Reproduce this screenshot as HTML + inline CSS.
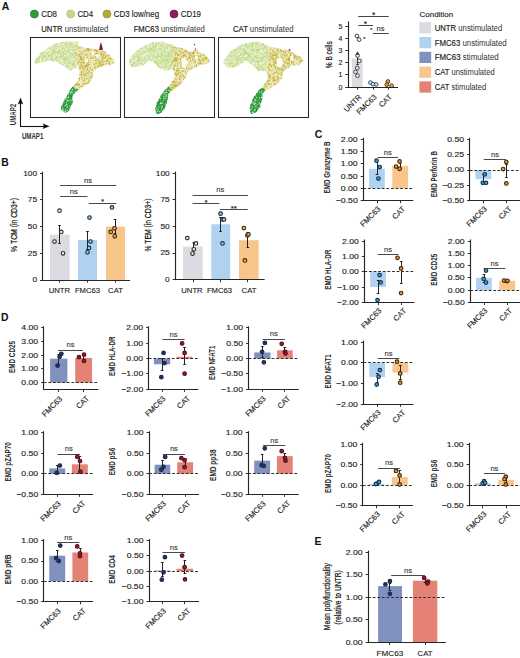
<!DOCTYPE html>
<html><head><meta charset="utf-8"><style>
html,body{margin:0;padding:0;background:#fff;width:520px;height:658px;overflow:hidden}
svg{display:block}
text{font-family:"Liberation Sans", sans-serif}
</style></head><body>
<svg width="520" height="658" viewBox="0 0 520 658">
<rect width="520" height="658" fill="#fff"/>
<text x="1.80" y="9.60" font-size="10.4" text-anchor="start" font-weight="bold" fill="#111">A</text>
<circle cx="34.40" cy="14.00" r="4.0" fill="#2f9a3c" stroke="#1f7a2a" stroke-width="0.7"/>
<text x="41.20" y="17.00" font-size="8.4" text-anchor="start" font-weight="normal" fill="#1c1c1c" textLength="15.80" lengthAdjust="spacingAndGlyphs" stroke="#1c1c1c" stroke-width="0.13">CD8</text>
<circle cx="70.60" cy="14.00" r="4.0" fill="#c3d98c" stroke="#aec676" stroke-width="0.7"/>
<text x="77.40" y="17.00" font-size="8.4" text-anchor="start" font-weight="normal" fill="#1c1c1c" textLength="15.80" lengthAdjust="spacingAndGlyphs" stroke="#1c1c1c" stroke-width="0.13">CD4</text>
<circle cx="107.00" cy="14.00" r="4.0" fill="#b7a83e" stroke="#9a8c2c" stroke-width="0.7"/>
<text x="113.80" y="17.00" font-size="8.4" text-anchor="start" font-weight="normal" fill="#1c1c1c" textLength="45.23" lengthAdjust="spacingAndGlyphs" stroke="#1c1c1c" stroke-width="0.13">CD3 low/neg</text>
<circle cx="174.00" cy="14.00" r="4.0" fill="#8a1f62" stroke="#6a1248" stroke-width="0.7"/>
<text x="180.80" y="17.00" font-size="8.4" text-anchor="start" font-weight="normal" fill="#1c1c1c" textLength="20.20" lengthAdjust="spacingAndGlyphs" stroke="#1c1c1c" stroke-width="0.13">CD19</text>
<text x="74.80" y="32.00" font-size="8.3" text-anchor="middle" fill="#1c1c1c" textLength="67.00" lengthAdjust="spacingAndGlyphs"><tspan stroke="#1c1c1c" stroke-width="0.16">UNTR</tspan><tspan fill="#333"> unstimulated</tspan></text>
<text x="169.20" y="32.00" font-size="8.3" text-anchor="middle" fill="#1c1c1c" textLength="71.04" lengthAdjust="spacingAndGlyphs"><tspan stroke="#1c1c1c" stroke-width="0.16">FMC63</tspan><tspan fill="#333"> unstimulated</tspan></text>
<text x="263.30" y="32.00" font-size="8.3" text-anchor="middle" fill="#1c1c1c" textLength="60.48" lengthAdjust="spacingAndGlyphs"><tspan stroke="#1c1c1c" stroke-width="0.16">CAT</tspan><tspan fill="#333"> unstimulated</tspan></text>
<rect x="30.50" y="37.50" width="90" height="80" fill="#fff" stroke="#2a2a2a" stroke-width="1.05"/>
<polygon points="33.8,62.0 39.6,54.3 49.2,46.7 58.8,42.8 68.5,40.9 78.1,41.8 77.1,46.1 75.6,57.2 77.1,67.7 74.1,68.7 70.4,70.7 63.7,65.9 56.9,62.0 49.2,60.1 39.6,63.0 34.6,63.7" fill="#d9e9b2"/>
<circle cx="68.2" cy="48.0" r="0.7" fill="#c9dd94"/>
<circle cx="68.0" cy="54.9" r="0.7" fill="#c9dd94"/>
<circle cx="69.3" cy="42.9" r="0.7" fill="#c0d783"/>
<circle cx="74.2" cy="52.3" r="0.7" fill="#b7d07a"/>
<circle cx="76.3" cy="52.0" r="0.7" fill="#c0d783"/>
<circle cx="75.7" cy="53.1" r="0.7" fill="#b7d07a"/>
<circle cx="75.5" cy="43.1" r="0.7" fill="#b7d07a"/>
<circle cx="66.2" cy="62.5" r="0.7" fill="#c9dd94"/>
<circle cx="72.3" cy="55.2" r="0.7" fill="#b7d07a"/>
<circle cx="69.7" cy="53.1" r="0.7" fill="#c0d783"/>
<circle cx="68.7" cy="63.4" r="0.7" fill="#c0d783"/>
<circle cx="53.1" cy="56.1" r="0.7" fill="#c0d783"/>
<circle cx="56.9" cy="52.4" r="0.7" fill="#c9dd94"/>
<circle cx="66.7" cy="54.8" r="0.7" fill="#c9dd94"/>
<circle cx="60.3" cy="52.4" r="0.7" fill="#c0d783"/>
<circle cx="75.4" cy="57.3" r="0.7" fill="#c9dd94"/>
<circle cx="59.6" cy="54.5" r="0.7" fill="#c9dd94"/>
<circle cx="63.3" cy="59.3" r="0.7" fill="#b7d07a"/>
<circle cx="70.8" cy="68.1" r="0.7" fill="#b7d07a"/>
<circle cx="56.5" cy="44.0" r="0.7" fill="#b7d07a"/>
<circle cx="55.1" cy="51.5" r="0.7" fill="#b7d07a"/>
<circle cx="42.1" cy="56.0" r="0.7" fill="#c9dd94"/>
<circle cx="70.5" cy="53.1" r="0.7" fill="#c0d783"/>
<circle cx="57.7" cy="59.7" r="0.7" fill="#b7d07a"/>
<circle cx="48.1" cy="59.0" r="0.7" fill="#c0d783"/>
<circle cx="62.2" cy="57.4" r="0.7" fill="#c0d783"/>
<circle cx="72.7" cy="65.3" r="0.7" fill="#c9dd94"/>
<circle cx="69.7" cy="45.8" r="0.7" fill="#c9dd94"/>
<circle cx="57.2" cy="45.2" r="0.7" fill="#c9dd94"/>
<circle cx="62.8" cy="49.3" r="0.7" fill="#b7d07a"/>
<circle cx="47.7" cy="55.0" r="0.7" fill="#c0d783"/>
<circle cx="47.2" cy="50.8" r="0.7" fill="#c0d783"/>
<circle cx="56.2" cy="53.5" r="0.7" fill="#c0d783"/>
<circle cx="65.0" cy="54.2" r="0.7" fill="#b7d07a"/>
<circle cx="62.8" cy="52.5" r="0.7" fill="#b7d07a"/>
<circle cx="70.0" cy="60.9" r="0.7" fill="#c9dd94"/>
<circle cx="67.2" cy="53.1" r="0.7" fill="#c9dd94"/>
<circle cx="38.8" cy="57.7" r="0.7" fill="#c0d783"/>
<circle cx="60.1" cy="46.8" r="0.7" fill="#b7d07a"/>
<circle cx="73.1" cy="64.7" r="0.7" fill="#b7d07a"/>
<circle cx="56.4" cy="51.9" r="0.7" fill="#c9dd94"/>
<circle cx="37.4" cy="58.1" r="0.7" fill="#c9dd94"/>
<circle cx="60.2" cy="55.6" r="0.7" fill="#b7d07a"/>
<circle cx="50.9" cy="55.9" r="0.7" fill="#c0d783"/>
<circle cx="76.0" cy="50.8" r="0.7" fill="#b7d07a"/>
<circle cx="40.5" cy="57.0" r="0.7" fill="#c9dd94"/>
<circle cx="67.9" cy="59.0" r="0.7" fill="#c9dd94"/>
<circle cx="49.8" cy="50.7" r="0.7" fill="#c9dd94"/>
<circle cx="68.9" cy="62.6" r="0.7" fill="#c9dd94"/>
<circle cx="39.1" cy="57.4" r="0.7" fill="#c0d783"/>
<circle cx="47.6" cy="52.8" r="0.7" fill="#c9dd94"/>
<circle cx="72.9" cy="65.0" r="0.7" fill="#c0d783"/>
<circle cx="48.6" cy="59.5" r="0.7" fill="#c9dd94"/>
<circle cx="49.7" cy="49.3" r="0.7" fill="#b7d07a"/>
<circle cx="75.6" cy="54.5" r="0.7" fill="#c9dd94"/>
<circle cx="46.5" cy="59.4" r="0.7" fill="#c0d783"/>
<circle cx="67.2" cy="43.2" r="0.7" fill="#c9dd94"/>
<circle cx="70.1" cy="57.2" r="0.7" fill="#c9dd94"/>
<circle cx="58.3" cy="62.5" r="0.7" fill="#c9dd94"/>
<circle cx="37.4" cy="60.6" r="0.7" fill="#c0d783"/>
<circle cx="75.7" cy="63.0" r="0.7" fill="#c9dd94"/>
<circle cx="53.6" cy="49.9" r="0.7" fill="#c0d783"/>
<circle cx="60.6" cy="54.4" r="0.7" fill="#c9dd94"/>
<circle cx="42.8" cy="59.5" r="0.7" fill="#b7d07a"/>
<circle cx="73.0" cy="54.8" r="0.7" fill="#c9dd94"/>
<circle cx="44.8" cy="57.1" r="0.7" fill="#c9dd94"/>
<circle cx="70.8" cy="42.7" r="0.7" fill="#c9dd94"/>
<circle cx="37.0" cy="58.2" r="0.7" fill="#c9dd94"/>
<circle cx="47.0" cy="50.3" r="0.7" fill="#c9dd94"/>
<circle cx="69.5" cy="58.3" r="0.7" fill="#c9dd94"/>
<circle cx="70.2" cy="52.7" r="0.7" fill="#c9dd94"/>
<circle cx="36.3" cy="60.1" r="0.7" fill="#c9dd94"/>
<circle cx="67.6" cy="51.3" r="0.7" fill="#c9dd94"/>
<circle cx="72.7" cy="44.8" r="0.7" fill="#b7d07a"/>
<circle cx="68.8" cy="50.3" r="0.7" fill="#b7d07a"/>
<circle cx="76.7" cy="45.4" r="0.7" fill="#c0d783"/>
<circle cx="74.6" cy="65.5" r="0.7" fill="#b7d07a"/>
<circle cx="71.7" cy="63.6" r="0.7" fill="#b7d07a"/>
<circle cx="72.7" cy="47.8" r="0.7" fill="#c0d783"/>
<circle cx="64.4" cy="54.1" r="0.7" fill="#c9dd94"/>
<circle cx="58.2" cy="57.1" r="0.7" fill="#b7d07a"/>
<circle cx="53.8" cy="52.5" r="0.7" fill="#c9dd94"/>
<circle cx="40.7" cy="55.3" r="0.7" fill="#b7d07a"/>
<circle cx="59.7" cy="58.8" r="0.7" fill="#c0d783"/>
<circle cx="51.2" cy="52.7" r="0.7" fill="#b7d07a"/>
<circle cx="75.9" cy="60.2" r="0.7" fill="#c0d783"/>
<circle cx="43.8" cy="55.6" r="0.7" fill="#c9dd94"/>
<circle cx="48.4" cy="59.3" r="0.7" fill="#b7d07a"/>
<circle cx="75.3" cy="48.7" r="0.7" fill="#b7d07a"/>
<circle cx="68.1" cy="60.4" r="0.7" fill="#c9dd94"/>
<circle cx="73.7" cy="49.8" r="0.7" fill="#b7d07a"/>
<circle cx="46.7" cy="57.5" r="0.7" fill="#c0d783"/>
<circle cx="65.3" cy="63.3" r="0.7" fill="#b7d07a"/>
<circle cx="60.9" cy="56.2" r="0.7" fill="#c9dd94"/>
<circle cx="42.9" cy="58.0" r="0.7" fill="#c0d783"/>
<circle cx="55.7" cy="52.4" r="0.7" fill="#b7d07a"/>
<circle cx="48.9" cy="56.3" r="0.7" fill="#c0d783"/>
<circle cx="66.9" cy="42.6" r="0.7" fill="#c0d783"/>
<circle cx="53.1" cy="59.7" r="0.7" fill="#c9dd94"/>
<circle cx="77.2" cy="43.7" r="0.7" fill="#b7d07a"/>
<circle cx="63.4" cy="48.7" r="0.7" fill="#c9dd94"/>
<circle cx="41.6" cy="53.9" r="0.7" fill="#c0d783"/>
<circle cx="67.9" cy="66.4" r="0.7" fill="#c9dd94"/>
<circle cx="69.4" cy="65.6" r="0.7" fill="#c0d783"/>
<circle cx="58.1" cy="55.5" r="0.7" fill="#c0d783"/>
<circle cx="68.4" cy="58.0" r="0.7" fill="#c9dd94"/>
<circle cx="66.3" cy="60.6" r="0.7" fill="#c0d783"/>
<circle cx="56.0" cy="58.1" r="0.7" fill="#c9dd94"/>
<circle cx="67.9" cy="50.2" r="0.7" fill="#c0d783"/>
<circle cx="53.3" cy="54.2" r="0.7" fill="#c9dd94"/>
<circle cx="57.8" cy="50.7" r="0.7" fill="#b7d07a"/>
<circle cx="64.4" cy="55.6" r="0.7" fill="#b7d07a"/>
<circle cx="75.3" cy="52.1" r="0.7" fill="#b7d07a"/>
<circle cx="71.2" cy="56.1" r="0.7" fill="#c9dd94"/>
<circle cx="60.6" cy="56.3" r="0.7" fill="#b7d07a"/>
<circle cx="65.3" cy="54.2" r="0.7" fill="#b7d07a"/>
<circle cx="57.4" cy="51.3" r="0.7" fill="#c0d783"/>
<circle cx="64.2" cy="58.3" r="0.7" fill="#c9dd94"/>
<circle cx="48.4" cy="59.7" r="0.7" fill="#b7d07a"/>
<circle cx="66.2" cy="44.9" r="0.7" fill="#c9dd94"/>
<circle cx="69.0" cy="66.8" r="0.7" fill="#c0d783"/>
<circle cx="70.5" cy="59.2" r="0.7" fill="#c9dd94"/>
<circle cx="75.1" cy="65.3" r="0.7" fill="#c9dd94"/>
<circle cx="73.3" cy="57.2" r="0.7" fill="#c0d783"/>
<circle cx="54.2" cy="48.1" r="0.7" fill="#c0d783"/>
<circle cx="52.4" cy="51.2" r="0.7" fill="#b7d07a"/>
<circle cx="53.3" cy="45.1" r="0.7" fill="#b7d07a"/>
<circle cx="60.8" cy="46.5" r="0.7" fill="#c0d783"/>
<circle cx="36.0" cy="62.1" r="0.7" fill="#b7d07a"/>
<circle cx="63.3" cy="54.8" r="0.7" fill="#b7d07a"/>
<circle cx="66.9" cy="45.3" r="0.7" fill="#b7d07a"/>
<circle cx="58.6" cy="51.2" r="0.7" fill="#b7d07a"/>
<circle cx="43.5" cy="57.7" r="0.7" fill="#c0d783"/>
<circle cx="55.2" cy="48.2" r="0.7" fill="#b7d07a"/>
<circle cx="74.4" cy="59.7" r="0.7" fill="#c9dd94"/>
<circle cx="36.2" cy="63.2" r="0.7" fill="#b7d07a"/>
<circle cx="66.5" cy="59.2" r="0.7" fill="#c9dd94"/>
<circle cx="54.1" cy="45.1" r="0.7" fill="#c0d783"/>
<circle cx="74.2" cy="53.9" r="0.7" fill="#c9dd94"/>
<circle cx="67.6" cy="47.5" r="0.7" fill="#b7d07a"/>
<circle cx="42.3" cy="61.6" r="0.7" fill="#c0d783"/>
<circle cx="65.4" cy="65.8" r="0.7" fill="#b7d07a"/>
<circle cx="53.3" cy="61.0" r="0.7" fill="#c9dd94"/>
<circle cx="38.3" cy="61.9" r="0.7" fill="#c0d783"/>
<circle cx="45.9" cy="57.3" r="0.7" fill="#c9dd94"/>
<circle cx="48.1" cy="58.8" r="0.7" fill="#c0d783"/>
<circle cx="69.7" cy="67.2" r="0.7" fill="#c9dd94"/>
<circle cx="74.0" cy="66.9" r="0.7" fill="#c9dd94"/>
<circle cx="75.3" cy="52.6" r="0.7" fill="#b7d07a"/>
<circle cx="67.3" cy="61.7" r="0.7" fill="#c0d783"/>
<circle cx="63.5" cy="52.3" r="0.7" fill="#b7d07a"/>
<circle cx="62.2" cy="47.7" r="0.7" fill="#b7d07a"/>
<circle cx="49.0" cy="59.2" r="0.7" fill="#b7d07a"/>
<circle cx="74.7" cy="57.3" r="0.7" fill="#b7d07a"/>
<circle cx="65.8" cy="63.5" r="0.7" fill="#b7d07a"/>
<circle cx="77.8" cy="42.2" r="0.7" fill="#c0d783"/>
<circle cx="75.3" cy="67.1" r="0.7" fill="#c0d783"/>
<circle cx="70.4" cy="54.8" r="0.7" fill="#c9dd94"/>
<circle cx="68.1" cy="68.5" r="0.7" fill="#c9dd94"/>
<circle cx="69.6" cy="65.6" r="0.7" fill="#b7d07a"/>
<circle cx="46.9" cy="53.4" r="0.7" fill="#c0d783"/>
<circle cx="56.1" cy="46.4" r="0.7" fill="#c9dd94"/>
<circle cx="56.4" cy="52.3" r="0.7" fill="#b7d07a"/>
<circle cx="70.5" cy="56.6" r="0.7" fill="#b7d07a"/>
<circle cx="66.1" cy="66.4" r="0.7" fill="#b7d07a"/>
<circle cx="67.2" cy="46.3" r="0.7" fill="#c9dd94"/>
<circle cx="48.8" cy="58.2" r="0.7" fill="#c0d783"/>
<circle cx="57.5" cy="53.2" r="0.7" fill="#c9dd94"/>
<circle cx="49.1" cy="50.2" r="0.7" fill="#b7d07a"/>
<circle cx="66.5" cy="64.9" r="0.7" fill="#b7d07a"/>
<circle cx="70.6" cy="69.3" r="0.7" fill="#b7d07a"/>
<circle cx="69.9" cy="44.2" r="0.7" fill="#b7d07a"/>
<circle cx="59.4" cy="50.7" r="0.7" fill="#b7d07a"/>
<circle cx="49.9" cy="49.7" r="0.7" fill="#b7d07a"/>
<circle cx="64.6" cy="57.8" r="0.7" fill="#c0d783"/>
<circle cx="41.3" cy="53.0" r="0.7" fill="#b7d07a"/>
<circle cx="65.9" cy="46.4" r="0.7" fill="#c0d783"/>
<circle cx="62.1" cy="56.6" r="0.7" fill="#c0d783"/>
<circle cx="72.4" cy="65.2" r="0.7" fill="#c0d783"/>
<circle cx="62.6" cy="45.4" r="0.7" fill="#c9dd94"/>
<circle cx="72.0" cy="62.5" r="0.7" fill="#c9dd94"/>
<circle cx="43.7" cy="54.3" r="0.7" fill="#c9dd94"/>
<circle cx="69.8" cy="63.0" r="0.7" fill="#c9dd94"/>
<circle cx="57.4" cy="52.0" r="0.7" fill="#c9dd94"/>
<circle cx="36.3" cy="59.5" r="0.7" fill="#b7d07a"/>
<circle cx="69.7" cy="58.5" r="0.7" fill="#c0d783"/>
<circle cx="65.0" cy="60.3" r="0.7" fill="#b7d07a"/>
<circle cx="73.9" cy="63.7" r="0.7" fill="#b7d07a"/>
<circle cx="45.9" cy="53.0" r="0.7" fill="#b7d07a"/>
<circle cx="51.7" cy="59.9" r="0.7" fill="#c9dd94"/>
<circle cx="45.8" cy="60.9" r="0.7" fill="#b7d07a"/>
<circle cx="69.0" cy="60.1" r="0.7" fill="#c9dd94"/>
<circle cx="68.4" cy="52.3" r="0.7" fill="#c0d783"/>
<circle cx="55.2" cy="44.5" r="0.7" fill="#c0d783"/>
<circle cx="60.1" cy="49.0" r="0.7" fill="#c9dd94"/>
<circle cx="44.7" cy="56.2" r="0.7" fill="#b7d07a"/>
<circle cx="52.3" cy="48.6" r="0.7" fill="#c9dd94"/>
<circle cx="68.8" cy="55.3" r="0.7" fill="#b7d07a"/>
<circle cx="71.2" cy="70.1" r="0.7" fill="#c9dd94"/>
<circle cx="66.0" cy="42.8" r="0.7" fill="#c0d783"/>
<circle cx="66.6" cy="43.2" r="0.7" fill="#c0d783"/>
<circle cx="71.4" cy="42.7" r="0.7" fill="#b7d07a"/>
<circle cx="42.9" cy="53.3" r="0.7" fill="#c0d783"/>
<circle cx="37.6" cy="57.5" r="0.7" fill="#c9dd94"/>
<circle cx="71.5" cy="63.5" r="0.7" fill="#c9dd94"/>
<circle cx="64.5" cy="45.6" r="0.7" fill="#b7d07a"/>
<circle cx="72.5" cy="64.9" r="0.7" fill="#b7d07a"/>
<circle cx="64.4" cy="55.7" r="0.7" fill="#c9dd94"/>
<circle cx="74.7" cy="46.3" r="0.7" fill="#b7d07a"/>
<circle cx="73.0" cy="60.1" r="0.7" fill="#b7d07a"/>
<circle cx="75.1" cy="65.0" r="0.7" fill="#b7d07a"/>
<circle cx="48.4" cy="55.4" r="0.7" fill="#c0d783"/>
<circle cx="67.9" cy="63.1" r="0.7" fill="#c9dd94"/>
<circle cx="45.2" cy="57.1" r="0.7" fill="#c9dd94"/>
<circle cx="51.7" cy="59.9" r="0.7" fill="#c0d783"/>
<circle cx="57.5" cy="59.3" r="0.7" fill="#c0d783"/>
<circle cx="76.6" cy="48.5" r="0.7" fill="#c9dd94"/>
<circle cx="65.0" cy="48.4" r="0.7" fill="#c0d783"/>
<circle cx="55.9" cy="58.9" r="0.7" fill="#c0d783"/>
<circle cx="48.5" cy="59.2" r="0.7" fill="#c0d783"/>
<circle cx="67.0" cy="58.4" r="0.7" fill="#c9dd94"/>
<circle cx="74.1" cy="49.9" r="0.7" fill="#c9dd94"/>
<circle cx="73.9" cy="62.1" r="0.7" fill="#c0d783"/>
<circle cx="65.3" cy="57.8" r="0.7" fill="#b7d07a"/>
<circle cx="38.2" cy="57.8" r="0.7" fill="#b7d07a"/>
<circle cx="61.3" cy="42.6" r="0.7" fill="#c0d783"/>
<circle cx="45.8" cy="59.8" r="0.7" fill="#c9dd94"/>
<circle cx="74.4" cy="44.5" r="0.7" fill="#b7d07a"/>
<circle cx="66.4" cy="43.2" r="0.7" fill="#c9dd94"/>
<circle cx="44.3" cy="56.7" r="0.7" fill="#c9dd94"/>
<circle cx="62.4" cy="47.6" r="0.7" fill="#b7d07a"/>
<circle cx="69.4" cy="62.9" r="0.7" fill="#c0d783"/>
<circle cx="61.5" cy="56.7" r="0.7" fill="#b7d07a"/>
<circle cx="60.6" cy="43.4" r="0.7" fill="#c0d783"/>
<circle cx="42.8" cy="53.7" r="0.7" fill="#b7d07a"/>
<circle cx="76.5" cy="48.2" r="0.7" fill="#c0d783"/>
<circle cx="58.0" cy="57.2" r="0.7" fill="#b7d07a"/>
<circle cx="56.3" cy="58.4" r="0.7" fill="#b7d07a"/>
<circle cx="72.1" cy="50.6" r="0.7" fill="#c9dd94"/>
<circle cx="50.5" cy="53.9" r="0.7" fill="#c0d783"/>
<circle cx="70.5" cy="44.1" r="0.7" fill="#b7d07a"/>
<circle cx="60.5" cy="53.3" r="0.7" fill="#c9dd94"/>
<circle cx="51.7" cy="59.2" r="0.7" fill="#c0d783"/>
<circle cx="62.7" cy="62.1" r="0.7" fill="#c0d783"/>
<circle cx="71.3" cy="58.6" r="0.7" fill="#b7d07a"/>
<circle cx="56.3" cy="51.2" r="0.7" fill="#c9dd94"/>
<circle cx="69.0" cy="58.0" r="0.7" fill="#b7d07a"/>
<circle cx="49.3" cy="55.0" r="0.7" fill="#b7d07a"/>
<circle cx="43.9" cy="57.8" r="0.7" fill="#c9dd94"/>
<circle cx="73.2" cy="43.6" r="0.7" fill="#c0d783"/>
<circle cx="75.2" cy="49.9" r="0.7" fill="#b7d07a"/>
<circle cx="50.2" cy="49.2" r="0.7" fill="#c9dd94"/>
<circle cx="62.2" cy="56.4" r="0.7" fill="#c0d783"/>
<circle cx="56.6" cy="57.2" r="0.7" fill="#b7d07a"/>
<circle cx="55.4" cy="50.7" r="0.7" fill="#b7d07a"/>
<circle cx="38.4" cy="58.4" r="0.7" fill="#c9dd94"/>
<circle cx="74.3" cy="52.1" r="0.7" fill="#c0d783"/>
<circle cx="51.2" cy="47.1" r="0.7" fill="#c0d783"/>
<circle cx="63.2" cy="64.8" r="0.7" fill="#c9dd94"/>
<circle cx="67.2" cy="51.7" r="0.7" fill="#b7d07a"/>
<circle cx="68.6" cy="62.9" r="0.7" fill="#c0d783"/>
<circle cx="52.8" cy="52.6" r="0.7" fill="#c0d783"/>
<circle cx="71.7" cy="44.7" r="0.7" fill="#c9dd94"/>
<circle cx="54.0" cy="51.9" r="0.7" fill="#b7d07a"/>
<circle cx="69.7" cy="49.1" r="0.7" fill="#c0d783"/>
<circle cx="39.9" cy="56.6" r="0.7" fill="#c0d783"/>
<circle cx="51.2" cy="60.1" r="0.7" fill="#b7d07a"/>
<circle cx="69.5" cy="47.2" r="0.7" fill="#b7d07a"/>
<circle cx="74.8" cy="61.0" r="0.7" fill="#c9dd94"/>
<circle cx="63.5" cy="42.3" r="0.7" fill="#b7d07a"/>
<circle cx="40.9" cy="58.5" r="0.7" fill="#b7d07a"/>
<circle cx="41.6" cy="55.9" r="0.7" fill="#b7d07a"/>
<circle cx="63.1" cy="57.0" r="0.7" fill="#c0d783"/>
<circle cx="51.2" cy="54.7" r="0.7" fill="#b7d07a"/>
<circle cx="62.6" cy="52.2" r="0.7" fill="#b7d07a"/>
<circle cx="72.6" cy="54.7" r="0.7" fill="#b7d07a"/>
<circle cx="52.0" cy="58.8" r="0.7" fill="#b7d07a"/>
<circle cx="65.6" cy="50.0" r="0.7" fill="#b7d07a"/>
<circle cx="70.0" cy="57.5" r="0.7" fill="#b7d07a"/>
<circle cx="51.1" cy="52.3" r="0.7" fill="#c0d783"/>
<circle cx="55.7" cy="48.8" r="0.7" fill="#c0d783"/>
<circle cx="75.8" cy="48.1" r="0.7" fill="#c9dd94"/>
<circle cx="49.0" cy="48.8" r="0.7" fill="#c9dd94"/>
<circle cx="61.4" cy="57.2" r="0.7" fill="#b7d07a"/>
<circle cx="73.2" cy="58.3" r="0.7" fill="#b7d07a"/>
<circle cx="39.9" cy="61.1" r="0.7" fill="#c0d783"/>
<circle cx="67.4" cy="52.1" r="0.7" fill="#b7d07a"/>
<circle cx="39.2" cy="58.9" r="0.7" fill="#b7d07a"/>
<circle cx="44.0" cy="52.0" r="0.7" fill="#c9dd94"/>
<circle cx="39.5" cy="55.5" r="0.7" fill="#c9dd94"/>
<circle cx="42.5" cy="54.6" r="0.7" fill="#c9dd94"/>
<circle cx="69.9" cy="59.7" r="0.7" fill="#c0d783"/>
<circle cx="61.3" cy="63.9" r="0.7" fill="#c9dd94"/>
<circle cx="69.0" cy="45.0" r="0.7" fill="#c0d783"/>
<circle cx="62.1" cy="47.7" r="0.7" fill="#c0d783"/>
<circle cx="56.1" cy="52.5" r="0.7" fill="#b7d07a"/>
<circle cx="63.4" cy="56.4" r="0.7" fill="#b7d07a"/>
<circle cx="59.6" cy="63.0" r="0.7" fill="#b7d07a"/>
<circle cx="68.1" cy="51.9" r="0.7" fill="#c9dd94"/>
<circle cx="58.0" cy="47.2" r="0.7" fill="#c0d783"/>
<circle cx="62.4" cy="61.3" r="0.55" fill="#ffffff"/>
<circle cx="68.4" cy="53.3" r="0.55" fill="#f4f9e8"/>
<circle cx="55.7" cy="61.2" r="0.55" fill="#ffffff"/>
<circle cx="67.7" cy="55.4" r="0.55" fill="#f4f9e8"/>
<circle cx="70.9" cy="57.0" r="0.55" fill="#f4f9e8"/>
<circle cx="74.8" cy="42.9" r="0.55" fill="#ffffff"/>
<circle cx="72.0" cy="66.4" r="0.55" fill="#ffffff"/>
<circle cx="41.6" cy="56.1" r="0.55" fill="#f4f9e8"/>
<circle cx="68.8" cy="42.0" r="0.55" fill="#ffffff"/>
<circle cx="74.8" cy="49.0" r="0.55" fill="#ffffff"/>
<circle cx="72.9" cy="57.9" r="0.55" fill="#ffffff"/>
<circle cx="71.8" cy="60.4" r="0.55" fill="#f4f9e8"/>
<circle cx="45.2" cy="51.1" r="0.55" fill="#ffffff"/>
<circle cx="54.9" cy="53.5" r="0.55" fill="#f4f9e8"/>
<circle cx="69.6" cy="58.9" r="0.55" fill="#f4f9e8"/>
<circle cx="69.4" cy="51.4" r="0.55" fill="#f4f9e8"/>
<circle cx="59.5" cy="43.5" r="0.55" fill="#ffffff"/>
<circle cx="76.0" cy="63.8" r="0.55" fill="#ffffff"/>
<circle cx="62.3" cy="58.4" r="0.55" fill="#f4f9e8"/>
<circle cx="74.3" cy="42.6" r="0.55" fill="#f4f9e8"/>
<circle cx="74.9" cy="51.4" r="0.55" fill="#ffffff"/>
<circle cx="74.3" cy="44.6" r="0.55" fill="#ffffff"/>
<circle cx="52.3" cy="51.3" r="0.55" fill="#f4f9e8"/>
<circle cx="72.2" cy="59.3" r="0.55" fill="#ffffff"/>
<circle cx="65.7" cy="64.3" r="0.55" fill="#ffffff"/>
<circle cx="70.8" cy="48.3" r="0.55" fill="#f4f9e8"/>
<circle cx="58.3" cy="58.1" r="0.55" fill="#ffffff"/>
<circle cx="76.1" cy="48.4" r="0.55" fill="#ffffff"/>
<circle cx="38.6" cy="57.4" r="0.55" fill="#f4f9e8"/>
<circle cx="66.2" cy="41.4" r="0.55" fill="#f4f9e8"/>
<circle cx="69.3" cy="65.7" r="0.55" fill="#ffffff"/>
<circle cx="70.9" cy="42.3" r="0.55" fill="#f4f9e8"/>
<circle cx="48.5" cy="49.3" r="0.55" fill="#ffffff"/>
<circle cx="69.8" cy="41.1" r="0.55" fill="#f4f9e8"/>
<circle cx="58.6" cy="62.4" r="0.55" fill="#f4f9e8"/>
<circle cx="43.6" cy="58.6" r="0.55" fill="#ffffff"/>
<circle cx="66.2" cy="54.5" r="0.55" fill="#ffffff"/>
<circle cx="49.5" cy="54.4" r="0.55" fill="#f4f9e8"/>
<circle cx="68.2" cy="42.6" r="0.55" fill="#ffffff"/>
<circle cx="55.5" cy="51.7" r="0.55" fill="#f4f9e8"/>
<circle cx="76.5" cy="42.2" r="0.55" fill="#ffffff"/>
<circle cx="41.5" cy="59.7" r="0.55" fill="#f4f9e8"/>
<circle cx="61.2" cy="51.5" r="0.55" fill="#f4f9e8"/>
<circle cx="61.8" cy="61.0" r="0.55" fill="#f4f9e8"/>
<circle cx="71.1" cy="58.4" r="0.55" fill="#f4f9e8"/>
<circle cx="65.3" cy="65.5" r="0.55" fill="#f4f9e8"/>
<circle cx="60.6" cy="63.4" r="0.55" fill="#f4f9e8"/>
<circle cx="60.8" cy="45.2" r="0.55" fill="#f4f9e8"/>
<circle cx="64.1" cy="56.6" r="0.55" fill="#f4f9e8"/>
<circle cx="60.9" cy="48.1" r="0.55" fill="#f4f9e8"/>
<circle cx="69.0" cy="54.4" r="0.55" fill="#f4f9e8"/>
<circle cx="43.5" cy="54.0" r="0.55" fill="#f4f9e8"/>
<circle cx="75.7" cy="62.0" r="0.55" fill="#ffffff"/>
<circle cx="50.6" cy="53.8" r="0.55" fill="#ffffff"/>
<circle cx="67.2" cy="49.6" r="0.55" fill="#ffffff"/>
<circle cx="47.8" cy="49.7" r="0.55" fill="#ffffff"/>
<circle cx="62.7" cy="44.0" r="0.55" fill="#f4f9e8"/>
<circle cx="65.2" cy="45.7" r="0.55" fill="#f4f9e8"/>
<circle cx="46.8" cy="51.9" r="0.55" fill="#f4f9e8"/>
<circle cx="70.3" cy="67.2" r="0.55" fill="#ffffff"/>
<circle cx="51.7" cy="47.3" r="0.55" fill="#ffffff"/>
<circle cx="61.4" cy="59.9" r="0.55" fill="#ffffff"/>
<circle cx="65.8" cy="52.0" r="0.55" fill="#ffffff"/>
<circle cx="66.1" cy="49.4" r="0.55" fill="#f4f9e8"/>
<circle cx="47.0" cy="55.7" r="0.55" fill="#ffffff"/>
<circle cx="56.6" cy="50.0" r="0.55" fill="#ffffff"/>
<circle cx="59.8" cy="49.2" r="0.55" fill="#f4f9e8"/>
<circle cx="67.6" cy="60.2" r="0.55" fill="#ffffff"/>
<circle cx="67.4" cy="63.7" r="0.55" fill="#f4f9e8"/>
<circle cx="56.6" cy="45.1" r="0.55" fill="#f4f9e8"/>
<circle cx="35.7" cy="63.2" r="0.55" fill="#ffffff"/>
<circle cx="57.7" cy="50.5" r="0.55" fill="#ffffff"/>
<circle cx="61.1" cy="57.7" r="0.55" fill="#f4f9e8"/>
<circle cx="58.3" cy="47.9" r="0.55" fill="#ffffff"/>
<circle cx="58.8" cy="56.0" r="0.55" fill="#ffffff"/>
<circle cx="68.1" cy="46.8" r="0.55" fill="#ffffff"/>
<circle cx="66.4" cy="41.9" r="0.55" fill="#f4f9e8"/>
<circle cx="46.1" cy="50.8" r="0.55" fill="#ffffff"/>
<circle cx="63.6" cy="43.7" r="0.55" fill="#ffffff"/>
<circle cx="35.3" cy="63.1" r="0.55" fill="#ffffff"/>
<circle cx="44.5" cy="53.3" r="0.55" fill="#ffffff"/>
<circle cx="66.3" cy="62.9" r="0.55" fill="#ffffff"/>
<circle cx="47.9" cy="51.3" r="0.55" fill="#f4f9e8"/>
<circle cx="72.8" cy="52.2" r="0.55" fill="#f4f9e8"/>
<circle cx="75.9" cy="66.4" r="0.55" fill="#f4f9e8"/>
<circle cx="73.4" cy="68.9" r="0.55" fill="#ffffff"/>
<circle cx="53.0" cy="48.7" r="0.55" fill="#f4f9e8"/>
<circle cx="67.7" cy="51.7" r="0.55" fill="#f4f9e8"/>
<circle cx="49.7" cy="49.9" r="0.55" fill="#f4f9e8"/>
<circle cx="56.5" cy="51.7" r="0.55" fill="#f4f9e8"/>
<circle cx="40.6" cy="57.9" r="0.55" fill="#ffffff"/>
<circle cx="40.5" cy="60.4" r="0.55" fill="#ffffff"/>
<circle cx="61.1" cy="47.4" r="0.55" fill="#f4f9e8"/>
<circle cx="47.1" cy="53.5" r="0.55" fill="#f4f9e8"/>
<circle cx="71.9" cy="61.7" r="0.55" fill="#ffffff"/>
<circle cx="64.5" cy="55.2" r="0.55" fill="#ffffff"/>
<circle cx="73.1" cy="67.2" r="0.55" fill="#f4f9e8"/>
<circle cx="45.3" cy="59.4" r="0.55" fill="#ffffff"/>
<circle cx="46.9" cy="57.8" r="0.55" fill="#ffffff"/>
<circle cx="74.0" cy="44.4" r="0.55" fill="#ffffff"/>
<circle cx="69.3" cy="67.3" r="0.55" fill="#f4f9e8"/>
<circle cx="59.7" cy="55.0" r="0.55" fill="#f4f9e8"/>
<circle cx="65.0" cy="46.6" r="0.55" fill="#f4f9e8"/>
<circle cx="62.6" cy="46.1" r="0.55" fill="#f4f9e8"/>
<circle cx="40.4" cy="61.9" r="0.55" fill="#ffffff"/>
<circle cx="72.3" cy="55.8" r="0.55" fill="#f4f9e8"/>
<circle cx="59.3" cy="55.2" r="0.55" fill="#f4f9e8"/>
<circle cx="72.2" cy="48.2" r="0.55" fill="#f4f9e8"/>
<circle cx="48.0" cy="49.9" r="0.55" fill="#f4f9e8"/>
<circle cx="61.2" cy="48.8" r="0.55" fill="#f4f9e8"/>
<circle cx="59.5" cy="59.3" r="0.55" fill="#ffffff"/>
<circle cx="47.7" cy="51.1" r="0.55" fill="#f4f9e8"/>
<circle cx="65.0" cy="46.0" r="0.55" fill="#f4f9e8"/>
<circle cx="39.7" cy="55.2" r="0.55" fill="#ffffff"/>
<circle cx="56.8" cy="54.9" r="0.55" fill="#f4f9e8"/>
<circle cx="69.6" cy="57.8" r="0.55" fill="#f4f9e8"/>
<circle cx="51.2" cy="52.2" r="0.55" fill="#f4f9e8"/>
<circle cx="40.5" cy="58.6" r="0.55" fill="#ffffff"/>
<circle cx="71.7" cy="51.6" r="0.55" fill="#f4f9e8"/>
<circle cx="63.5" cy="49.6" r="0.55" fill="#ffffff"/>
<circle cx="49.7" cy="50.6" r="0.55" fill="#ffffff"/>
<circle cx="59.1" cy="55.1" r="0.55" fill="#ffffff"/>
<circle cx="73.7" cy="59.3" r="0.55" fill="#f4f9e8"/>
<circle cx="63.1" cy="56.1" r="0.55" fill="#f4f9e8"/>
<circle cx="75.0" cy="59.5" r="0.55" fill="#f4f9e8"/>
<circle cx="54.5" cy="56.1" r="0.55" fill="#f4f9e8"/>
<circle cx="40.7" cy="59.5" r="0.55" fill="#f4f9e8"/>
<circle cx="63.1" cy="63.3" r="0.55" fill="#f4f9e8"/>
<circle cx="53.6" cy="56.9" r="0.55" fill="#f4f9e8"/>
<circle cx="71.5" cy="41.6" r="0.55" fill="#ffffff"/>
<circle cx="53.3" cy="45.7" r="0.55" fill="#f4f9e8"/>
<circle cx="57.0" cy="58.8" r="0.55" fill="#ffffff"/>
<circle cx="55.4" cy="49.1" r="0.55" fill="#f4f9e8"/>
<circle cx="68.7" cy="45.4" r="0.55" fill="#f4f9e8"/>
<circle cx="54.3" cy="56.0" r="0.55" fill="#ffffff"/>
<circle cx="73.7" cy="59.4" r="0.55" fill="#f4f9e8"/>
<circle cx="56.2" cy="50.1" r="0.55" fill="#f4f9e8"/>
<circle cx="42.8" cy="54.3" r="0.55" fill="#ffffff"/>
<circle cx="50.1" cy="50.1" r="0.55" fill="#f4f9e8"/>
<circle cx="51.2" cy="52.2" r="0.55" fill="#f4f9e8"/>
<circle cx="62.6" cy="52.2" r="0.55" fill="#f4f9e8"/>
<circle cx="40.9" cy="55.5" r="0.55" fill="#f4f9e8"/>
<circle cx="48.6" cy="58.4" r="0.55" fill="#f4f9e8"/>
<circle cx="70.9" cy="68.8" r="0.55" fill="#ffffff"/>
<circle cx="60.3" cy="47.7" r="0.55" fill="#f4f9e8"/>
<circle cx="74.7" cy="64.1" r="0.55" fill="#f4f9e8"/>
<circle cx="49.4" cy="59.0" r="0.55" fill="#f4f9e8"/>
<circle cx="69.1" cy="59.5" r="0.55" fill="#ffffff"/>
<circle cx="73.1" cy="42.9" r="0.55" fill="#ffffff"/>
<circle cx="70.2" cy="42.9" r="0.55" fill="#f4f9e8"/>
<circle cx="76.9" cy="43.4" r="0.55" fill="#ffffff"/>
<circle cx="67.7" cy="44.5" r="0.55" fill="#f4f9e8"/>
<circle cx="57.0" cy="53.6" r="0.55" fill="#f4f9e8"/>
<circle cx="60.9" cy="63.2" r="0.55" fill="#f4f9e8"/>
<circle cx="68.9" cy="47.1" r="0.55" fill="#f4f9e8"/>
<circle cx="63.0" cy="44.1" r="0.55" fill="#f4f9e8"/>
<circle cx="59.0" cy="44.4" r="0.55" fill="#f4f9e8"/>
<circle cx="65.6" cy="48.8" r="0.55" fill="#f4f9e8"/>
<circle cx="64.7" cy="65.2" r="0.55" fill="#f4f9e8"/>
<circle cx="70.5" cy="64.4" r="0.55" fill="#ffffff"/>
<polygon points="76.6,45.8 83.1,47.2 91.1,49.0 98.1,49.5 103.8,50.7 109.6,55.3 114.2,59.9 115.4,62.2 110.8,64.5 103.8,65.7 98.1,68.0 94.6,70.2 93.3,71.7 91.9,78.5 88.6,83.2 83.8,86.5 79.8,89.5 76.1,89.2 72.4,87.2 75.1,84.5 78.5,80.5 79.8,75.1 79.1,68.4 78.1,67.7 75.6,57.2" fill="#e8e2a6"/>
<circle cx="110.4" cy="60.0" r="0.7" fill="#ccbf52"/>
<circle cx="101.4" cy="51.3" r="0.7" fill="#ccbf52"/>
<circle cx="88.7" cy="64.7" r="0.7" fill="#b6a838"/>
<circle cx="77.9" cy="55.8" r="0.7" fill="#c2b442"/>
<circle cx="101.5" cy="65.7" r="0.7" fill="#b6a838"/>
<circle cx="91.2" cy="49.2" r="0.7" fill="#c2b442"/>
<circle cx="106.8" cy="63.8" r="0.7" fill="#c2b442"/>
<circle cx="91.9" cy="76.3" r="0.7" fill="#b6a838"/>
<circle cx="76.7" cy="84.2" r="0.7" fill="#b6a838"/>
<circle cx="100.2" cy="64.8" r="0.7" fill="#c2b442"/>
<circle cx="107.6" cy="61.5" r="0.7" fill="#c2b442"/>
<circle cx="84.4" cy="66.4" r="0.7" fill="#c2b442"/>
<circle cx="94.0" cy="50.7" r="0.7" fill="#b6a838"/>
<circle cx="103.2" cy="62.8" r="0.7" fill="#b6a838"/>
<circle cx="95.9" cy="63.5" r="0.7" fill="#b6a838"/>
<circle cx="88.5" cy="82.8" r="0.7" fill="#ccbf52"/>
<circle cx="88.0" cy="49.2" r="0.7" fill="#c2b442"/>
<circle cx="90.7" cy="58.4" r="0.7" fill="#b6a838"/>
<circle cx="83.9" cy="73.2" r="0.7" fill="#ccbf52"/>
<circle cx="81.3" cy="86.4" r="0.7" fill="#ccbf52"/>
<circle cx="91.1" cy="58.3" r="0.7" fill="#b6a838"/>
<circle cx="79.6" cy="68.1" r="0.7" fill="#b6a838"/>
<circle cx="96.6" cy="63.0" r="0.7" fill="#b6a838"/>
<circle cx="87.6" cy="83.4" r="0.7" fill="#ccbf52"/>
<circle cx="85.0" cy="49.7" r="0.7" fill="#c2b442"/>
<circle cx="91.5" cy="78.1" r="0.7" fill="#ccbf52"/>
<circle cx="95.8" cy="50.5" r="0.7" fill="#c2b442"/>
<circle cx="91.5" cy="72.7" r="0.7" fill="#b6a838"/>
<circle cx="105.3" cy="54.0" r="0.7" fill="#b6a838"/>
<circle cx="78.2" cy="84.4" r="0.7" fill="#c2b442"/>
<circle cx="109.2" cy="64.7" r="0.7" fill="#b6a838"/>
<circle cx="82.6" cy="83.9" r="0.7" fill="#ccbf52"/>
<circle cx="109.4" cy="64.1" r="0.7" fill="#c2b442"/>
<circle cx="79.7" cy="79.9" r="0.7" fill="#c2b442"/>
<circle cx="94.4" cy="51.6" r="0.7" fill="#c2b442"/>
<circle cx="106.9" cy="55.3" r="0.7" fill="#c2b442"/>
<circle cx="85.9" cy="54.7" r="0.7" fill="#ccbf52"/>
<circle cx="78.4" cy="85.5" r="0.7" fill="#b6a838"/>
<circle cx="94.8" cy="49.7" r="0.7" fill="#b6a838"/>
<circle cx="98.9" cy="66.4" r="0.7" fill="#ccbf52"/>
<circle cx="91.0" cy="68.4" r="0.7" fill="#c2b442"/>
<circle cx="82.6" cy="67.3" r="0.7" fill="#c2b442"/>
<circle cx="79.4" cy="61.2" r="0.7" fill="#b6a838"/>
<circle cx="99.5" cy="63.1" r="0.7" fill="#ccbf52"/>
<circle cx="88.9" cy="64.5" r="0.7" fill="#c2b442"/>
<circle cx="80.5" cy="57.2" r="0.7" fill="#b6a838"/>
<circle cx="90.4" cy="68.0" r="0.7" fill="#c2b442"/>
<circle cx="83.1" cy="75.5" r="0.7" fill="#b6a838"/>
<circle cx="84.2" cy="81.5" r="0.7" fill="#ccbf52"/>
<circle cx="103.1" cy="62.2" r="0.7" fill="#ccbf52"/>
<circle cx="97.6" cy="50.7" r="0.7" fill="#b6a838"/>
<circle cx="109.3" cy="55.4" r="0.7" fill="#c2b442"/>
<circle cx="98.4" cy="56.2" r="0.7" fill="#c2b442"/>
<circle cx="98.9" cy="60.7" r="0.7" fill="#c2b442"/>
<circle cx="97.7" cy="61.0" r="0.7" fill="#c2b442"/>
<circle cx="108.8" cy="59.6" r="0.7" fill="#ccbf52"/>
<circle cx="82.8" cy="74.8" r="0.7" fill="#c2b442"/>
<circle cx="78.0" cy="55.8" r="0.7" fill="#c2b442"/>
<circle cx="77.6" cy="82.0" r="0.7" fill="#b6a838"/>
<circle cx="103.1" cy="52.0" r="0.7" fill="#ccbf52"/>
<circle cx="81.1" cy="80.9" r="0.7" fill="#b6a838"/>
<circle cx="103.9" cy="58.0" r="0.7" fill="#b6a838"/>
<circle cx="95.7" cy="53.6" r="0.7" fill="#c2b442"/>
<circle cx="85.3" cy="68.5" r="0.7" fill="#ccbf52"/>
<circle cx="87.1" cy="57.9" r="0.7" fill="#c2b442"/>
<circle cx="80.7" cy="59.2" r="0.7" fill="#b6a838"/>
<circle cx="85.1" cy="56.1" r="0.7" fill="#c2b442"/>
<circle cx="80.1" cy="53.7" r="0.7" fill="#c2b442"/>
<circle cx="81.6" cy="66.5" r="0.7" fill="#b6a838"/>
<circle cx="77.6" cy="86.6" r="0.7" fill="#c2b442"/>
<circle cx="94.7" cy="56.7" r="0.7" fill="#ccbf52"/>
<circle cx="83.1" cy="69.6" r="0.7" fill="#ccbf52"/>
<circle cx="95.3" cy="69.2" r="0.7" fill="#ccbf52"/>
<circle cx="96.7" cy="50.9" r="0.7" fill="#b6a838"/>
<circle cx="81.2" cy="62.9" r="0.7" fill="#ccbf52"/>
<circle cx="77.3" cy="63.6" r="0.7" fill="#ccbf52"/>
<circle cx="81.2" cy="58.7" r="0.7" fill="#ccbf52"/>
<circle cx="80.0" cy="68.6" r="0.7" fill="#b6a838"/>
<circle cx="80.9" cy="52.3" r="0.7" fill="#b6a838"/>
<circle cx="97.8" cy="66.5" r="0.7" fill="#c2b442"/>
<circle cx="92.5" cy="75.0" r="0.7" fill="#c2b442"/>
<circle cx="86.6" cy="66.5" r="0.7" fill="#b6a838"/>
<circle cx="101.1" cy="64.6" r="0.7" fill="#b6a838"/>
<circle cx="83.1" cy="63.3" r="0.7" fill="#ccbf52"/>
<circle cx="88.4" cy="73.2" r="0.7" fill="#c2b442"/>
<circle cx="79.5" cy="84.5" r="0.7" fill="#b6a838"/>
<circle cx="90.3" cy="71.6" r="0.7" fill="#c2b442"/>
<circle cx="87.2" cy="49.0" r="0.7" fill="#ccbf52"/>
<circle cx="101.9" cy="57.4" r="0.7" fill="#b6a838"/>
<circle cx="86.5" cy="70.9" r="0.7" fill="#ccbf52"/>
<circle cx="82.9" cy="57.9" r="0.7" fill="#c2b442"/>
<circle cx="96.8" cy="59.6" r="0.7" fill="#b6a838"/>
<circle cx="101.2" cy="54.8" r="0.7" fill="#b6a838"/>
<circle cx="89.3" cy="82.0" r="0.7" fill="#ccbf52"/>
<circle cx="83.5" cy="52.9" r="0.7" fill="#ccbf52"/>
<circle cx="87.0" cy="83.4" r="0.7" fill="#b6a838"/>
<circle cx="80.3" cy="51.8" r="0.7" fill="#c2b442"/>
<circle cx="81.8" cy="62.9" r="0.7" fill="#c2b442"/>
<circle cx="85.8" cy="65.6" r="0.7" fill="#b6a838"/>
<circle cx="83.0" cy="68.5" r="0.7" fill="#ccbf52"/>
<circle cx="79.9" cy="46.7" r="0.7" fill="#b6a838"/>
<circle cx="88.4" cy="63.0" r="0.7" fill="#ccbf52"/>
<circle cx="83.6" cy="60.2" r="0.7" fill="#c2b442"/>
<circle cx="105.1" cy="52.2" r="0.7" fill="#ccbf52"/>
<circle cx="99.4" cy="57.0" r="0.7" fill="#ccbf52"/>
<circle cx="105.1" cy="57.9" r="0.7" fill="#ccbf52"/>
<circle cx="89.3" cy="62.0" r="0.7" fill="#c2b442"/>
<circle cx="87.5" cy="69.7" r="0.7" fill="#b6a838"/>
<circle cx="103.1" cy="55.1" r="0.7" fill="#c2b442"/>
<circle cx="103.3" cy="62.6" r="0.7" fill="#ccbf52"/>
<circle cx="78.2" cy="62.4" r="0.7" fill="#c2b442"/>
<circle cx="100.3" cy="61.1" r="0.7" fill="#ccbf52"/>
<circle cx="76.4" cy="85.9" r="0.7" fill="#ccbf52"/>
<circle cx="113.5" cy="62.6" r="0.7" fill="#c2b442"/>
<circle cx="81.7" cy="78.0" r="0.7" fill="#b6a838"/>
<circle cx="87.1" cy="64.3" r="0.7" fill="#b6a838"/>
<circle cx="97.8" cy="53.3" r="0.7" fill="#c2b442"/>
<circle cx="86.3" cy="60.9" r="0.7" fill="#ccbf52"/>
<circle cx="76.6" cy="54.1" r="0.7" fill="#b6a838"/>
<circle cx="81.9" cy="73.0" r="0.7" fill="#b6a838"/>
<circle cx="84.9" cy="83.6" r="0.7" fill="#c2b442"/>
<circle cx="100.5" cy="64.3" r="0.7" fill="#ccbf52"/>
<circle cx="78.4" cy="86.4" r="0.7" fill="#ccbf52"/>
<circle cx="94.4" cy="57.3" r="0.7" fill="#b6a838"/>
<circle cx="92.5" cy="52.9" r="0.7" fill="#c2b442"/>
<circle cx="80.1" cy="65.8" r="0.7" fill="#b6a838"/>
<circle cx="95.8" cy="57.2" r="0.7" fill="#b6a838"/>
<circle cx="83.3" cy="62.4" r="0.7" fill="#c2b442"/>
<circle cx="99.7" cy="62.1" r="0.7" fill="#c2b442"/>
<circle cx="84.5" cy="80.0" r="0.7" fill="#c2b442"/>
<circle cx="102.7" cy="64.9" r="0.7" fill="#b6a838"/>
<circle cx="89.7" cy="50.4" r="0.7" fill="#b6a838"/>
<circle cx="87.1" cy="63.3" r="0.7" fill="#c2b442"/>
<circle cx="77.8" cy="87.8" r="0.7" fill="#ccbf52"/>
<circle cx="82.9" cy="75.8" r="0.7" fill="#ccbf52"/>
<circle cx="112.5" cy="59.6" r="0.7" fill="#ccbf52"/>
<circle cx="89.0" cy="78.1" r="0.7" fill="#b6a838"/>
<circle cx="104.7" cy="52.1" r="0.7" fill="#b6a838"/>
<circle cx="113.5" cy="62.5" r="0.7" fill="#c2b442"/>
<circle cx="76.5" cy="83.3" r="0.7" fill="#ccbf52"/>
<circle cx="108.7" cy="63.0" r="0.7" fill="#b6a838"/>
<circle cx="107.8" cy="58.4" r="0.7" fill="#ccbf52"/>
<circle cx="75.3" cy="84.6" r="0.7" fill="#c2b442"/>
<circle cx="105.5" cy="56.4" r="0.7" fill="#ccbf52"/>
<circle cx="76.7" cy="88.8" r="0.7" fill="#c2b442"/>
<circle cx="85.2" cy="75.2" r="0.7" fill="#c2b442"/>
<circle cx="113.7" cy="61.5" r="0.7" fill="#b6a838"/>
<circle cx="76.5" cy="56.3" r="0.7" fill="#c2b442"/>
<circle cx="86.2" cy="73.2" r="0.7" fill="#b6a838"/>
<circle cx="81.4" cy="72.9" r="0.7" fill="#c2b442"/>
<circle cx="100.3" cy="63.5" r="0.7" fill="#ccbf52"/>
<circle cx="90.6" cy="73.3" r="0.7" fill="#c2b442"/>
<circle cx="82.7" cy="68.9" r="0.7" fill="#b6a838"/>
<circle cx="94.6" cy="53.9" r="0.7" fill="#c2b442"/>
<circle cx="81.7" cy="78.4" r="0.7" fill="#ccbf52"/>
<circle cx="83.8" cy="54.8" r="0.7" fill="#ccbf52"/>
<circle cx="89.6" cy="50.0" r="0.7" fill="#ccbf52"/>
<circle cx="83.7" cy="83.1" r="0.7" fill="#ccbf52"/>
<circle cx="87.0" cy="56.3" r="0.7" fill="#c2b442"/>
<circle cx="95.5" cy="60.4" r="0.7" fill="#c2b442"/>
<circle cx="102.8" cy="56.7" r="0.7" fill="#c2b442"/>
<circle cx="102.4" cy="61.7" r="0.7" fill="#c2b442"/>
<circle cx="89.1" cy="71.0" r="0.7" fill="#b6a838"/>
<circle cx="107.2" cy="60.5" r="0.7" fill="#b6a838"/>
<circle cx="106.9" cy="56.6" r="0.7" fill="#ccbf52"/>
<circle cx="105.3" cy="57.4" r="0.7" fill="#ccbf52"/>
<circle cx="81.5" cy="85.1" r="0.7" fill="#ccbf52"/>
<circle cx="109.6" cy="64.1" r="0.7" fill="#b6a838"/>
<circle cx="104.3" cy="54.3" r="0.7" fill="#ccbf52"/>
<circle cx="101.5" cy="62.8" r="0.7" fill="#c2b442"/>
<circle cx="89.9" cy="80.6" r="0.7" fill="#c2b442"/>
<circle cx="81.1" cy="58.9" r="0.7" fill="#b6a838"/>
<circle cx="84.6" cy="51.1" r="0.7" fill="#b6a838"/>
<circle cx="94.5" cy="66.6" r="0.7" fill="#ccbf52"/>
<circle cx="86.4" cy="59.5" r="0.7" fill="#ccbf52"/>
<circle cx="110.2" cy="58.3" r="0.7" fill="#ccbf52"/>
<circle cx="83.3" cy="58.0" r="0.7" fill="#ccbf52"/>
<circle cx="88.7" cy="49.0" r="0.7" fill="#c2b442"/>
<circle cx="94.9" cy="58.8" r="0.7" fill="#ccbf52"/>
<circle cx="99.6" cy="59.6" r="0.7" fill="#c2b442"/>
<circle cx="86.9" cy="73.4" r="0.7" fill="#b6a838"/>
<circle cx="91.0" cy="77.4" r="0.7" fill="#b6a838"/>
<circle cx="84.0" cy="75.4" r="0.7" fill="#c2b442"/>
<circle cx="109.7" cy="64.4" r="0.7" fill="#b6a838"/>
<circle cx="78.8" cy="46.6" r="0.7" fill="#ccbf52"/>
<circle cx="90.3" cy="71.1" r="0.7" fill="#b6a838"/>
<circle cx="80.5" cy="68.2" r="0.7" fill="#c2b442"/>
<circle cx="86.5" cy="73.8" r="0.7" fill="#b6a838"/>
<circle cx="79.5" cy="87.9" r="0.7" fill="#b6a838"/>
<circle cx="81.2" cy="80.4" r="0.7" fill="#ccbf52"/>
<circle cx="79.5" cy="56.3" r="0.7" fill="#ccbf52"/>
<circle cx="102.6" cy="58.8" r="0.7" fill="#ccbf52"/>
<circle cx="84.8" cy="78.0" r="0.7" fill="#ccbf52"/>
<circle cx="103.9" cy="54.9" r="0.7" fill="#ccbf52"/>
<circle cx="79.3" cy="78.6" r="0.7" fill="#ccbf52"/>
<circle cx="100.8" cy="53.5" r="0.7" fill="#c2b442"/>
<circle cx="101.3" cy="53.6" r="0.7" fill="#b6a838"/>
<circle cx="82.9" cy="62.6" r="0.7" fill="#b6a838"/>
<circle cx="84.6" cy="56.6" r="0.7" fill="#b6a838"/>
<circle cx="87.7" cy="77.9" r="0.7" fill="#b6a838"/>
<circle cx="79.9" cy="75.0" r="0.7" fill="#c2b442"/>
<circle cx="81.2" cy="52.5" r="0.7" fill="#ccbf52"/>
<circle cx="81.3" cy="74.7" r="0.7" fill="#c2b442"/>
<circle cx="98.8" cy="62.5" r="0.7" fill="#ccbf52"/>
<circle cx="81.0" cy="56.7" r="0.7" fill="#c2b442"/>
<circle cx="85.0" cy="83.7" r="0.7" fill="#ccbf52"/>
<circle cx="106.4" cy="61.1" r="0.7" fill="#c2b442"/>
<circle cx="84.3" cy="57.6" r="0.7" fill="#ccbf52"/>
<circle cx="93.1" cy="51.8" r="0.7" fill="#b6a838"/>
<circle cx="87.4" cy="62.6" r="0.7" fill="#c2b442"/>
<circle cx="83.1" cy="80.2" r="0.7" fill="#c2b442"/>
<circle cx="91.8" cy="58.9" r="0.7" fill="#ccbf52"/>
<circle cx="87.9" cy="72.6" r="0.7" fill="#ccbf52"/>
<circle cx="110.2" cy="58.0" r="0.7" fill="#c2b442"/>
<circle cx="76.9" cy="84.7" r="0.7" fill="#c2b442"/>
<circle cx="90.9" cy="54.0" r="0.7" fill="#c2b442"/>
<circle cx="79.2" cy="50.9" r="0.7" fill="#b6a838"/>
<circle cx="110.4" cy="62.1" r="0.7" fill="#ccbf52"/>
<circle cx="96.7" cy="53.2" r="0.7" fill="#b6a838"/>
<circle cx="80.3" cy="56.2" r="0.7" fill="#c2b442"/>
<circle cx="76.8" cy="89.2" r="0.7" fill="#b6a838"/>
<circle cx="78.1" cy="47.9" r="0.7" fill="#c2b442"/>
<circle cx="97.9" cy="57.1" r="0.7" fill="#c2b442"/>
<circle cx="81.1" cy="62.7" r="0.7" fill="#ccbf52"/>
<circle cx="79.2" cy="47.7" r="0.7" fill="#ccbf52"/>
<circle cx="82.3" cy="48.1" r="0.7" fill="#c2b442"/>
<circle cx="82.4" cy="53.5" r="0.7" fill="#b6a838"/>
<circle cx="103.0" cy="51.5" r="0.7" fill="#ccbf52"/>
<circle cx="88.1" cy="48.4" r="0.7" fill="#b6a838"/>
<circle cx="83.9" cy="74.8" r="0.7" fill="#ccbf52"/>
<circle cx="90.9" cy="70.2" r="0.7" fill="#b6a838"/>
<circle cx="103.4" cy="54.9" r="0.7" fill="#c2b442"/>
<circle cx="96.3" cy="50.2" r="0.7" fill="#ccbf52"/>
<circle cx="104.8" cy="61.6" r="0.7" fill="#ccbf52"/>
<circle cx="86.4" cy="70.7" r="0.7" fill="#c2b442"/>
<circle cx="73.8" cy="86.7" r="0.7" fill="#ccbf52"/>
<circle cx="101.2" cy="66.1" r="0.7" fill="#ccbf52"/>
<circle cx="87.2" cy="65.7" r="0.7" fill="#b6a838"/>
<circle cx="92.9" cy="57.7" r="0.7" fill="#c2b442"/>
<circle cx="77.1" cy="54.9" r="0.7" fill="#c2b442"/>
<circle cx="81.6" cy="64.2" r="0.7" fill="#c2b442"/>
<circle cx="101.6" cy="58.5" r="0.7" fill="#b6a838"/>
<circle cx="102.8" cy="58.9" r="0.7" fill="#ccbf52"/>
<circle cx="99.4" cy="64.4" r="0.7" fill="#ccbf52"/>
<circle cx="86.1" cy="56.0" r="0.7" fill="#c2b442"/>
<circle cx="79.0" cy="47.1" r="0.7" fill="#ccbf52"/>
<circle cx="93.2" cy="69.9" r="0.7" fill="#ccbf52"/>
<circle cx="101.4" cy="62.6" r="0.7" fill="#c2b442"/>
<circle cx="100.8" cy="53.9" r="0.7" fill="#ccbf52"/>
<circle cx="77.5" cy="83.2" r="0.7" fill="#c2b442"/>
<circle cx="91.7" cy="51.4" r="0.7" fill="#b6a838"/>
<circle cx="88.6" cy="49.0" r="0.7" fill="#c2b442"/>
<circle cx="74.6" cy="88.1" r="0.7" fill="#ccbf52"/>
<circle cx="86.6" cy="76.6" r="0.7" fill="#ccbf52"/>
<circle cx="82.0" cy="86.1" r="0.7" fill="#c2b442"/>
<circle cx="73.4" cy="87.7" r="0.7" fill="#c2b442"/>
<circle cx="85.8" cy="75.3" r="0.7" fill="#b6a838"/>
<circle cx="80.0" cy="63.1" r="0.7" fill="#c2b442"/>
<circle cx="110.0" cy="61.5" r="0.7" fill="#ccbf52"/>
<circle cx="80.9" cy="61.1" r="0.7" fill="#b6a838"/>
<circle cx="109.3" cy="63.3" r="0.7" fill="#b6a838"/>
<circle cx="79.2" cy="78.4" r="0.7" fill="#b6a838"/>
<circle cx="81.3" cy="59.9" r="0.7" fill="#ccbf52"/>
<circle cx="98.4" cy="59.6" r="0.7" fill="#b6a838"/>
<circle cx="82.6" cy="86.4" r="0.7" fill="#c2b442"/>
<circle cx="87.0" cy="81.7" r="0.7" fill="#ccbf52"/>
<circle cx="81.7" cy="71.5" r="0.7" fill="#b6a838"/>
<circle cx="78.1" cy="87.1" r="0.7" fill="#ccbf52"/>
<circle cx="86.3" cy="50.7" r="0.7" fill="#b6a838"/>
<circle cx="77.1" cy="46.3" r="0.7" fill="#ccbf52"/>
<circle cx="89.3" cy="76.1" r="0.7" fill="#ccbf52"/>
<circle cx="90.6" cy="61.3" r="0.7" fill="#ccbf52"/>
<circle cx="79.8" cy="57.1" r="0.7" fill="#ccbf52"/>
<circle cx="81.7" cy="83.6" r="0.7" fill="#ccbf52"/>
<circle cx="98.1" cy="66.0" r="0.7" fill="#b6a838"/>
<circle cx="82.4" cy="77.3" r="0.7" fill="#b6a838"/>
<circle cx="99.2" cy="62.6" r="0.7" fill="#b6a838"/>
<circle cx="79.7" cy="54.8" r="0.7" fill="#c2b442"/>
<circle cx="81.8" cy="59.8" r="0.7" fill="#b6a838"/>
<circle cx="103.2" cy="64.5" r="0.7" fill="#ccbf52"/>
<circle cx="99.2" cy="61.0" r="0.7" fill="#c2b442"/>
<circle cx="101.4" cy="56.3" r="0.7" fill="#ccbf52"/>
<circle cx="90.8" cy="73.2" r="0.7" fill="#b6a838"/>
<circle cx="74.6" cy="85.6" r="0.7" fill="#ccbf52"/>
<circle cx="95.1" cy="67.5" r="0.7" fill="#b6a838"/>
<circle cx="76.8" cy="59.8" r="0.7" fill="#c2b442"/>
<circle cx="83.9" cy="68.1" r="0.7" fill="#c2b442"/>
<circle cx="83.4" cy="71.7" r="0.7" fill="#c2b442"/>
<circle cx="97.0" cy="56.1" r="0.7" fill="#ccbf52"/>
<circle cx="90.8" cy="51.2" r="0.7" fill="#ccbf52"/>
<circle cx="94.3" cy="64.4" r="0.7" fill="#c2b442"/>
<circle cx="87.7" cy="68.6" r="0.7" fill="#c2b442"/>
<circle cx="103.2" cy="53.5" r="0.7" fill="#ccbf52"/>
<circle cx="82.1" cy="77.2" r="0.7" fill="#b6a838"/>
<circle cx="78.8" cy="55.5" r="0.7" fill="#c2b442"/>
<circle cx="77.8" cy="57.0" r="0.7" fill="#ccbf52"/>
<circle cx="86.4" cy="78.2" r="0.7" fill="#c2b442"/>
<circle cx="88.9" cy="81.0" r="0.7" fill="#ccbf52"/>
<circle cx="84.7" cy="50.3" r="0.7" fill="#b6a838"/>
<circle cx="90.5" cy="54.3" r="0.7" fill="#b6a838"/>
<circle cx="84.3" cy="66.1" r="0.7" fill="#b6a838"/>
<circle cx="80.9" cy="66.0" r="0.7" fill="#c2b442"/>
<circle cx="91.6" cy="77.7" r="0.7" fill="#ccbf52"/>
<circle cx="113.0" cy="62.8" r="0.7" fill="#b6a838"/>
<circle cx="92.2" cy="56.1" r="0.7" fill="#ccbf52"/>
<circle cx="87.2" cy="49.8" r="0.7" fill="#b6a838"/>
<circle cx="81.0" cy="65.2" r="0.7" fill="#c2b442"/>
<circle cx="103.0" cy="62.5" r="0.7" fill="#ccbf52"/>
<circle cx="85.4" cy="66.5" r="0.7" fill="#c2b442"/>
<circle cx="103.2" cy="64.6" r="0.7" fill="#b6a838"/>
<circle cx="101.7" cy="60.6" r="0.7" fill="#b6a838"/>
<circle cx="87.7" cy="54.8" r="0.7" fill="#ccbf52"/>
<circle cx="80.5" cy="65.9" r="0.7" fill="#ccbf52"/>
<circle cx="99.5" cy="57.8" r="0.7" fill="#ccbf52"/>
<circle cx="74.4" cy="87.9" r="0.7" fill="#ccbf52"/>
<circle cx="112.1" cy="59.4" r="0.7" fill="#c2b442"/>
<circle cx="108.5" cy="63.6" r="0.7" fill="#c2b442"/>
<circle cx="101.7" cy="63.0" r="0.7" fill="#c2b442"/>
<circle cx="98.5" cy="62.1" r="0.7" fill="#c2b442"/>
<circle cx="84.5" cy="62.7" r="0.7" fill="#c2b442"/>
<circle cx="84.2" cy="51.6" r="0.7" fill="#b6a838"/>
<circle cx="90.8" cy="78.6" r="0.7" fill="#ccbf52"/>
<circle cx="100.5" cy="58.8" r="0.7" fill="#ccbf52"/>
<circle cx="84.2" cy="73.5" r="0.7" fill="#ccbf52"/>
<circle cx="86.6" cy="82.1" r="0.7" fill="#b6a838"/>
<circle cx="88.7" cy="60.3" r="0.7" fill="#ccbf52"/>
<circle cx="88.9" cy="50.5" r="0.7" fill="#b6a838"/>
<circle cx="75.4" cy="84.4" r="0.7" fill="#ccbf52"/>
<circle cx="92.6" cy="69.6" r="0.7" fill="#c2b442"/>
<circle cx="92.6" cy="64.6" r="0.7" fill="#b6a838"/>
<circle cx="78.3" cy="86.8" r="0.55" fill="#ffffff"/>
<circle cx="98.1" cy="59.9" r="0.55" fill="#ffffff"/>
<circle cx="85.7" cy="84.6" r="0.55" fill="#f7f3da"/>
<circle cx="106.1" cy="54.3" r="0.55" fill="#f7f3da"/>
<circle cx="93.5" cy="65.9" r="0.55" fill="#f7f3da"/>
<circle cx="88.8" cy="68.7" r="0.55" fill="#f7f3da"/>
<circle cx="79.3" cy="52.9" r="0.55" fill="#ffffff"/>
<circle cx="80.7" cy="80.2" r="0.55" fill="#ffffff"/>
<circle cx="96.1" cy="62.8" r="0.55" fill="#f7f3da"/>
<circle cx="102.1" cy="64.7" r="0.55" fill="#f7f3da"/>
<circle cx="77.7" cy="54.7" r="0.55" fill="#f7f3da"/>
<circle cx="101.4" cy="57.9" r="0.55" fill="#f7f3da"/>
<circle cx="77.3" cy="56.3" r="0.55" fill="#ffffff"/>
<circle cx="87.4" cy="82.5" r="0.55" fill="#ffffff"/>
<circle cx="89.8" cy="61.0" r="0.55" fill="#f7f3da"/>
<circle cx="91.7" cy="60.0" r="0.55" fill="#ffffff"/>
<circle cx="80.5" cy="84.4" r="0.55" fill="#ffffff"/>
<circle cx="85.4" cy="51.8" r="0.55" fill="#ffffff"/>
<circle cx="76.2" cy="56.5" r="0.55" fill="#f7f3da"/>
<circle cx="77.3" cy="85.9" r="0.55" fill="#ffffff"/>
<circle cx="82.4" cy="73.0" r="0.55" fill="#ffffff"/>
<circle cx="79.1" cy="82.1" r="0.55" fill="#ffffff"/>
<circle cx="84.9" cy="62.0" r="0.55" fill="#f7f3da"/>
<circle cx="77.7" cy="82.6" r="0.55" fill="#ffffff"/>
<circle cx="84.9" cy="49.4" r="0.55" fill="#ffffff"/>
<circle cx="91.2" cy="74.0" r="0.55" fill="#ffffff"/>
<circle cx="92.5" cy="53.0" r="0.55" fill="#f7f3da"/>
<circle cx="90.8" cy="78.5" r="0.55" fill="#f7f3da"/>
<circle cx="91.3" cy="65.8" r="0.55" fill="#f7f3da"/>
<circle cx="88.1" cy="54.1" r="0.55" fill="#f7f3da"/>
<circle cx="77.3" cy="87.3" r="0.55" fill="#ffffff"/>
<circle cx="109.1" cy="59.8" r="0.55" fill="#ffffff"/>
<circle cx="107.4" cy="62.4" r="0.55" fill="#f7f3da"/>
<circle cx="83.9" cy="53.1" r="0.55" fill="#ffffff"/>
<circle cx="111.0" cy="60.7" r="0.55" fill="#ffffff"/>
<circle cx="80.3" cy="51.2" r="0.55" fill="#f7f3da"/>
<circle cx="89.4" cy="60.9" r="0.55" fill="#ffffff"/>
<circle cx="97.2" cy="58.0" r="0.55" fill="#f7f3da"/>
<circle cx="104.9" cy="59.8" r="0.55" fill="#f7f3da"/>
<circle cx="109.9" cy="62.5" r="0.55" fill="#f7f3da"/>
<circle cx="94.4" cy="57.4" r="0.55" fill="#f7f3da"/>
<circle cx="85.7" cy="77.0" r="0.55" fill="#f7f3da"/>
<circle cx="94.5" cy="52.6" r="0.55" fill="#ffffff"/>
<circle cx="89.4" cy="53.6" r="0.55" fill="#ffffff"/>
<circle cx="90.3" cy="70.7" r="0.55" fill="#ffffff"/>
<circle cx="79.7" cy="82.3" r="0.55" fill="#ffffff"/>
<circle cx="77.8" cy="46.5" r="0.55" fill="#f7f3da"/>
<circle cx="104.1" cy="62.5" r="0.55" fill="#f7f3da"/>
<circle cx="90.0" cy="49.7" r="0.55" fill="#f7f3da"/>
<circle cx="108.0" cy="63.6" r="0.55" fill="#f7f3da"/>
<circle cx="98.4" cy="58.1" r="0.55" fill="#f7f3da"/>
<circle cx="95.9" cy="54.8" r="0.55" fill="#ffffff"/>
<circle cx="89.7" cy="59.8" r="0.55" fill="#f7f3da"/>
<circle cx="93.8" cy="70.2" r="0.55" fill="#ffffff"/>
<circle cx="93.0" cy="51.6" r="0.55" fill="#ffffff"/>
<circle cx="85.4" cy="56.3" r="0.55" fill="#f7f3da"/>
<circle cx="88.1" cy="59.0" r="0.55" fill="#f7f3da"/>
<circle cx="92.8" cy="61.6" r="0.55" fill="#f7f3da"/>
<circle cx="78.2" cy="50.9" r="0.55" fill="#f7f3da"/>
<circle cx="82.7" cy="85.9" r="0.55" fill="#f7f3da"/>
<circle cx="90.6" cy="71.2" r="0.55" fill="#ffffff"/>
<circle cx="84.6" cy="81.6" r="0.55" fill="#f7f3da"/>
<circle cx="93.7" cy="65.2" r="0.55" fill="#f7f3da"/>
<circle cx="97.9" cy="61.5" r="0.55" fill="#f7f3da"/>
<circle cx="99.6" cy="58.7" r="0.55" fill="#ffffff"/>
<circle cx="83.2" cy="77.7" r="0.55" fill="#f7f3da"/>
<circle cx="108.2" cy="64.3" r="0.55" fill="#f7f3da"/>
<circle cx="95.3" cy="59.5" r="0.55" fill="#ffffff"/>
<circle cx="79.9" cy="63.0" r="0.55" fill="#f7f3da"/>
<circle cx="97.3" cy="63.3" r="0.55" fill="#f7f3da"/>
<circle cx="82.5" cy="82.6" r="0.55" fill="#f7f3da"/>
<circle cx="76.8" cy="61.8" r="0.55" fill="#f7f3da"/>
<circle cx="80.5" cy="77.9" r="0.55" fill="#ffffff"/>
<circle cx="86.4" cy="63.0" r="0.55" fill="#f7f3da"/>
<circle cx="84.7" cy="57.6" r="0.55" fill="#ffffff"/>
<circle cx="93.5" cy="49.6" r="0.55" fill="#f7f3da"/>
<circle cx="92.4" cy="55.5" r="0.55" fill="#f7f3da"/>
<circle cx="78.1" cy="67.0" r="0.55" fill="#ffffff"/>
<circle cx="112.1" cy="60.5" r="0.55" fill="#ffffff"/>
<circle cx="91.9" cy="57.4" r="0.55" fill="#f7f3da"/>
<circle cx="92.1" cy="61.5" r="0.55" fill="#f7f3da"/>
<circle cx="74.5" cy="87.9" r="0.55" fill="#f7f3da"/>
<circle cx="113.7" cy="59.7" r="0.55" fill="#f7f3da"/>
<circle cx="80.5" cy="81.3" r="0.55" fill="#f7f3da"/>
<circle cx="77.9" cy="86.2" r="0.55" fill="#f7f3da"/>
<circle cx="75.7" cy="86.8" r="0.55" fill="#ffffff"/>
<circle cx="86.3" cy="75.7" r="0.55" fill="#f7f3da"/>
<circle cx="90.2" cy="62.8" r="0.55" fill="#f7f3da"/>
<circle cx="100.5" cy="58.5" r="0.55" fill="#f7f3da"/>
<circle cx="113.4" cy="63.0" r="0.55" fill="#ffffff"/>
<circle cx="92.0" cy="66.6" r="0.55" fill="#ffffff"/>
<circle cx="86.3" cy="73.5" r="0.55" fill="#ffffff"/>
<circle cx="83.3" cy="74.9" r="0.55" fill="#ffffff"/>
<circle cx="90.4" cy="73.1" r="0.55" fill="#ffffff"/>
<circle cx="90.8" cy="70.7" r="0.55" fill="#ffffff"/>
<circle cx="110.7" cy="62.9" r="0.55" fill="#ffffff"/>
<circle cx="77.5" cy="89.0" r="0.55" fill="#f7f3da"/>
<circle cx="96.6" cy="65.7" r="0.55" fill="#f7f3da"/>
<circle cx="92.5" cy="64.4" r="0.55" fill="#ffffff"/>
<circle cx="86.0" cy="81.7" r="0.55" fill="#ffffff"/>
<circle cx="90.7" cy="50.7" r="0.55" fill="#f7f3da"/>
<circle cx="91.3" cy="64.1" r="0.55" fill="#f7f3da"/>
<circle cx="93.9" cy="69.3" r="0.55" fill="#ffffff"/>
<circle cx="87.1" cy="77.5" r="0.55" fill="#f7f3da"/>
<circle cx="76.9" cy="51.4" r="0.55" fill="#ffffff"/>
<circle cx="78.9" cy="57.6" r="0.55" fill="#f7f3da"/>
<circle cx="79.8" cy="46.8" r="0.55" fill="#f7f3da"/>
<circle cx="80.3" cy="53.1" r="0.55" fill="#ffffff"/>
<circle cx="83.0" cy="52.5" r="0.55" fill="#f7f3da"/>
<circle cx="104.9" cy="53.1" r="0.55" fill="#f7f3da"/>
<circle cx="114.3" cy="61.1" r="0.55" fill="#f7f3da"/>
<circle cx="81.8" cy="80.9" r="0.55" fill="#ffffff"/>
<circle cx="91.9" cy="50.5" r="0.55" fill="#f7f3da"/>
<circle cx="86.6" cy="56.3" r="0.55" fill="#ffffff"/>
<circle cx="81.4" cy="79.2" r="0.55" fill="#ffffff"/>
<circle cx="79.1" cy="88.3" r="0.55" fill="#ffffff"/>
<circle cx="91.5" cy="67.7" r="0.55" fill="#f7f3da"/>
<circle cx="94.9" cy="55.9" r="0.55" fill="#f7f3da"/>
<circle cx="85.6" cy="49.9" r="0.55" fill="#f7f3da"/>
<circle cx="100.2" cy="56.9" r="0.55" fill="#ffffff"/>
<circle cx="78.6" cy="46.4" r="0.55" fill="#f7f3da"/>
<circle cx="82.5" cy="77.9" r="0.55" fill="#f7f3da"/>
<circle cx="100.4" cy="60.2" r="0.55" fill="#ffffff"/>
<circle cx="80.4" cy="60.9" r="0.55" fill="#ffffff"/>
<circle cx="80.1" cy="65.9" r="0.55" fill="#f7f3da"/>
<circle cx="87.0" cy="71.6" r="0.55" fill="#ffffff"/>
<circle cx="82.5" cy="49.1" r="0.55" fill="#ffffff"/>
<circle cx="112.5" cy="59.0" r="0.55" fill="#ffffff"/>
<circle cx="80.9" cy="88.0" r="0.55" fill="#ffffff"/>
<circle cx="109.0" cy="64.6" r="0.55" fill="#f7f3da"/>
<circle cx="78.3" cy="55.9" r="0.55" fill="#f7f3da"/>
<circle cx="82.9" cy="68.2" r="0.55" fill="#f7f3da"/>
<circle cx="111.5" cy="61.2" r="0.55" fill="#f7f3da"/>
<circle cx="101.1" cy="62.8" r="0.55" fill="#ffffff"/>
<circle cx="99.6" cy="59.7" r="0.55" fill="#ffffff"/>
<circle cx="101.1" cy="56.9" r="0.55" fill="#ffffff"/>
<circle cx="99.8" cy="54.1" r="0.55" fill="#f7f3da"/>
<circle cx="92.6" cy="59.6" r="0.55" fill="#ffffff"/>
<circle cx="91.8" cy="68.1" r="0.55" fill="#ffffff"/>
<circle cx="83.0" cy="51.9" r="0.55" fill="#ffffff"/>
<circle cx="85.5" cy="79.5" r="0.55" fill="#f7f3da"/>
<circle cx="80.9" cy="80.4" r="0.55" fill="#ffffff"/>
<circle cx="77.7" cy="60.6" r="0.55" fill="#f7f3da"/>
<circle cx="75.6" cy="88.9" r="0.55" fill="#ffffff"/>
<circle cx="105.3" cy="53.9" r="0.55" fill="#f7f3da"/>
<circle cx="88.4" cy="77.5" r="0.55" fill="#f7f3da"/>
<circle cx="95.2" cy="68.7" r="0.55" fill="#f7f3da"/>
<circle cx="94.9" cy="51.4" r="0.55" fill="#f7f3da"/>
<circle cx="96.8" cy="55.0" r="0.55" fill="#f7f3da"/>
<circle cx="82.3" cy="63.5" r="0.55" fill="#ffffff"/>
<circle cx="102.2" cy="63.1" r="0.55" fill="#ffffff"/>
<circle cx="82.5" cy="70.8" r="0.55" fill="#f7f3da"/>
<circle cx="79.8" cy="49.8" r="0.55" fill="#ffffff"/>
<circle cx="86.4" cy="69.3" r="0.55" fill="#f7f3da"/>
<circle cx="87.1" cy="77.1" r="0.55" fill="#ffffff"/>
<circle cx="87.2" cy="80.2" r="0.55" fill="#ffffff"/>
<circle cx="81.5" cy="83.5" r="0.55" fill="#ffffff"/>
<circle cx="114.4" cy="62.0" r="0.55" fill="#f7f3da"/>
<circle cx="113.7" cy="61.4" r="0.55" fill="#ffffff"/>
<circle cx="107.6" cy="64.9" r="0.55" fill="#ffffff"/>
<circle cx="82.2" cy="76.4" r="0.55" fill="#ffffff"/>
<circle cx="83.7" cy="55.0" r="0.55" fill="#ffffff"/>
<circle cx="114.7" cy="61.2" r="0.55" fill="#ffffff"/>
<circle cx="103.0" cy="53.1" r="0.55" fill="#f7f3da"/>
<circle cx="87.0" cy="82.0" r="0.55" fill="#f7f3da"/>
<circle cx="85.0" cy="56.7" r="0.55" fill="#ffffff"/>
<circle cx="81.0" cy="70.3" r="0.55" fill="#ffffff"/>
<circle cx="82.5" cy="49.0" r="0.55" fill="#f7f3da"/>
<circle cx="84.6" cy="72.4" r="0.55" fill="#ffffff"/>
<circle cx="90.0" cy="76.8" r="0.55" fill="#f7f3da"/>
<polygon points="72.4,87.2 76.1,89.2 79.3,89.8 76.4,91.2 74.0,93.3 72.3,97.3 72.3,103.1 70.6,107.1 67.7,111.7 65.4,112.9 60.8,108.9 62.5,104.2 65.4,99.0 68.3,93.8 70.1,90.2" fill="#46a850"/>
<circle cx="73.9" cy="88.0" r="0.7" fill="#2b9a38"/>
<circle cx="69.9" cy="99.5" r="0.7" fill="#2b9a38"/>
<circle cx="72.2" cy="101.3" r="0.7" fill="#2b9a38"/>
<circle cx="72.0" cy="88.7" r="0.7" fill="#3aa846"/>
<circle cx="62.5" cy="104.8" r="0.7" fill="#3aa846"/>
<circle cx="69.7" cy="96.7" r="0.7" fill="#1f8a2c"/>
<circle cx="62.0" cy="106.4" r="0.7" fill="#2b9a38"/>
<circle cx="71.4" cy="96.7" r="0.7" fill="#1f8a2c"/>
<circle cx="71.1" cy="94.8" r="0.7" fill="#2b9a38"/>
<circle cx="67.3" cy="101.4" r="0.7" fill="#2b9a38"/>
<circle cx="65.3" cy="107.9" r="0.7" fill="#1f8a2c"/>
<circle cx="68.9" cy="109.3" r="0.7" fill="#1f8a2c"/>
<circle cx="67.4" cy="111.2" r="0.7" fill="#3aa846"/>
<circle cx="72.5" cy="88.5" r="0.7" fill="#2b9a38"/>
<circle cx="71.1" cy="93.0" r="0.7" fill="#3aa846"/>
<circle cx="66.9" cy="98.2" r="0.7" fill="#2b9a38"/>
<circle cx="61.5" cy="107.7" r="0.7" fill="#3aa846"/>
<circle cx="66.6" cy="106.3" r="0.7" fill="#2b9a38"/>
<circle cx="70.6" cy="101.4" r="0.7" fill="#3aa846"/>
<circle cx="64.9" cy="110.8" r="0.7" fill="#3aa846"/>
<circle cx="66.6" cy="110.8" r="0.7" fill="#1f8a2c"/>
<circle cx="73.4" cy="91.8" r="0.7" fill="#3aa846"/>
<circle cx="75.5" cy="90.9" r="0.7" fill="#3aa846"/>
<circle cx="70.0" cy="104.1" r="0.7" fill="#1f8a2c"/>
<circle cx="64.8" cy="105.7" r="0.7" fill="#3aa846"/>
<circle cx="64.6" cy="109.5" r="0.7" fill="#1f8a2c"/>
<circle cx="69.2" cy="104.9" r="0.7" fill="#1f8a2c"/>
<circle cx="68.5" cy="96.8" r="0.7" fill="#1f8a2c"/>
<circle cx="67.8" cy="101.3" r="0.7" fill="#2b9a38"/>
<circle cx="68.7" cy="109.4" r="0.7" fill="#3aa846"/>
<circle cx="72.9" cy="89.1" r="0.7" fill="#3aa846"/>
<circle cx="64.4" cy="104.0" r="0.7" fill="#2b9a38"/>
<circle cx="66.0" cy="106.6" r="0.7" fill="#1f8a2c"/>
<circle cx="69.0" cy="97.3" r="0.7" fill="#2b9a38"/>
<circle cx="68.3" cy="110.2" r="0.7" fill="#1f8a2c"/>
<circle cx="64.1" cy="103.2" r="0.7" fill="#3aa846"/>
<circle cx="62.1" cy="107.6" r="0.7" fill="#3aa846"/>
<circle cx="69.4" cy="99.6" r="0.7" fill="#2b9a38"/>
<circle cx="71.4" cy="90.0" r="0.7" fill="#1f8a2c"/>
<circle cx="67.7" cy="109.7" r="0.7" fill="#2b9a38"/>
<circle cx="72.2" cy="95.6" r="0.7" fill="#1f8a2c"/>
<circle cx="70.0" cy="106.8" r="0.7" fill="#3aa846"/>
<circle cx="63.7" cy="109.4" r="0.7" fill="#1f8a2c"/>
<circle cx="74.0" cy="91.3" r="0.7" fill="#2b9a38"/>
<circle cx="67.5" cy="100.3" r="0.7" fill="#2b9a38"/>
<circle cx="65.9" cy="100.3" r="0.7" fill="#3aa846"/>
<circle cx="66.1" cy="108.6" r="0.7" fill="#3aa846"/>
<circle cx="63.5" cy="105.4" r="0.7" fill="#1f8a2c"/>
<circle cx="73.9" cy="91.5" r="0.7" fill="#3aa846"/>
<circle cx="74.1" cy="92.9" r="0.7" fill="#1f8a2c"/>
<circle cx="65.7" cy="99.9" r="0.7" fill="#1f8a2c"/>
<circle cx="72.7" cy="90.0" r="0.7" fill="#1f8a2c"/>
<circle cx="70.9" cy="95.6" r="0.7" fill="#1f8a2c"/>
<circle cx="62.7" cy="105.6" r="0.7" fill="#3aa846"/>
<circle cx="66.1" cy="107.8" r="0.7" fill="#1f8a2c"/>
<circle cx="69.6" cy="103.4" r="0.7" fill="#3aa846"/>
<circle cx="68.0" cy="94.9" r="0.7" fill="#2b9a38"/>
<circle cx="68.7" cy="103.9" r="0.7" fill="#3aa846"/>
<circle cx="70.7" cy="102.0" r="0.7" fill="#3aa846"/>
<circle cx="70.8" cy="94.6" r="0.7" fill="#3aa846"/>
<circle cx="68.6" cy="100.0" r="0.7" fill="#3aa846"/>
<circle cx="65.8" cy="107.6" r="0.7" fill="#1f8a2c"/>
<circle cx="69.6" cy="99.5" r="0.7" fill="#2b9a38"/>
<circle cx="63.9" cy="102.0" r="0.7" fill="#3aa846"/>
<circle cx="72.2" cy="102.6" r="0.7" fill="#2b9a38"/>
<circle cx="62.8" cy="106.1" r="0.7" fill="#3aa846"/>
<circle cx="72.4" cy="94.9" r="0.7" fill="#3aa846"/>
<circle cx="67.7" cy="96.2" r="0.7" fill="#1f8a2c"/>
<circle cx="63.6" cy="109.4" r="0.7" fill="#2b9a38"/>
<circle cx="67.4" cy="101.5" r="0.7" fill="#3aa846"/>
<circle cx="70.4" cy="92.6" r="0.7" fill="#1f8a2c"/>
<circle cx="66.2" cy="107.6" r="0.7" fill="#1f8a2c"/>
<circle cx="67.4" cy="96.2" r="0.7" fill="#2b9a38"/>
<circle cx="75.9" cy="91.3" r="0.7" fill="#2b9a38"/>
<circle cx="62.7" cy="104.5" r="0.7" fill="#3aa846"/>
<circle cx="65.3" cy="99.2" r="0.7" fill="#1f8a2c"/>
<circle cx="69.3" cy="102.3" r="0.7" fill="#2b9a38"/>
<circle cx="71.4" cy="89.1" r="0.7" fill="#1f8a2c"/>
<circle cx="71.3" cy="91.9" r="0.7" fill="#3aa846"/>
<circle cx="71.8" cy="104.0" r="0.7" fill="#3aa846"/>
<circle cx="72.3" cy="88.1" r="0.7" fill="#1f8a2c"/>
<circle cx="61.6" cy="109.2" r="0.7" fill="#3aa846"/>
<circle cx="77.2" cy="89.8" r="0.7" fill="#3aa846"/>
<circle cx="62.5" cy="104.6" r="0.7" fill="#2b9a38"/>
<circle cx="70.7" cy="98.9" r="0.7" fill="#3aa846"/>
<circle cx="67.9" cy="102.0" r="0.7" fill="#2b9a38"/>
<circle cx="66.9" cy="110.0" r="0.7" fill="#1f8a2c"/>
<circle cx="70.1" cy="94.8" r="0.7" fill="#1f8a2c"/>
<circle cx="68.8" cy="106.7" r="0.7" fill="#1f8a2c"/>
<circle cx="68.8" cy="107.2" r="0.7" fill="#1f8a2c"/>
<circle cx="65.7" cy="101.9" r="0.7" fill="#1f8a2c"/>
<circle cx="71.6" cy="98.3" r="0.7" fill="#2b9a38"/>
<circle cx="67.8" cy="102.4" r="0.7" fill="#1f8a2c"/>
<circle cx="73.6" cy="93.2" r="0.7" fill="#3aa846"/>
<circle cx="69.8" cy="99.0" r="0.7" fill="#2b9a38"/>
<circle cx="70.3" cy="99.2" r="0.7" fill="#2b9a38"/>
<circle cx="68.7" cy="97.1" r="0.7" fill="#3aa846"/>
<circle cx="73.7" cy="93.4" r="0.7" fill="#3aa846"/>
<circle cx="75.3" cy="89.9" r="0.7" fill="#1f8a2c"/>
<circle cx="73.0" cy="87.7" r="0.7" fill="#1f8a2c"/>
<circle cx="63.6" cy="104.6" r="0.7" fill="#2b9a38"/>
<circle cx="67.8" cy="107.6" r="0.7" fill="#3aa846"/>
<circle cx="68.9" cy="93.8" r="0.7" fill="#1f8a2c"/>
<circle cx="72.3" cy="88.1" r="0.7" fill="#3aa846"/>
<circle cx="69.6" cy="102.6" r="0.7" fill="#2b9a38"/>
<circle cx="70.2" cy="90.8" r="0.7" fill="#3aa846"/>
<circle cx="65.0" cy="100.4" r="0.7" fill="#1f8a2c"/>
<circle cx="69.4" cy="99.5" r="0.7" fill="#3aa846"/>
<circle cx="68.1" cy="97.5" r="0.7" fill="#2b9a38"/>
<circle cx="65.8" cy="103.2" r="0.7" fill="#1f8a2c"/>
<circle cx="65.8" cy="99.7" r="0.55" fill="#d6eed8"/>
<circle cx="68.4" cy="94.4" r="0.55" fill="#d6eed8"/>
<circle cx="64.8" cy="112.3" r="0.55" fill="#d6eed8"/>
<circle cx="66.3" cy="102.6" r="0.55" fill="#ffffff"/>
<circle cx="67.6" cy="106.6" r="0.55" fill="#d6eed8"/>
<circle cx="68.4" cy="96.9" r="0.55" fill="#d6eed8"/>
<circle cx="68.2" cy="97.0" r="0.55" fill="#d6eed8"/>
<circle cx="62.5" cy="108.9" r="0.55" fill="#d6eed8"/>
<circle cx="65.9" cy="111.0" r="0.55" fill="#ffffff"/>
<circle cx="65.3" cy="105.6" r="0.55" fill="#ffffff"/>
<circle cx="66.5" cy="104.4" r="0.55" fill="#d6eed8"/>
<circle cx="65.2" cy="111.4" r="0.55" fill="#d6eed8"/>
<circle cx="75.1" cy="91.0" r="0.55" fill="#ffffff"/>
<circle cx="70.0" cy="106.2" r="0.55" fill="#ffffff"/>
<circle cx="73.3" cy="94.8" r="0.55" fill="#ffffff"/>
<circle cx="67.4" cy="100.4" r="0.55" fill="#ffffff"/>
<circle cx="63.6" cy="109.7" r="0.55" fill="#d6eed8"/>
<circle cx="70.4" cy="93.7" r="0.55" fill="#ffffff"/>
<circle cx="72.0" cy="92.2" r="0.55" fill="#ffffff"/>
<circle cx="65.9" cy="109.7" r="0.55" fill="#ffffff"/>
<circle cx="72.5" cy="89.2" r="0.55" fill="#d6eed8"/>
<circle cx="66.8" cy="97.9" r="0.55" fill="#d6eed8"/>
<circle cx="72.1" cy="90.1" r="0.55" fill="#d6eed8"/>
<circle cx="71.0" cy="100.6" r="0.55" fill="#d6eed8"/>
<circle cx="71.5" cy="91.7" r="0.55" fill="#d6eed8"/>
<circle cx="62.4" cy="104.8" r="0.55" fill="#ffffff"/>
<circle cx="70.2" cy="92.6" r="0.55" fill="#d6eed8"/>
<circle cx="67.4" cy="110.1" r="0.55" fill="#d6eed8"/>
<circle cx="68.6" cy="101.1" r="0.55" fill="#ffffff"/>
<circle cx="66.9" cy="107.4" r="0.55" fill="#d6eed8"/>
<polygon points="91.1,51.0 94.6,51.7 94.1,55.2 91.6,55.2" fill="#fbfbf2"/>
<polygon points="95.8,54.7 99.1,54.2 99.2,57.6 96.6,58.0" fill="#fbfbf2"/>
<polygon points="85.1,59.2 87.6,58.7 88.1,62.2 85.6,62.7" fill="#fbfbf2"/>
<rect x="124.50" y="37.50" width="90" height="80" fill="#fff" stroke="#2a2a2a" stroke-width="1.05"/>
<polygon points="128.8,60.4 134.4,52.6 143.0,46.6 151.7,43.1 162.1,41.4 172.5,44.9 173.3,46.6 173.0,69.1 165.5,70.8 158.6,67.4 153.5,61.7 150.0,60.7 145.5,64.2 141.3,65.6 134.4,67.4 130.1,65.6" fill="#d9e9b2"/>
<circle cx="166.7" cy="63.5" r="0.7" fill="#b7d07a"/>
<circle cx="167.5" cy="48.3" r="0.7" fill="#c0d783"/>
<circle cx="156.0" cy="58.6" r="0.7" fill="#c0d783"/>
<circle cx="165.2" cy="67.4" r="0.7" fill="#b7d07a"/>
<circle cx="171.9" cy="57.5" r="0.7" fill="#c9dd94"/>
<circle cx="168.3" cy="51.8" r="0.7" fill="#c9dd94"/>
<circle cx="170.0" cy="53.7" r="0.7" fill="#b7d07a"/>
<circle cx="135.9" cy="56.4" r="0.7" fill="#c9dd94"/>
<circle cx="164.8" cy="63.5" r="0.7" fill="#c9dd94"/>
<circle cx="164.5" cy="51.5" r="0.7" fill="#c9dd94"/>
<circle cx="135.3" cy="64.1" r="0.7" fill="#b7d07a"/>
<circle cx="162.1" cy="61.0" r="0.7" fill="#c0d783"/>
<circle cx="169.6" cy="54.9" r="0.7" fill="#b7d07a"/>
<circle cx="161.6" cy="57.9" r="0.7" fill="#c9dd94"/>
<circle cx="150.4" cy="47.4" r="0.7" fill="#c9dd94"/>
<circle cx="165.7" cy="66.6" r="0.7" fill="#b7d07a"/>
<circle cx="160.6" cy="56.2" r="0.7" fill="#b7d07a"/>
<circle cx="151.4" cy="59.7" r="0.7" fill="#c9dd94"/>
<circle cx="156.8" cy="42.8" r="0.7" fill="#c9dd94"/>
<circle cx="136.7" cy="63.8" r="0.7" fill="#c0d783"/>
<circle cx="155.3" cy="61.8" r="0.7" fill="#c0d783"/>
<circle cx="162.9" cy="44.7" r="0.7" fill="#c9dd94"/>
<circle cx="168.7" cy="53.7" r="0.7" fill="#b7d07a"/>
<circle cx="163.1" cy="42.2" r="0.7" fill="#c9dd94"/>
<circle cx="135.8" cy="61.5" r="0.7" fill="#c0d783"/>
<circle cx="171.3" cy="63.5" r="0.7" fill="#b7d07a"/>
<circle cx="160.0" cy="52.5" r="0.7" fill="#c0d783"/>
<circle cx="164.7" cy="48.2" r="0.7" fill="#c0d783"/>
<circle cx="157.0" cy="63.9" r="0.7" fill="#c9dd94"/>
<circle cx="162.2" cy="68.7" r="0.7" fill="#c9dd94"/>
<circle cx="167.9" cy="62.5" r="0.7" fill="#c9dd94"/>
<circle cx="159.8" cy="66.7" r="0.7" fill="#c0d783"/>
<circle cx="133.7" cy="58.8" r="0.7" fill="#c9dd94"/>
<circle cx="150.4" cy="50.7" r="0.7" fill="#c9dd94"/>
<circle cx="139.8" cy="59.4" r="0.7" fill="#c9dd94"/>
<circle cx="158.2" cy="62.4" r="0.7" fill="#c0d783"/>
<circle cx="159.0" cy="48.3" r="0.7" fill="#c0d783"/>
<circle cx="157.3" cy="56.4" r="0.7" fill="#b7d07a"/>
<circle cx="138.6" cy="54.4" r="0.7" fill="#c9dd94"/>
<circle cx="164.6" cy="60.0" r="0.7" fill="#c9dd94"/>
<circle cx="139.7" cy="53.7" r="0.7" fill="#b7d07a"/>
<circle cx="162.7" cy="45.1" r="0.7" fill="#c9dd94"/>
<circle cx="161.5" cy="48.0" r="0.7" fill="#c0d783"/>
<circle cx="158.9" cy="54.7" r="0.7" fill="#b7d07a"/>
<circle cx="157.6" cy="47.1" r="0.7" fill="#c0d783"/>
<circle cx="161.7" cy="54.0" r="0.7" fill="#b7d07a"/>
<circle cx="168.8" cy="69.6" r="0.7" fill="#b7d07a"/>
<circle cx="165.1" cy="51.9" r="0.7" fill="#b7d07a"/>
<circle cx="144.8" cy="62.1" r="0.7" fill="#c9dd94"/>
<circle cx="137.0" cy="64.7" r="0.7" fill="#c0d783"/>
<circle cx="157.4" cy="54.9" r="0.7" fill="#b7d07a"/>
<circle cx="161.4" cy="47.3" r="0.7" fill="#c9dd94"/>
<circle cx="136.7" cy="58.3" r="0.7" fill="#c9dd94"/>
<circle cx="161.1" cy="44.8" r="0.7" fill="#c9dd94"/>
<circle cx="167.3" cy="60.5" r="0.7" fill="#c0d783"/>
<circle cx="158.5" cy="64.8" r="0.7" fill="#b7d07a"/>
<circle cx="160.6" cy="49.5" r="0.7" fill="#c9dd94"/>
<circle cx="161.3" cy="63.3" r="0.7" fill="#c9dd94"/>
<circle cx="171.1" cy="66.7" r="0.7" fill="#c9dd94"/>
<circle cx="155.5" cy="57.6" r="0.7" fill="#b7d07a"/>
<circle cx="138.6" cy="61.5" r="0.7" fill="#b7d07a"/>
<circle cx="147.5" cy="50.7" r="0.7" fill="#c0d783"/>
<circle cx="161.1" cy="48.5" r="0.7" fill="#c0d783"/>
<circle cx="164.2" cy="58.4" r="0.7" fill="#c0d783"/>
<circle cx="165.5" cy="52.4" r="0.7" fill="#b7d07a"/>
<circle cx="136.2" cy="56.4" r="0.7" fill="#c9dd94"/>
<circle cx="140.5" cy="48.4" r="0.7" fill="#b7d07a"/>
<circle cx="171.4" cy="62.5" r="0.7" fill="#c9dd94"/>
<circle cx="144.5" cy="57.6" r="0.7" fill="#b7d07a"/>
<circle cx="162.5" cy="61.1" r="0.7" fill="#b7d07a"/>
<circle cx="138.3" cy="59.9" r="0.7" fill="#c9dd94"/>
<circle cx="165.8" cy="52.4" r="0.7" fill="#b7d07a"/>
<circle cx="170.3" cy="50.2" r="0.7" fill="#b7d07a"/>
<circle cx="160.9" cy="68.1" r="0.7" fill="#b7d07a"/>
<circle cx="146.5" cy="47.2" r="0.7" fill="#b7d07a"/>
<circle cx="165.7" cy="64.5" r="0.7" fill="#c0d783"/>
<circle cx="154.8" cy="55.8" r="0.7" fill="#b7d07a"/>
<circle cx="134.2" cy="59.6" r="0.7" fill="#c9dd94"/>
<circle cx="150.2" cy="56.5" r="0.7" fill="#c0d783"/>
<circle cx="149.5" cy="46.8" r="0.7" fill="#c0d783"/>
<circle cx="152.6" cy="61.4" r="0.7" fill="#c0d783"/>
<circle cx="162.9" cy="55.6" r="0.7" fill="#b7d07a"/>
<circle cx="170.7" cy="54.8" r="0.7" fill="#b7d07a"/>
<circle cx="156.3" cy="51.3" r="0.7" fill="#c9dd94"/>
<circle cx="139.7" cy="60.0" r="0.7" fill="#b7d07a"/>
<circle cx="145.5" cy="55.0" r="0.7" fill="#c9dd94"/>
<circle cx="154.0" cy="46.8" r="0.7" fill="#b7d07a"/>
<circle cx="142.1" cy="60.8" r="0.7" fill="#c9dd94"/>
<circle cx="159.9" cy="62.7" r="0.7" fill="#c9dd94"/>
<circle cx="141.9" cy="60.7" r="0.7" fill="#c9dd94"/>
<circle cx="158.2" cy="52.7" r="0.7" fill="#c0d783"/>
<circle cx="151.4" cy="47.0" r="0.7" fill="#b7d07a"/>
<circle cx="164.9" cy="60.1" r="0.7" fill="#c9dd94"/>
<circle cx="153.9" cy="56.8" r="0.7" fill="#c0d783"/>
<circle cx="165.9" cy="52.3" r="0.7" fill="#c9dd94"/>
<circle cx="137.7" cy="51.6" r="0.7" fill="#c9dd94"/>
<circle cx="149.1" cy="45.6" r="0.7" fill="#c9dd94"/>
<circle cx="168.2" cy="54.9" r="0.7" fill="#c0d783"/>
<circle cx="170.7" cy="54.3" r="0.7" fill="#b7d07a"/>
<circle cx="167.1" cy="46.2" r="0.7" fill="#c0d783"/>
<circle cx="164.8" cy="47.7" r="0.7" fill="#b7d07a"/>
<circle cx="157.2" cy="53.0" r="0.7" fill="#b7d07a"/>
<circle cx="170.9" cy="56.2" r="0.7" fill="#b7d07a"/>
<circle cx="161.8" cy="50.5" r="0.7" fill="#c9dd94"/>
<circle cx="162.7" cy="67.7" r="0.7" fill="#b7d07a"/>
<circle cx="141.4" cy="59.9" r="0.7" fill="#b7d07a"/>
<circle cx="150.3" cy="48.5" r="0.7" fill="#c9dd94"/>
<circle cx="170.7" cy="50.3" r="0.7" fill="#c9dd94"/>
<circle cx="144.1" cy="51.7" r="0.7" fill="#b7d07a"/>
<circle cx="163.2" cy="54.1" r="0.7" fill="#b7d07a"/>
<circle cx="155.5" cy="57.4" r="0.7" fill="#c9dd94"/>
<circle cx="157.5" cy="45.1" r="0.7" fill="#c9dd94"/>
<circle cx="137.2" cy="56.1" r="0.7" fill="#c0d783"/>
<circle cx="164.3" cy="50.8" r="0.7" fill="#c0d783"/>
<circle cx="147.3" cy="48.3" r="0.7" fill="#c9dd94"/>
<circle cx="136.5" cy="62.6" r="0.7" fill="#b7d07a"/>
<circle cx="156.2" cy="51.0" r="0.7" fill="#c9dd94"/>
<circle cx="157.9" cy="59.6" r="0.7" fill="#c0d783"/>
<circle cx="148.4" cy="48.9" r="0.7" fill="#c9dd94"/>
<circle cx="143.5" cy="64.5" r="0.7" fill="#b7d07a"/>
<circle cx="172.3" cy="47.6" r="0.7" fill="#c0d783"/>
<circle cx="146.0" cy="55.3" r="0.7" fill="#b7d07a"/>
<circle cx="168.3" cy="57.5" r="0.7" fill="#b7d07a"/>
<circle cx="155.6" cy="58.9" r="0.7" fill="#b7d07a"/>
<circle cx="158.7" cy="56.0" r="0.7" fill="#c9dd94"/>
<circle cx="166.9" cy="54.7" r="0.7" fill="#c9dd94"/>
<circle cx="145.7" cy="54.6" r="0.7" fill="#c0d783"/>
<circle cx="148.8" cy="59.0" r="0.7" fill="#c0d783"/>
<circle cx="171.4" cy="61.7" r="0.7" fill="#c0d783"/>
<circle cx="158.9" cy="43.3" r="0.7" fill="#b7d07a"/>
<circle cx="160.2" cy="57.4" r="0.7" fill="#c0d783"/>
<circle cx="166.0" cy="56.8" r="0.7" fill="#b7d07a"/>
<circle cx="152.4" cy="47.9" r="0.7" fill="#c9dd94"/>
<circle cx="150.7" cy="44.5" r="0.7" fill="#c0d783"/>
<circle cx="139.3" cy="55.0" r="0.7" fill="#c0d783"/>
<circle cx="156.4" cy="60.1" r="0.7" fill="#c9dd94"/>
<circle cx="169.8" cy="62.9" r="0.7" fill="#b7d07a"/>
<circle cx="164.1" cy="61.6" r="0.7" fill="#b7d07a"/>
<circle cx="132.7" cy="66.1" r="0.7" fill="#b7d07a"/>
<circle cx="172.3" cy="45.8" r="0.7" fill="#c0d783"/>
<circle cx="141.6" cy="53.9" r="0.7" fill="#c9dd94"/>
<circle cx="152.3" cy="55.8" r="0.7" fill="#c9dd94"/>
<circle cx="138.5" cy="62.5" r="0.7" fill="#b7d07a"/>
<circle cx="153.2" cy="43.7" r="0.7" fill="#b7d07a"/>
<circle cx="153.5" cy="46.7" r="0.7" fill="#c0d783"/>
<circle cx="140.0" cy="63.1" r="0.7" fill="#b7d07a"/>
<circle cx="130.0" cy="64.6" r="0.7" fill="#c0d783"/>
<circle cx="166.6" cy="59.2" r="0.7" fill="#c0d783"/>
<circle cx="134.3" cy="62.2" r="0.7" fill="#c0d783"/>
<circle cx="163.3" cy="43.3" r="0.7" fill="#b7d07a"/>
<circle cx="169.6" cy="55.0" r="0.7" fill="#c9dd94"/>
<circle cx="172.6" cy="45.3" r="0.7" fill="#c9dd94"/>
<circle cx="160.4" cy="49.1" r="0.7" fill="#b7d07a"/>
<circle cx="154.3" cy="53.4" r="0.7" fill="#c9dd94"/>
<circle cx="157.4" cy="63.5" r="0.7" fill="#c0d783"/>
<circle cx="137.8" cy="50.9" r="0.7" fill="#b7d07a"/>
<circle cx="161.6" cy="59.0" r="0.7" fill="#b7d07a"/>
<circle cx="170.8" cy="46.7" r="0.7" fill="#c0d783"/>
<circle cx="160.0" cy="65.1" r="0.7" fill="#c9dd94"/>
<circle cx="145.6" cy="59.6" r="0.7" fill="#b7d07a"/>
<circle cx="136.7" cy="55.3" r="0.7" fill="#c0d783"/>
<circle cx="162.9" cy="67.1" r="0.7" fill="#c9dd94"/>
<circle cx="138.1" cy="59.7" r="0.7" fill="#b7d07a"/>
<circle cx="154.6" cy="44.4" r="0.7" fill="#c9dd94"/>
<circle cx="168.2" cy="57.2" r="0.7" fill="#c9dd94"/>
<circle cx="132.4" cy="65.2" r="0.7" fill="#c0d783"/>
<circle cx="142.6" cy="48.4" r="0.7" fill="#b7d07a"/>
<circle cx="158.7" cy="66.2" r="0.7" fill="#c0d783"/>
<circle cx="156.0" cy="52.2" r="0.7" fill="#c0d783"/>
<circle cx="157.2" cy="54.4" r="0.7" fill="#c9dd94"/>
<circle cx="157.8" cy="56.0" r="0.7" fill="#c0d783"/>
<circle cx="137.2" cy="62.5" r="0.7" fill="#c9dd94"/>
<circle cx="155.3" cy="62.4" r="0.7" fill="#b7d07a"/>
<circle cx="146.7" cy="60.6" r="0.7" fill="#b7d07a"/>
<circle cx="130.7" cy="61.3" r="0.7" fill="#c0d783"/>
<circle cx="171.7" cy="63.4" r="0.7" fill="#c9dd94"/>
<circle cx="133.4" cy="54.7" r="0.7" fill="#c9dd94"/>
<circle cx="149.9" cy="52.3" r="0.7" fill="#c0d783"/>
<circle cx="155.8" cy="57.5" r="0.7" fill="#c0d783"/>
<circle cx="130.3" cy="62.6" r="0.7" fill="#c9dd94"/>
<circle cx="144.7" cy="51.7" r="0.7" fill="#c9dd94"/>
<circle cx="154.8" cy="62.5" r="0.7" fill="#b7d07a"/>
<circle cx="160.5" cy="49.2" r="0.7" fill="#c0d783"/>
<circle cx="150.1" cy="44.5" r="0.7" fill="#c0d783"/>
<circle cx="141.5" cy="64.3" r="0.7" fill="#b7d07a"/>
<circle cx="153.7" cy="43.1" r="0.7" fill="#b7d07a"/>
<circle cx="134.1" cy="62.6" r="0.7" fill="#c0d783"/>
<circle cx="142.2" cy="61.1" r="0.7" fill="#c9dd94"/>
<circle cx="163.3" cy="62.0" r="0.7" fill="#c0d783"/>
<circle cx="156.0" cy="43.8" r="0.7" fill="#c9dd94"/>
<circle cx="157.4" cy="65.7" r="0.7" fill="#c9dd94"/>
<circle cx="161.1" cy="67.5" r="0.7" fill="#c0d783"/>
<circle cx="159.9" cy="56.3" r="0.7" fill="#c9dd94"/>
<circle cx="147.7" cy="47.9" r="0.7" fill="#c0d783"/>
<circle cx="166.3" cy="61.5" r="0.7" fill="#c9dd94"/>
<circle cx="172.8" cy="58.2" r="0.7" fill="#c0d783"/>
<circle cx="133.0" cy="59.1" r="0.7" fill="#c0d783"/>
<circle cx="139.1" cy="57.7" r="0.7" fill="#c0d783"/>
<circle cx="151.1" cy="49.2" r="0.7" fill="#b7d07a"/>
<circle cx="138.1" cy="56.9" r="0.7" fill="#b7d07a"/>
<circle cx="170.6" cy="53.8" r="0.7" fill="#c0d783"/>
<circle cx="162.0" cy="42.1" r="0.7" fill="#b7d07a"/>
<circle cx="136.3" cy="66.1" r="0.7" fill="#c9dd94"/>
<circle cx="168.2" cy="54.4" r="0.7" fill="#c9dd94"/>
<circle cx="155.4" cy="44.4" r="0.7" fill="#c9dd94"/>
<circle cx="147.0" cy="60.2" r="0.7" fill="#c9dd94"/>
<circle cx="149.7" cy="46.3" r="0.7" fill="#c9dd94"/>
<circle cx="166.0" cy="59.9" r="0.7" fill="#c0d783"/>
<circle cx="150.0" cy="48.6" r="0.7" fill="#c9dd94"/>
<circle cx="139.3" cy="62.8" r="0.7" fill="#c9dd94"/>
<circle cx="152.1" cy="59.8" r="0.7" fill="#b7d07a"/>
<circle cx="171.3" cy="51.8" r="0.7" fill="#c0d783"/>
<circle cx="162.5" cy="60.9" r="0.7" fill="#c9dd94"/>
<circle cx="133.2" cy="59.2" r="0.7" fill="#b7d07a"/>
<circle cx="152.0" cy="43.2" r="0.7" fill="#b7d07a"/>
<circle cx="172.8" cy="52.7" r="0.7" fill="#b7d07a"/>
<circle cx="171.6" cy="62.7" r="0.7" fill="#b7d07a"/>
<circle cx="158.7" cy="60.8" r="0.7" fill="#c9dd94"/>
<circle cx="161.4" cy="45.8" r="0.7" fill="#c9dd94"/>
<circle cx="170.2" cy="58.3" r="0.7" fill="#c9dd94"/>
<circle cx="141.7" cy="62.8" r="0.7" fill="#c9dd94"/>
<circle cx="159.0" cy="61.4" r="0.7" fill="#c9dd94"/>
<circle cx="155.3" cy="46.9" r="0.7" fill="#c0d783"/>
<circle cx="144.7" cy="59.4" r="0.7" fill="#b7d07a"/>
<circle cx="170.8" cy="65.0" r="0.7" fill="#b7d07a"/>
<circle cx="155.7" cy="53.0" r="0.7" fill="#c0d783"/>
<circle cx="172.9" cy="67.9" r="0.7" fill="#b7d07a"/>
<circle cx="170.0" cy="46.8" r="0.7" fill="#b7d07a"/>
<circle cx="156.3" cy="45.6" r="0.7" fill="#c9dd94"/>
<circle cx="164.1" cy="52.7" r="0.7" fill="#b7d07a"/>
<circle cx="161.6" cy="55.0" r="0.7" fill="#c9dd94"/>
<circle cx="144.9" cy="51.8" r="0.7" fill="#c9dd94"/>
<circle cx="139.1" cy="65.9" r="0.7" fill="#b7d07a"/>
<circle cx="156.8" cy="47.0" r="0.7" fill="#c9dd94"/>
<circle cx="155.1" cy="56.4" r="0.7" fill="#c0d783"/>
<circle cx="162.2" cy="60.8" r="0.7" fill="#b7d07a"/>
<circle cx="137.0" cy="62.4" r="0.7" fill="#c0d783"/>
<circle cx="167.0" cy="59.7" r="0.7" fill="#b7d07a"/>
<circle cx="131.7" cy="64.9" r="0.7" fill="#c0d783"/>
<circle cx="162.3" cy="49.0" r="0.7" fill="#b7d07a"/>
<circle cx="168.6" cy="50.0" r="0.7" fill="#b7d07a"/>
<circle cx="144.8" cy="52.3" r="0.7" fill="#c0d783"/>
<circle cx="172.4" cy="45.9" r="0.7" fill="#c9dd94"/>
<circle cx="170.1" cy="60.5" r="0.7" fill="#c9dd94"/>
<circle cx="134.7" cy="55.6" r="0.7" fill="#c0d783"/>
<circle cx="170.2" cy="68.6" r="0.7" fill="#b7d07a"/>
<circle cx="164.9" cy="49.4" r="0.7" fill="#c0d783"/>
<circle cx="153.2" cy="58.0" r="0.7" fill="#c0d783"/>
<circle cx="155.1" cy="55.0" r="0.7" fill="#c0d783"/>
<circle cx="167.7" cy="62.3" r="0.7" fill="#c9dd94"/>
<circle cx="164.2" cy="45.2" r="0.7" fill="#c0d783"/>
<circle cx="167.5" cy="51.4" r="0.7" fill="#c9dd94"/>
<circle cx="165.2" cy="60.7" r="0.7" fill="#c0d783"/>
<circle cx="132.6" cy="64.7" r="0.7" fill="#b7d07a"/>
<circle cx="165.5" cy="67.1" r="0.7" fill="#b7d07a"/>
<circle cx="156.4" cy="51.4" r="0.7" fill="#c9dd94"/>
<circle cx="161.9" cy="46.6" r="0.7" fill="#b7d07a"/>
<circle cx="163.2" cy="64.0" r="0.7" fill="#c9dd94"/>
<circle cx="157.5" cy="63.0" r="0.7" fill="#b7d07a"/>
<circle cx="162.8" cy="44.7" r="0.7" fill="#b7d07a"/>
<circle cx="150.7" cy="53.5" r="0.7" fill="#c9dd94"/>
<circle cx="150.1" cy="49.7" r="0.7" fill="#c0d783"/>
<circle cx="169.2" cy="45.1" r="0.7" fill="#b7d07a"/>
<circle cx="133.1" cy="66.2" r="0.7" fill="#c0d783"/>
<circle cx="152.7" cy="43.2" r="0.7" fill="#c0d783"/>
<circle cx="138.5" cy="50.9" r="0.7" fill="#c0d783"/>
<circle cx="168.5" cy="61.4" r="0.7" fill="#c0d783"/>
<circle cx="146.9" cy="61.0" r="0.7" fill="#c9dd94"/>
<circle cx="147.8" cy="56.0" r="0.7" fill="#b7d07a"/>
<circle cx="172.3" cy="61.0" r="0.7" fill="#c0d783"/>
<circle cx="134.5" cy="64.5" r="0.7" fill="#b7d07a"/>
<circle cx="161.3" cy="46.0" r="0.7" fill="#b7d07a"/>
<circle cx="159.3" cy="61.5" r="0.7" fill="#c9dd94"/>
<circle cx="143.8" cy="52.8" r="0.7" fill="#b7d07a"/>
<circle cx="133.2" cy="65.9" r="0.7" fill="#c9dd94"/>
<circle cx="153.6" cy="51.0" r="0.7" fill="#c0d783"/>
<circle cx="133.9" cy="63.3" r="0.7" fill="#c0d783"/>
<circle cx="157.8" cy="64.4" r="0.7" fill="#c9dd94"/>
<circle cx="159.8" cy="66.6" r="0.7" fill="#c0d783"/>
<circle cx="148.0" cy="46.5" r="0.7" fill="#c9dd94"/>
<circle cx="165.9" cy="67.0" r="0.7" fill="#c0d783"/>
<circle cx="140.3" cy="48.8" r="0.7" fill="#c9dd94"/>
<circle cx="171.8" cy="50.1" r="0.7" fill="#b7d07a"/>
<circle cx="147.2" cy="55.6" r="0.7" fill="#c9dd94"/>
<circle cx="135.9" cy="65.7" r="0.7" fill="#c9dd94"/>
<circle cx="164.6" cy="54.9" r="0.7" fill="#c9dd94"/>
<circle cx="154.5" cy="50.5" r="0.7" fill="#c0d783"/>
<circle cx="154.0" cy="48.4" r="0.7" fill="#c9dd94"/>
<circle cx="169.0" cy="54.8" r="0.7" fill="#c0d783"/>
<circle cx="169.3" cy="67.0" r="0.7" fill="#b7d07a"/>
<circle cx="149.7" cy="60.5" r="0.7" fill="#c0d783"/>
<circle cx="172.7" cy="52.0" r="0.7" fill="#c0d783"/>
<circle cx="169.1" cy="56.3" r="0.7" fill="#c0d783"/>
<circle cx="168.1" cy="50.1" r="0.7" fill="#c9dd94"/>
<circle cx="134.4" cy="56.6" r="0.7" fill="#b7d07a"/>
<circle cx="145.2" cy="46.2" r="0.7" fill="#b7d07a"/>
<circle cx="169.5" cy="57.6" r="0.7" fill="#c9dd94"/>
<circle cx="146.3" cy="47.4" r="0.7" fill="#c0d783"/>
<circle cx="151.1" cy="48.4" r="0.7" fill="#c9dd94"/>
<circle cx="156.0" cy="45.4" r="0.7" fill="#b7d07a"/>
<circle cx="156.6" cy="53.0" r="0.55" fill="#ffffff"/>
<circle cx="161.9" cy="68.8" r="0.55" fill="#ffffff"/>
<circle cx="149.5" cy="46.2" r="0.55" fill="#ffffff"/>
<circle cx="162.4" cy="48.7" r="0.55" fill="#f4f9e8"/>
<circle cx="147.2" cy="47.5" r="0.55" fill="#f4f9e8"/>
<circle cx="159.9" cy="55.5" r="0.55" fill="#f4f9e8"/>
<circle cx="160.1" cy="49.7" r="0.55" fill="#ffffff"/>
<circle cx="163.3" cy="42.1" r="0.55" fill="#ffffff"/>
<circle cx="172.8" cy="58.7" r="0.55" fill="#ffffff"/>
<circle cx="159.4" cy="58.2" r="0.55" fill="#f4f9e8"/>
<circle cx="147.8" cy="61.4" r="0.55" fill="#f4f9e8"/>
<circle cx="137.4" cy="63.0" r="0.55" fill="#ffffff"/>
<circle cx="133.4" cy="60.6" r="0.55" fill="#ffffff"/>
<circle cx="171.0" cy="68.6" r="0.55" fill="#ffffff"/>
<circle cx="157.3" cy="46.3" r="0.55" fill="#ffffff"/>
<circle cx="169.8" cy="62.9" r="0.55" fill="#ffffff"/>
<circle cx="154.5" cy="43.6" r="0.55" fill="#ffffff"/>
<circle cx="157.9" cy="60.3" r="0.55" fill="#ffffff"/>
<circle cx="160.0" cy="47.0" r="0.55" fill="#f4f9e8"/>
<circle cx="165.9" cy="58.2" r="0.55" fill="#f4f9e8"/>
<circle cx="141.4" cy="64.7" r="0.55" fill="#f4f9e8"/>
<circle cx="156.1" cy="51.5" r="0.55" fill="#f4f9e8"/>
<circle cx="157.8" cy="43.5" r="0.55" fill="#ffffff"/>
<circle cx="157.9" cy="47.7" r="0.55" fill="#ffffff"/>
<circle cx="145.3" cy="55.5" r="0.55" fill="#ffffff"/>
<circle cx="147.9" cy="46.7" r="0.55" fill="#f4f9e8"/>
<circle cx="143.7" cy="54.1" r="0.55" fill="#ffffff"/>
<circle cx="155.2" cy="55.2" r="0.55" fill="#f4f9e8"/>
<circle cx="170.8" cy="63.3" r="0.55" fill="#ffffff"/>
<circle cx="151.2" cy="47.4" r="0.55" fill="#ffffff"/>
<circle cx="154.0" cy="59.0" r="0.55" fill="#ffffff"/>
<circle cx="162.8" cy="63.8" r="0.55" fill="#ffffff"/>
<circle cx="169.6" cy="49.2" r="0.55" fill="#f4f9e8"/>
<circle cx="136.3" cy="59.1" r="0.55" fill="#ffffff"/>
<circle cx="162.0" cy="43.1" r="0.55" fill="#ffffff"/>
<circle cx="170.3" cy="61.4" r="0.55" fill="#f4f9e8"/>
<circle cx="149.5" cy="60.6" r="0.55" fill="#ffffff"/>
<circle cx="165.8" cy="50.8" r="0.55" fill="#ffffff"/>
<circle cx="139.0" cy="62.2" r="0.55" fill="#ffffff"/>
<circle cx="140.5" cy="60.0" r="0.55" fill="#f4f9e8"/>
<circle cx="145.3" cy="58.8" r="0.55" fill="#ffffff"/>
<circle cx="137.0" cy="55.8" r="0.55" fill="#ffffff"/>
<circle cx="149.2" cy="53.9" r="0.55" fill="#ffffff"/>
<circle cx="165.4" cy="53.2" r="0.55" fill="#ffffff"/>
<circle cx="164.1" cy="65.9" r="0.55" fill="#f4f9e8"/>
<circle cx="140.3" cy="54.6" r="0.55" fill="#f4f9e8"/>
<circle cx="162.7" cy="68.2" r="0.55" fill="#ffffff"/>
<circle cx="162.9" cy="68.0" r="0.55" fill="#ffffff"/>
<circle cx="168.8" cy="48.0" r="0.55" fill="#ffffff"/>
<circle cx="162.8" cy="49.1" r="0.55" fill="#ffffff"/>
<circle cx="145.9" cy="54.0" r="0.55" fill="#ffffff"/>
<circle cx="159.2" cy="44.7" r="0.55" fill="#ffffff"/>
<circle cx="166.2" cy="69.1" r="0.55" fill="#f4f9e8"/>
<circle cx="159.1" cy="62.5" r="0.55" fill="#ffffff"/>
<circle cx="171.4" cy="47.2" r="0.55" fill="#f4f9e8"/>
<circle cx="168.8" cy="63.9" r="0.55" fill="#f4f9e8"/>
<circle cx="152.4" cy="60.8" r="0.55" fill="#ffffff"/>
<circle cx="165.9" cy="43.5" r="0.55" fill="#f4f9e8"/>
<circle cx="152.3" cy="61.1" r="0.55" fill="#ffffff"/>
<circle cx="161.1" cy="67.1" r="0.55" fill="#ffffff"/>
<circle cx="130.3" cy="63.8" r="0.55" fill="#f4f9e8"/>
<circle cx="157.0" cy="52.9" r="0.55" fill="#ffffff"/>
<circle cx="160.5" cy="42.1" r="0.55" fill="#ffffff"/>
<circle cx="159.6" cy="52.9" r="0.55" fill="#ffffff"/>
<circle cx="160.6" cy="59.0" r="0.55" fill="#f4f9e8"/>
<circle cx="151.8" cy="43.7" r="0.55" fill="#f4f9e8"/>
<circle cx="143.7" cy="63.0" r="0.55" fill="#f4f9e8"/>
<circle cx="167.3" cy="63.9" r="0.55" fill="#ffffff"/>
<circle cx="146.8" cy="53.8" r="0.55" fill="#f4f9e8"/>
<circle cx="168.4" cy="49.2" r="0.55" fill="#ffffff"/>
<circle cx="135.3" cy="60.7" r="0.55" fill="#ffffff"/>
<circle cx="137.8" cy="66.2" r="0.55" fill="#f4f9e8"/>
<circle cx="161.5" cy="46.1" r="0.55" fill="#ffffff"/>
<circle cx="139.7" cy="55.8" r="0.55" fill="#f4f9e8"/>
<circle cx="141.5" cy="50.6" r="0.55" fill="#f4f9e8"/>
<circle cx="147.9" cy="52.6" r="0.55" fill="#f4f9e8"/>
<circle cx="146.5" cy="59.8" r="0.55" fill="#f4f9e8"/>
<circle cx="150.3" cy="57.6" r="0.55" fill="#f4f9e8"/>
<circle cx="137.2" cy="66.4" r="0.55" fill="#ffffff"/>
<circle cx="135.8" cy="61.6" r="0.55" fill="#ffffff"/>
<circle cx="142.3" cy="62.5" r="0.55" fill="#f4f9e8"/>
<circle cx="165.4" cy="48.8" r="0.55" fill="#f4f9e8"/>
<circle cx="143.0" cy="49.1" r="0.55" fill="#ffffff"/>
<circle cx="163.0" cy="62.2" r="0.55" fill="#f4f9e8"/>
<circle cx="172.7" cy="61.5" r="0.55" fill="#f4f9e8"/>
<circle cx="166.3" cy="51.1" r="0.55" fill="#ffffff"/>
<circle cx="148.9" cy="44.9" r="0.55" fill="#f4f9e8"/>
<circle cx="146.4" cy="62.6" r="0.55" fill="#ffffff"/>
<circle cx="147.7" cy="47.8" r="0.55" fill="#f4f9e8"/>
<circle cx="157.4" cy="47.0" r="0.55" fill="#f4f9e8"/>
<circle cx="145.3" cy="48.7" r="0.55" fill="#f4f9e8"/>
<circle cx="170.1" cy="50.3" r="0.55" fill="#f4f9e8"/>
<circle cx="151.1" cy="57.0" r="0.55" fill="#f4f9e8"/>
<circle cx="151.3" cy="45.0" r="0.55" fill="#ffffff"/>
<circle cx="138.5" cy="49.9" r="0.55" fill="#f4f9e8"/>
<circle cx="163.1" cy="54.6" r="0.55" fill="#f4f9e8"/>
<circle cx="164.2" cy="52.9" r="0.55" fill="#ffffff"/>
<circle cx="155.5" cy="56.7" r="0.55" fill="#f4f9e8"/>
<circle cx="144.8" cy="53.6" r="0.55" fill="#ffffff"/>
<circle cx="135.2" cy="52.0" r="0.55" fill="#ffffff"/>
<circle cx="154.9" cy="54.0" r="0.55" fill="#ffffff"/>
<circle cx="165.1" cy="61.7" r="0.55" fill="#f4f9e8"/>
<circle cx="157.4" cy="42.8" r="0.55" fill="#f4f9e8"/>
<circle cx="157.9" cy="45.7" r="0.55" fill="#ffffff"/>
<circle cx="167.9" cy="50.6" r="0.55" fill="#ffffff"/>
<circle cx="159.7" cy="58.7" r="0.55" fill="#f4f9e8"/>
<circle cx="170.5" cy="68.8" r="0.55" fill="#f4f9e8"/>
<circle cx="164.4" cy="45.6" r="0.55" fill="#ffffff"/>
<circle cx="132.2" cy="62.6" r="0.55" fill="#ffffff"/>
<circle cx="147.4" cy="62.5" r="0.55" fill="#f4f9e8"/>
<circle cx="157.2" cy="47.2" r="0.55" fill="#ffffff"/>
<circle cx="169.2" cy="46.5" r="0.55" fill="#f4f9e8"/>
<circle cx="159.9" cy="51.6" r="0.55" fill="#f4f9e8"/>
<circle cx="170.3" cy="54.4" r="0.55" fill="#f4f9e8"/>
<circle cx="143.1" cy="48.1" r="0.55" fill="#ffffff"/>
<circle cx="139.1" cy="53.3" r="0.55" fill="#f4f9e8"/>
<circle cx="141.2" cy="62.0" r="0.55" fill="#ffffff"/>
<circle cx="148.1" cy="61.1" r="0.55" fill="#f4f9e8"/>
<circle cx="146.8" cy="55.9" r="0.55" fill="#f4f9e8"/>
<circle cx="132.0" cy="56.0" r="0.55" fill="#f4f9e8"/>
<circle cx="160.2" cy="65.2" r="0.55" fill="#ffffff"/>
<circle cx="156.3" cy="59.2" r="0.55" fill="#f4f9e8"/>
<circle cx="155.1" cy="53.4" r="0.55" fill="#ffffff"/>
<circle cx="170.3" cy="57.0" r="0.55" fill="#ffffff"/>
<circle cx="136.7" cy="63.7" r="0.55" fill="#ffffff"/>
<circle cx="131.3" cy="57.5" r="0.55" fill="#f4f9e8"/>
<circle cx="135.8" cy="52.2" r="0.55" fill="#ffffff"/>
<circle cx="134.7" cy="64.6" r="0.55" fill="#f4f9e8"/>
<circle cx="163.7" cy="43.6" r="0.55" fill="#ffffff"/>
<circle cx="137.5" cy="62.5" r="0.55" fill="#ffffff"/>
<circle cx="143.4" cy="56.2" r="0.55" fill="#ffffff"/>
<circle cx="161.1" cy="48.0" r="0.55" fill="#ffffff"/>
<circle cx="159.8" cy="54.1" r="0.55" fill="#f4f9e8"/>
<circle cx="141.9" cy="55.7" r="0.55" fill="#ffffff"/>
<circle cx="136.3" cy="58.4" r="0.55" fill="#ffffff"/>
<circle cx="144.1" cy="55.5" r="0.55" fill="#ffffff"/>
<circle cx="163.0" cy="44.1" r="0.55" fill="#f4f9e8"/>
<circle cx="143.3" cy="62.3" r="0.55" fill="#ffffff"/>
<circle cx="139.1" cy="65.4" r="0.55" fill="#ffffff"/>
<circle cx="135.0" cy="55.4" r="0.55" fill="#f4f9e8"/>
<circle cx="156.4" cy="55.4" r="0.55" fill="#f4f9e8"/>
<circle cx="134.0" cy="59.6" r="0.55" fill="#f4f9e8"/>
<circle cx="130.0" cy="64.9" r="0.55" fill="#ffffff"/>
<circle cx="154.6" cy="45.1" r="0.55" fill="#f4f9e8"/>
<circle cx="132.1" cy="59.7" r="0.55" fill="#ffffff"/>
<circle cx="134.7" cy="65.3" r="0.55" fill="#ffffff"/>
<circle cx="149.1" cy="45.7" r="0.55" fill="#ffffff"/>
<circle cx="163.1" cy="47.9" r="0.55" fill="#f4f9e8"/>
<circle cx="160.1" cy="64.7" r="0.55" fill="#ffffff"/>
<circle cx="154.1" cy="58.3" r="0.55" fill="#f4f9e8"/>
<circle cx="151.7" cy="57.6" r="0.55" fill="#ffffff"/>
<circle cx="157.6" cy="51.8" r="0.55" fill="#f4f9e8"/>
<circle cx="151.7" cy="44.9" r="0.55" fill="#f4f9e8"/>
<circle cx="160.6" cy="58.9" r="0.55" fill="#f4f9e8"/>
<circle cx="147.2" cy="53.0" r="0.55" fill="#ffffff"/>
<circle cx="144.1" cy="50.3" r="0.55" fill="#f4f9e8"/>
<circle cx="165.5" cy="68.8" r="0.55" fill="#f4f9e8"/>
<circle cx="134.3" cy="66.3" r="0.55" fill="#ffffff"/>
<circle cx="171.2" cy="57.9" r="0.55" fill="#f4f9e8"/>
<circle cx="171.6" cy="67.1" r="0.55" fill="#f4f9e8"/>
<polygon points="173.3,46.6 182.8,48.3 189.8,51.8 196.7,50.0 205.3,55.2 209.7,60.4 207.1,63.9 198.4,65.6 193.2,69.1 188.5,70.6 186.5,76.3 181.7,83.1 176.0,87.9 171.2,90.8 168.3,86.9 172.1,82.1 175.0,76.3 173.1,69.6 173.0,69.1" fill="#e8e2a6"/>
<circle cx="186.8" cy="68.2" r="0.7" fill="#c2b442"/>
<circle cx="177.9" cy="79.1" r="0.7" fill="#b6a838"/>
<circle cx="180.3" cy="82.8" r="0.7" fill="#c2b442"/>
<circle cx="176.2" cy="84.9" r="0.7" fill="#ccbf52"/>
<circle cx="176.8" cy="86.8" r="0.7" fill="#ccbf52"/>
<circle cx="188.6" cy="57.1" r="0.7" fill="#ccbf52"/>
<circle cx="183.8" cy="68.7" r="0.7" fill="#b6a838"/>
<circle cx="174.2" cy="60.2" r="0.7" fill="#b6a838"/>
<circle cx="180.1" cy="82.3" r="0.7" fill="#ccbf52"/>
<circle cx="179.0" cy="78.8" r="0.7" fill="#b6a838"/>
<circle cx="195.4" cy="60.3" r="0.7" fill="#b6a838"/>
<circle cx="170.7" cy="88.0" r="0.7" fill="#c2b442"/>
<circle cx="180.5" cy="64.4" r="0.7" fill="#b6a838"/>
<circle cx="205.2" cy="58.9" r="0.7" fill="#b6a838"/>
<circle cx="179.0" cy="50.4" r="0.7" fill="#b6a838"/>
<circle cx="185.4" cy="55.1" r="0.7" fill="#c2b442"/>
<circle cx="181.6" cy="62.8" r="0.7" fill="#ccbf52"/>
<circle cx="195.8" cy="56.8" r="0.7" fill="#b6a838"/>
<circle cx="194.4" cy="50.7" r="0.7" fill="#ccbf52"/>
<circle cx="192.4" cy="53.0" r="0.7" fill="#b6a838"/>
<circle cx="200.6" cy="63.5" r="0.7" fill="#b6a838"/>
<circle cx="180.6" cy="59.5" r="0.7" fill="#c2b442"/>
<circle cx="200.4" cy="55.8" r="0.7" fill="#b6a838"/>
<circle cx="200.4" cy="53.8" r="0.7" fill="#ccbf52"/>
<circle cx="185.9" cy="58.1" r="0.7" fill="#c2b442"/>
<circle cx="185.3" cy="67.6" r="0.7" fill="#b6a838"/>
<circle cx="184.5" cy="75.1" r="0.7" fill="#ccbf52"/>
<circle cx="174.7" cy="85.8" r="0.7" fill="#ccbf52"/>
<circle cx="202.8" cy="54.7" r="0.7" fill="#ccbf52"/>
<circle cx="174.2" cy="57.9" r="0.7" fill="#c2b442"/>
<circle cx="181.2" cy="68.0" r="0.7" fill="#ccbf52"/>
<circle cx="175.8" cy="59.2" r="0.7" fill="#ccbf52"/>
<circle cx="175.3" cy="84.7" r="0.7" fill="#b6a838"/>
<circle cx="180.9" cy="75.6" r="0.7" fill="#ccbf52"/>
<circle cx="176.6" cy="74.6" r="0.7" fill="#ccbf52"/>
<circle cx="174.5" cy="66.2" r="0.7" fill="#ccbf52"/>
<circle cx="172.4" cy="87.5" r="0.7" fill="#ccbf52"/>
<circle cx="173.3" cy="62.9" r="0.7" fill="#b6a838"/>
<circle cx="176.0" cy="79.4" r="0.7" fill="#b6a838"/>
<circle cx="198.1" cy="56.0" r="0.7" fill="#ccbf52"/>
<circle cx="177.5" cy="64.7" r="0.7" fill="#c2b442"/>
<circle cx="197.9" cy="56.5" r="0.7" fill="#ccbf52"/>
<circle cx="184.8" cy="65.7" r="0.7" fill="#c2b442"/>
<circle cx="175.3" cy="82.5" r="0.7" fill="#ccbf52"/>
<circle cx="202.0" cy="63.9" r="0.7" fill="#b6a838"/>
<circle cx="184.2" cy="55.1" r="0.7" fill="#c2b442"/>
<circle cx="190.6" cy="68.0" r="0.7" fill="#c2b442"/>
<circle cx="175.3" cy="57.1" r="0.7" fill="#ccbf52"/>
<circle cx="194.8" cy="61.6" r="0.7" fill="#c2b442"/>
<circle cx="190.7" cy="59.1" r="0.7" fill="#c2b442"/>
<circle cx="175.9" cy="58.9" r="0.7" fill="#c2b442"/>
<circle cx="206.1" cy="57.2" r="0.7" fill="#b6a838"/>
<circle cx="188.2" cy="53.7" r="0.7" fill="#ccbf52"/>
<circle cx="176.8" cy="66.0" r="0.7" fill="#c2b442"/>
<circle cx="181.9" cy="52.1" r="0.7" fill="#c2b442"/>
<circle cx="193.1" cy="59.8" r="0.7" fill="#ccbf52"/>
<circle cx="173.7" cy="69.7" r="0.7" fill="#b6a838"/>
<circle cx="208.1" cy="61.9" r="0.7" fill="#b6a838"/>
<circle cx="181.8" cy="73.0" r="0.7" fill="#c2b442"/>
<circle cx="200.8" cy="57.0" r="0.7" fill="#ccbf52"/>
<circle cx="179.2" cy="55.1" r="0.7" fill="#ccbf52"/>
<circle cx="180.3" cy="68.2" r="0.7" fill="#ccbf52"/>
<circle cx="179.5" cy="58.2" r="0.7" fill="#c2b442"/>
<circle cx="185.2" cy="60.2" r="0.7" fill="#ccbf52"/>
<circle cx="189.9" cy="69.6" r="0.7" fill="#c2b442"/>
<circle cx="181.5" cy="57.0" r="0.7" fill="#c2b442"/>
<circle cx="171.3" cy="90.6" r="0.7" fill="#c2b442"/>
<circle cx="185.0" cy="67.5" r="0.7" fill="#ccbf52"/>
<circle cx="185.2" cy="78.0" r="0.7" fill="#ccbf52"/>
<circle cx="197.6" cy="59.4" r="0.7" fill="#c2b442"/>
<circle cx="183.0" cy="65.8" r="0.7" fill="#c2b442"/>
<circle cx="183.2" cy="75.8" r="0.7" fill="#b6a838"/>
<circle cx="193.3" cy="52.7" r="0.7" fill="#b6a838"/>
<circle cx="176.6" cy="80.5" r="0.7" fill="#b6a838"/>
<circle cx="197.6" cy="55.8" r="0.7" fill="#ccbf52"/>
<circle cx="174.9" cy="60.8" r="0.7" fill="#ccbf52"/>
<circle cx="181.8" cy="74.6" r="0.7" fill="#ccbf52"/>
<circle cx="193.6" cy="54.1" r="0.7" fill="#b6a838"/>
<circle cx="202.0" cy="54.5" r="0.7" fill="#ccbf52"/>
<circle cx="206.8" cy="58.0" r="0.7" fill="#b6a838"/>
<circle cx="176.6" cy="85.4" r="0.7" fill="#ccbf52"/>
<circle cx="181.8" cy="81.2" r="0.7" fill="#ccbf52"/>
<circle cx="183.0" cy="66.3" r="0.7" fill="#b6a838"/>
<circle cx="183.3" cy="63.3" r="0.7" fill="#b6a838"/>
<circle cx="176.6" cy="53.0" r="0.7" fill="#b6a838"/>
<circle cx="178.1" cy="59.9" r="0.7" fill="#c2b442"/>
<circle cx="194.5" cy="56.6" r="0.7" fill="#ccbf52"/>
<circle cx="178.3" cy="55.0" r="0.7" fill="#b6a838"/>
<circle cx="203.4" cy="54.1" r="0.7" fill="#ccbf52"/>
<circle cx="191.3" cy="56.0" r="0.7" fill="#b6a838"/>
<circle cx="177.1" cy="81.4" r="0.7" fill="#ccbf52"/>
<circle cx="177.4" cy="62.9" r="0.7" fill="#ccbf52"/>
<circle cx="182.7" cy="63.7" r="0.7" fill="#ccbf52"/>
<circle cx="173.9" cy="86.7" r="0.7" fill="#c2b442"/>
<circle cx="185.4" cy="71.5" r="0.7" fill="#ccbf52"/>
<circle cx="177.1" cy="78.1" r="0.7" fill="#c2b442"/>
<circle cx="189.8" cy="56.7" r="0.7" fill="#ccbf52"/>
<circle cx="179.2" cy="84.0" r="0.7" fill="#ccbf52"/>
<circle cx="207.4" cy="62.6" r="0.7" fill="#ccbf52"/>
<circle cx="171.3" cy="84.3" r="0.7" fill="#c2b442"/>
<circle cx="173.8" cy="59.8" r="0.7" fill="#ccbf52"/>
<circle cx="176.0" cy="60.6" r="0.7" fill="#c2b442"/>
<circle cx="178.1" cy="54.4" r="0.7" fill="#b6a838"/>
<circle cx="178.5" cy="72.4" r="0.7" fill="#ccbf52"/>
<circle cx="184.0" cy="67.5" r="0.7" fill="#b6a838"/>
<circle cx="181.3" cy="61.4" r="0.7" fill="#ccbf52"/>
<circle cx="201.4" cy="63.9" r="0.7" fill="#c2b442"/>
<circle cx="207.8" cy="59.6" r="0.7" fill="#ccbf52"/>
<circle cx="175.4" cy="86.4" r="0.7" fill="#b6a838"/>
<circle cx="183.3" cy="60.5" r="0.7" fill="#ccbf52"/>
<circle cx="178.2" cy="70.6" r="0.7" fill="#c2b442"/>
<circle cx="175.1" cy="73.1" r="0.7" fill="#c2b442"/>
<circle cx="180.3" cy="79.8" r="0.7" fill="#ccbf52"/>
<circle cx="190.4" cy="63.2" r="0.7" fill="#b6a838"/>
<circle cx="192.3" cy="66.9" r="0.7" fill="#c2b442"/>
<circle cx="203.7" cy="60.2" r="0.7" fill="#b6a838"/>
<circle cx="181.8" cy="70.9" r="0.7" fill="#b6a838"/>
<circle cx="180.1" cy="72.4" r="0.7" fill="#b6a838"/>
<circle cx="172.3" cy="81.9" r="0.7" fill="#b6a838"/>
<circle cx="178.1" cy="79.9" r="0.7" fill="#b6a838"/>
<circle cx="171.9" cy="84.9" r="0.7" fill="#b6a838"/>
<circle cx="189.1" cy="58.2" r="0.7" fill="#ccbf52"/>
<circle cx="175.6" cy="58.9" r="0.7" fill="#ccbf52"/>
<circle cx="204.3" cy="61.1" r="0.7" fill="#ccbf52"/>
<circle cx="189.3" cy="60.9" r="0.7" fill="#ccbf52"/>
<circle cx="202.2" cy="56.9" r="0.7" fill="#ccbf52"/>
<circle cx="195.2" cy="63.1" r="0.7" fill="#b6a838"/>
<circle cx="204.0" cy="61.6" r="0.7" fill="#b6a838"/>
<circle cx="184.8" cy="62.0" r="0.7" fill="#ccbf52"/>
<circle cx="174.2" cy="68.9" r="0.7" fill="#b6a838"/>
<circle cx="175.3" cy="51.5" r="0.7" fill="#c2b442"/>
<circle cx="176.3" cy="57.3" r="0.7" fill="#b6a838"/>
<circle cx="182.5" cy="60.0" r="0.7" fill="#c2b442"/>
<circle cx="178.5" cy="82.4" r="0.7" fill="#ccbf52"/>
<circle cx="173.7" cy="87.6" r="0.7" fill="#ccbf52"/>
<circle cx="184.3" cy="77.4" r="0.7" fill="#c2b442"/>
<circle cx="198.1" cy="58.8" r="0.7" fill="#b6a838"/>
<circle cx="175.0" cy="66.0" r="0.7" fill="#b6a838"/>
<circle cx="178.1" cy="48.2" r="0.7" fill="#b6a838"/>
<circle cx="179.3" cy="67.4" r="0.7" fill="#c2b442"/>
<circle cx="186.1" cy="57.0" r="0.7" fill="#b6a838"/>
<circle cx="177.9" cy="70.2" r="0.7" fill="#b6a838"/>
<circle cx="196.6" cy="58.6" r="0.7" fill="#c2b442"/>
<circle cx="195.7" cy="57.4" r="0.7" fill="#c2b442"/>
<circle cx="188.6" cy="65.3" r="0.7" fill="#c2b442"/>
<circle cx="196.7" cy="64.7" r="0.7" fill="#c2b442"/>
<circle cx="177.8" cy="86.0" r="0.7" fill="#ccbf52"/>
<circle cx="175.0" cy="47.0" r="0.7" fill="#c2b442"/>
<circle cx="204.0" cy="55.3" r="0.7" fill="#b6a838"/>
<circle cx="185.3" cy="55.7" r="0.7" fill="#c2b442"/>
<circle cx="180.9" cy="60.6" r="0.7" fill="#ccbf52"/>
<circle cx="180.2" cy="83.7" r="0.7" fill="#ccbf52"/>
<circle cx="208.2" cy="59.6" r="0.7" fill="#ccbf52"/>
<circle cx="182.8" cy="49.7" r="0.7" fill="#ccbf52"/>
<circle cx="200.4" cy="62.3" r="0.7" fill="#b6a838"/>
<circle cx="184.0" cy="55.3" r="0.7" fill="#c2b442"/>
<circle cx="189.2" cy="56.4" r="0.7" fill="#ccbf52"/>
<circle cx="183.1" cy="71.2" r="0.7" fill="#b6a838"/>
<circle cx="185.1" cy="59.1" r="0.7" fill="#b6a838"/>
<circle cx="182.6" cy="61.3" r="0.7" fill="#ccbf52"/>
<circle cx="185.4" cy="66.6" r="0.7" fill="#c2b442"/>
<circle cx="176.3" cy="68.1" r="0.7" fill="#c2b442"/>
<circle cx="189.7" cy="69.2" r="0.7" fill="#b6a838"/>
<circle cx="186.4" cy="51.3" r="0.7" fill="#b6a838"/>
<circle cx="176.6" cy="72.0" r="0.7" fill="#b6a838"/>
<circle cx="190.9" cy="56.6" r="0.7" fill="#ccbf52"/>
<circle cx="182.9" cy="66.2" r="0.7" fill="#ccbf52"/>
<circle cx="199.0" cy="59.9" r="0.7" fill="#b6a838"/>
<circle cx="174.9" cy="65.7" r="0.7" fill="#c2b442"/>
<circle cx="181.8" cy="58.1" r="0.7" fill="#ccbf52"/>
<circle cx="190.0" cy="57.7" r="0.7" fill="#b6a838"/>
<circle cx="209.2" cy="59.9" r="0.7" fill="#c2b442"/>
<circle cx="197.2" cy="50.4" r="0.7" fill="#c2b442"/>
<circle cx="185.5" cy="58.1" r="0.7" fill="#c2b442"/>
<circle cx="175.9" cy="78.9" r="0.7" fill="#c2b442"/>
<circle cx="185.5" cy="72.4" r="0.7" fill="#ccbf52"/>
<circle cx="176.7" cy="70.6" r="0.7" fill="#b6a838"/>
<circle cx="204.3" cy="60.3" r="0.7" fill="#ccbf52"/>
<circle cx="187.2" cy="63.2" r="0.7" fill="#ccbf52"/>
<circle cx="174.7" cy="87.1" r="0.7" fill="#b6a838"/>
<circle cx="180.0" cy="83.0" r="0.7" fill="#b6a838"/>
<circle cx="204.5" cy="57.3" r="0.7" fill="#c2b442"/>
<circle cx="177.5" cy="58.6" r="0.7" fill="#c2b442"/>
<circle cx="183.7" cy="52.6" r="0.7" fill="#b6a838"/>
<circle cx="178.8" cy="84.6" r="0.7" fill="#c2b442"/>
<circle cx="177.4" cy="82.1" r="0.7" fill="#b6a838"/>
<circle cx="190.0" cy="53.0" r="0.7" fill="#b6a838"/>
<circle cx="180.6" cy="52.0" r="0.7" fill="#ccbf52"/>
<circle cx="178.4" cy="74.2" r="0.7" fill="#b6a838"/>
<circle cx="199.7" cy="60.3" r="0.7" fill="#b6a838"/>
<circle cx="182.4" cy="75.3" r="0.7" fill="#c2b442"/>
<circle cx="194.4" cy="62.6" r="0.7" fill="#ccbf52"/>
<circle cx="195.0" cy="50.6" r="0.7" fill="#ccbf52"/>
<circle cx="202.6" cy="57.9" r="0.7" fill="#c2b442"/>
<circle cx="177.9" cy="60.0" r="0.7" fill="#c2b442"/>
<circle cx="183.8" cy="66.6" r="0.7" fill="#ccbf52"/>
<circle cx="175.3" cy="56.1" r="0.7" fill="#b6a838"/>
<circle cx="194.2" cy="57.6" r="0.7" fill="#c2b442"/>
<circle cx="173.8" cy="82.0" r="0.7" fill="#c2b442"/>
<circle cx="186.9" cy="65.4" r="0.7" fill="#ccbf52"/>
<circle cx="178.7" cy="71.3" r="0.7" fill="#ccbf52"/>
<circle cx="177.6" cy="65.2" r="0.7" fill="#ccbf52"/>
<circle cx="180.3" cy="58.9" r="0.7" fill="#b6a838"/>
<circle cx="193.6" cy="56.7" r="0.7" fill="#c2b442"/>
<circle cx="192.7" cy="59.7" r="0.7" fill="#b6a838"/>
<circle cx="181.7" cy="62.2" r="0.7" fill="#ccbf52"/>
<circle cx="187.3" cy="63.7" r="0.7" fill="#ccbf52"/>
<circle cx="194.0" cy="52.7" r="0.7" fill="#b6a838"/>
<circle cx="182.4" cy="60.9" r="0.7" fill="#b6a838"/>
<circle cx="187.4" cy="59.4" r="0.7" fill="#b6a838"/>
<circle cx="182.8" cy="78.1" r="0.7" fill="#ccbf52"/>
<circle cx="194.8" cy="61.8" r="0.7" fill="#c2b442"/>
<circle cx="175.2" cy="54.9" r="0.7" fill="#c2b442"/>
<circle cx="174.0" cy="69.5" r="0.7" fill="#ccbf52"/>
<circle cx="186.5" cy="62.7" r="0.7" fill="#b6a838"/>
<circle cx="200.7" cy="62.0" r="0.7" fill="#ccbf52"/>
<circle cx="173.1" cy="62.3" r="0.7" fill="#c2b442"/>
<circle cx="181.4" cy="66.4" r="0.7" fill="#c2b442"/>
<circle cx="193.8" cy="62.1" r="0.7" fill="#c2b442"/>
<circle cx="191.8" cy="68.3" r="0.7" fill="#b6a838"/>
<circle cx="175.1" cy="51.4" r="0.7" fill="#b6a838"/>
<circle cx="181.9" cy="55.4" r="0.7" fill="#ccbf52"/>
<circle cx="198.6" cy="63.8" r="0.7" fill="#ccbf52"/>
<circle cx="171.5" cy="89.3" r="0.7" fill="#b6a838"/>
<circle cx="176.5" cy="86.4" r="0.7" fill="#ccbf52"/>
<circle cx="195.0" cy="66.2" r="0.7" fill="#b6a838"/>
<circle cx="176.9" cy="75.2" r="0.7" fill="#c2b442"/>
<circle cx="192.7" cy="57.4" r="0.7" fill="#b6a838"/>
<circle cx="179.6" cy="63.3" r="0.7" fill="#b6a838"/>
<circle cx="184.0" cy="54.6" r="0.7" fill="#ccbf52"/>
<circle cx="183.4" cy="65.7" r="0.7" fill="#b6a838"/>
<circle cx="174.9" cy="65.0" r="0.7" fill="#b6a838"/>
<circle cx="172.1" cy="87.4" r="0.7" fill="#b6a838"/>
<circle cx="179.3" cy="77.4" r="0.7" fill="#ccbf52"/>
<circle cx="178.3" cy="62.7" r="0.7" fill="#c2b442"/>
<circle cx="183.1" cy="77.5" r="0.7" fill="#b6a838"/>
<circle cx="176.8" cy="84.8" r="0.7" fill="#ccbf52"/>
<circle cx="202.5" cy="64.2" r="0.7" fill="#ccbf52"/>
<circle cx="186.4" cy="64.7" r="0.7" fill="#c2b442"/>
<circle cx="181.6" cy="48.4" r="0.7" fill="#b6a838"/>
<circle cx="176.1" cy="60.2" r="0.7" fill="#b6a838"/>
<circle cx="208.1" cy="61.9" r="0.7" fill="#ccbf52"/>
<circle cx="180.4" cy="56.2" r="0.7" fill="#c2b442"/>
<circle cx="190.6" cy="62.3" r="0.7" fill="#ccbf52"/>
<circle cx="190.3" cy="56.0" r="0.7" fill="#b6a838"/>
<circle cx="198.7" cy="59.2" r="0.7" fill="#b6a838"/>
<circle cx="199.2" cy="62.1" r="0.7" fill="#b6a838"/>
<circle cx="175.2" cy="52.9" r="0.7" fill="#b6a838"/>
<circle cx="182.4" cy="53.1" r="0.7" fill="#b6a838"/>
<circle cx="187.7" cy="58.8" r="0.7" fill="#b6a838"/>
<circle cx="198.9" cy="63.8" r="0.7" fill="#b6a838"/>
<circle cx="187.2" cy="52.2" r="0.7" fill="#ccbf52"/>
<circle cx="175.8" cy="58.7" r="0.7" fill="#b6a838"/>
<circle cx="169.5" cy="87.7" r="0.7" fill="#c2b442"/>
<circle cx="172.9" cy="83.1" r="0.7" fill="#b6a838"/>
<circle cx="179.5" cy="80.6" r="0.7" fill="#c2b442"/>
<circle cx="174.2" cy="81.4" r="0.7" fill="#b6a838"/>
<circle cx="178.1" cy="55.2" r="0.7" fill="#c2b442"/>
<circle cx="180.5" cy="63.1" r="0.7" fill="#c2b442"/>
<circle cx="205.5" cy="58.3" r="0.7" fill="#b6a838"/>
<circle cx="198.3" cy="56.5" r="0.7" fill="#ccbf52"/>
<circle cx="202.4" cy="60.3" r="0.7" fill="#ccbf52"/>
<circle cx="198.0" cy="64.2" r="0.7" fill="#ccbf52"/>
<circle cx="189.0" cy="63.8" r="0.7" fill="#ccbf52"/>
<circle cx="183.4" cy="56.8" r="0.7" fill="#c2b442"/>
<circle cx="183.0" cy="53.4" r="0.7" fill="#c2b442"/>
<circle cx="181.4" cy="61.5" r="0.7" fill="#ccbf52"/>
<circle cx="196.2" cy="59.9" r="0.7" fill="#ccbf52"/>
<circle cx="173.7" cy="60.5" r="0.7" fill="#b6a838"/>
<circle cx="175.8" cy="74.7" r="0.7" fill="#b6a838"/>
<circle cx="196.4" cy="66.3" r="0.7" fill="#b6a838"/>
<circle cx="173.3" cy="84.7" r="0.7" fill="#b6a838"/>
<circle cx="186.8" cy="68.1" r="0.7" fill="#ccbf52"/>
<circle cx="183.1" cy="55.6" r="0.7" fill="#b6a838"/>
<circle cx="174.7" cy="49.6" r="0.7" fill="#c2b442"/>
<circle cx="188.1" cy="53.7" r="0.7" fill="#ccbf52"/>
<circle cx="176.3" cy="59.5" r="0.7" fill="#ccbf52"/>
<circle cx="179.6" cy="79.3" r="0.7" fill="#c2b442"/>
<circle cx="184.0" cy="51.0" r="0.7" fill="#ccbf52"/>
<circle cx="175.7" cy="84.8" r="0.7" fill="#c2b442"/>
<circle cx="186.2" cy="58.8" r="0.7" fill="#b6a838"/>
<circle cx="183.2" cy="79.4" r="0.7" fill="#ccbf52"/>
<circle cx="178.4" cy="59.6" r="0.7" fill="#c2b442"/>
<circle cx="193.3" cy="58.1" r="0.7" fill="#ccbf52"/>
<circle cx="180.0" cy="54.2" r="0.7" fill="#ccbf52"/>
<circle cx="176.6" cy="48.7" r="0.7" fill="#ccbf52"/>
<circle cx="177.5" cy="65.2" r="0.7" fill="#c2b442"/>
<circle cx="179.9" cy="51.4" r="0.7" fill="#c2b442"/>
<circle cx="173.9" cy="61.4" r="0.7" fill="#ccbf52"/>
<circle cx="172.2" cy="89.9" r="0.7" fill="#ccbf52"/>
<circle cx="179.7" cy="78.3" r="0.7" fill="#ccbf52"/>
<circle cx="177.9" cy="68.8" r="0.7" fill="#c2b442"/>
<circle cx="198.5" cy="57.4" r="0.7" fill="#c2b442"/>
<circle cx="188.8" cy="68.3" r="0.7" fill="#c2b442"/>
<circle cx="189.0" cy="68.0" r="0.7" fill="#c2b442"/>
<circle cx="200.2" cy="63.1" r="0.7" fill="#ccbf52"/>
<circle cx="182.5" cy="61.2" r="0.7" fill="#ccbf52"/>
<circle cx="188.2" cy="70.2" r="0.7" fill="#ccbf52"/>
<circle cx="186.8" cy="67.1" r="0.7" fill="#c2b442"/>
<circle cx="202.8" cy="59.2" r="0.7" fill="#ccbf52"/>
<circle cx="186.1" cy="50.3" r="0.7" fill="#ccbf52"/>
<circle cx="190.0" cy="54.3" r="0.7" fill="#b6a838"/>
<circle cx="173.7" cy="49.6" r="0.7" fill="#c2b442"/>
<circle cx="177.4" cy="81.4" r="0.7" fill="#ccbf52"/>
<circle cx="197.5" cy="52.8" r="0.7" fill="#c2b442"/>
<circle cx="189.4" cy="57.2" r="0.7" fill="#b6a838"/>
<circle cx="184.6" cy="67.7" r="0.7" fill="#c2b442"/>
<circle cx="179.5" cy="62.2" r="0.7" fill="#c2b442"/>
<circle cx="196.8" cy="58.3" r="0.7" fill="#c2b442"/>
<circle cx="190.2" cy="62.1" r="0.7" fill="#ccbf52"/>
<circle cx="176.5" cy="79.8" r="0.7" fill="#c2b442"/>
<circle cx="171.1" cy="85.5" r="0.7" fill="#c2b442"/>
<circle cx="173.3" cy="81.5" r="0.7" fill="#b6a838"/>
<circle cx="176.3" cy="81.4" r="0.7" fill="#ccbf52"/>
<circle cx="175.6" cy="66.3" r="0.7" fill="#b6a838"/>
<circle cx="191.0" cy="60.1" r="0.7" fill="#ccbf52"/>
<circle cx="180.9" cy="76.2" r="0.7" fill="#c2b442"/>
<circle cx="195.3" cy="59.0" r="0.7" fill="#ccbf52"/>
<circle cx="184.1" cy="66.6" r="0.7" fill="#b6a838"/>
<circle cx="176.0" cy="61.6" r="0.7" fill="#c2b442"/>
<circle cx="175.0" cy="63.9" r="0.7" fill="#ccbf52"/>
<circle cx="173.5" cy="88.2" r="0.7" fill="#b6a838"/>
<circle cx="199.9" cy="56.1" r="0.7" fill="#c2b442"/>
<circle cx="194.1" cy="55.7" r="0.7" fill="#b6a838"/>
<circle cx="177.3" cy="72.8" r="0.7" fill="#c2b442"/>
<circle cx="190.8" cy="67.5" r="0.7" fill="#ccbf52"/>
<circle cx="184.7" cy="51.4" r="0.7" fill="#c2b442"/>
<circle cx="173.7" cy="47.5" r="0.7" fill="#b6a838"/>
<circle cx="199.5" cy="57.5" r="0.7" fill="#c2b442"/>
<circle cx="175.9" cy="73.2" r="0.7" fill="#c2b442"/>
<circle cx="203.9" cy="57.0" r="0.55" fill="#f7f3da"/>
<circle cx="182.3" cy="75.3" r="0.55" fill="#ffffff"/>
<circle cx="197.6" cy="64.2" r="0.55" fill="#ffffff"/>
<circle cx="174.9" cy="64.1" r="0.55" fill="#f7f3da"/>
<circle cx="179.3" cy="64.5" r="0.55" fill="#ffffff"/>
<circle cx="174.1" cy="70.3" r="0.55" fill="#f7f3da"/>
<circle cx="177.9" cy="48.3" r="0.55" fill="#ffffff"/>
<circle cx="184.4" cy="67.8" r="0.55" fill="#f7f3da"/>
<circle cx="185.9" cy="57.7" r="0.55" fill="#ffffff"/>
<circle cx="185.4" cy="60.9" r="0.55" fill="#ffffff"/>
<circle cx="173.7" cy="63.3" r="0.55" fill="#f7f3da"/>
<circle cx="206.8" cy="61.1" r="0.55" fill="#f7f3da"/>
<circle cx="178.8" cy="78.2" r="0.55" fill="#ffffff"/>
<circle cx="179.3" cy="62.7" r="0.55" fill="#f7f3da"/>
<circle cx="183.3" cy="53.8" r="0.55" fill="#f7f3da"/>
<circle cx="176.1" cy="51.1" r="0.55" fill="#f7f3da"/>
<circle cx="181.8" cy="55.6" r="0.55" fill="#f7f3da"/>
<circle cx="182.3" cy="51.4" r="0.55" fill="#ffffff"/>
<circle cx="202.9" cy="64.3" r="0.55" fill="#ffffff"/>
<circle cx="177.9" cy="81.8" r="0.55" fill="#ffffff"/>
<circle cx="178.9" cy="75.5" r="0.55" fill="#f7f3da"/>
<circle cx="201.1" cy="65.0" r="0.55" fill="#ffffff"/>
<circle cx="198.1" cy="51.5" r="0.55" fill="#ffffff"/>
<circle cx="193.3" cy="57.8" r="0.55" fill="#ffffff"/>
<circle cx="196.3" cy="54.8" r="0.55" fill="#ffffff"/>
<circle cx="181.2" cy="71.1" r="0.55" fill="#f7f3da"/>
<circle cx="176.7" cy="66.8" r="0.55" fill="#ffffff"/>
<circle cx="185.7" cy="57.6" r="0.55" fill="#f7f3da"/>
<circle cx="177.2" cy="65.1" r="0.55" fill="#f7f3da"/>
<circle cx="177.1" cy="49.0" r="0.55" fill="#f7f3da"/>
<circle cx="183.1" cy="77.7" r="0.55" fill="#f7f3da"/>
<circle cx="188.8" cy="65.0" r="0.55" fill="#f7f3da"/>
<circle cx="191.7" cy="51.7" r="0.55" fill="#f7f3da"/>
<circle cx="182.0" cy="79.1" r="0.55" fill="#ffffff"/>
<circle cx="188.3" cy="55.9" r="0.55" fill="#f7f3da"/>
<circle cx="189.2" cy="69.0" r="0.55" fill="#ffffff"/>
<circle cx="191.2" cy="59.5" r="0.55" fill="#ffffff"/>
<circle cx="175.5" cy="68.4" r="0.55" fill="#f7f3da"/>
<circle cx="182.8" cy="77.9" r="0.55" fill="#ffffff"/>
<circle cx="179.4" cy="51.9" r="0.55" fill="#f7f3da"/>
<circle cx="190.1" cy="68.4" r="0.55" fill="#ffffff"/>
<circle cx="193.2" cy="66.4" r="0.55" fill="#ffffff"/>
<circle cx="187.5" cy="67.4" r="0.55" fill="#f7f3da"/>
<circle cx="202.6" cy="55.0" r="0.55" fill="#f7f3da"/>
<circle cx="183.4" cy="69.6" r="0.55" fill="#ffffff"/>
<circle cx="201.5" cy="57.1" r="0.55" fill="#ffffff"/>
<circle cx="188.0" cy="65.9" r="0.55" fill="#f7f3da"/>
<circle cx="189.0" cy="69.6" r="0.55" fill="#f7f3da"/>
<circle cx="175.8" cy="72.1" r="0.55" fill="#f7f3da"/>
<circle cx="176.9" cy="68.2" r="0.55" fill="#f7f3da"/>
<circle cx="203.2" cy="61.7" r="0.55" fill="#f7f3da"/>
<circle cx="176.1" cy="79.2" r="0.55" fill="#f7f3da"/>
<circle cx="190.4" cy="62.9" r="0.55" fill="#ffffff"/>
<circle cx="199.3" cy="57.4" r="0.55" fill="#ffffff"/>
<circle cx="177.9" cy="80.1" r="0.55" fill="#ffffff"/>
<circle cx="195.0" cy="54.0" r="0.55" fill="#f7f3da"/>
<circle cx="178.3" cy="79.9" r="0.55" fill="#ffffff"/>
<circle cx="199.8" cy="55.0" r="0.55" fill="#ffffff"/>
<circle cx="181.4" cy="72.2" r="0.55" fill="#ffffff"/>
<circle cx="181.6" cy="61.6" r="0.55" fill="#ffffff"/>
<circle cx="180.3" cy="53.8" r="0.55" fill="#f7f3da"/>
<circle cx="183.9" cy="48.9" r="0.55" fill="#f7f3da"/>
<circle cx="201.7" cy="64.2" r="0.55" fill="#ffffff"/>
<circle cx="185.1" cy="68.6" r="0.55" fill="#ffffff"/>
<circle cx="180.0" cy="58.1" r="0.55" fill="#f7f3da"/>
<circle cx="176.3" cy="87.3" r="0.55" fill="#ffffff"/>
<circle cx="179.3" cy="60.6" r="0.55" fill="#ffffff"/>
<circle cx="198.6" cy="61.9" r="0.55" fill="#f7f3da"/>
<circle cx="187.4" cy="73.1" r="0.55" fill="#f7f3da"/>
<circle cx="180.3" cy="56.6" r="0.55" fill="#f7f3da"/>
<circle cx="184.1" cy="66.3" r="0.55" fill="#ffffff"/>
<circle cx="178.5" cy="60.4" r="0.55" fill="#f7f3da"/>
<circle cx="189.4" cy="65.4" r="0.55" fill="#f7f3da"/>
<circle cx="192.4" cy="60.7" r="0.55" fill="#ffffff"/>
<circle cx="202.8" cy="56.9" r="0.55" fill="#f7f3da"/>
<circle cx="172.2" cy="83.6" r="0.55" fill="#f7f3da"/>
<circle cx="178.2" cy="57.9" r="0.55" fill="#ffffff"/>
<circle cx="179.9" cy="64.0" r="0.55" fill="#f7f3da"/>
<circle cx="171.8" cy="85.4" r="0.55" fill="#f7f3da"/>
<circle cx="183.6" cy="61.6" r="0.55" fill="#f7f3da"/>
<circle cx="178.1" cy="79.8" r="0.55" fill="#f7f3da"/>
<circle cx="186.4" cy="63.7" r="0.55" fill="#ffffff"/>
<circle cx="179.0" cy="80.7" r="0.55" fill="#ffffff"/>
<circle cx="185.3" cy="75.3" r="0.55" fill="#ffffff"/>
<circle cx="187.6" cy="66.5" r="0.55" fill="#ffffff"/>
<circle cx="179.8" cy="55.7" r="0.55" fill="#f7f3da"/>
<circle cx="196.8" cy="60.0" r="0.55" fill="#f7f3da"/>
<circle cx="181.7" cy="67.3" r="0.55" fill="#f7f3da"/>
<circle cx="194.3" cy="54.5" r="0.55" fill="#ffffff"/>
<circle cx="189.1" cy="60.6" r="0.55" fill="#ffffff"/>
<circle cx="193.5" cy="64.9" r="0.55" fill="#ffffff"/>
<circle cx="174.1" cy="87.8" r="0.55" fill="#f7f3da"/>
<circle cx="191.9" cy="65.0" r="0.55" fill="#f7f3da"/>
<circle cx="173.3" cy="52.8" r="0.55" fill="#ffffff"/>
<circle cx="204.6" cy="61.3" r="0.55" fill="#ffffff"/>
<circle cx="190.7" cy="67.4" r="0.55" fill="#f7f3da"/>
<circle cx="188.3" cy="63.4" r="0.55" fill="#ffffff"/>
<circle cx="202.1" cy="53.8" r="0.55" fill="#ffffff"/>
<circle cx="195.0" cy="60.0" r="0.55" fill="#f7f3da"/>
<circle cx="187.1" cy="63.1" r="0.55" fill="#ffffff"/>
<circle cx="179.8" cy="83.2" r="0.55" fill="#f7f3da"/>
<circle cx="180.1" cy="63.7" r="0.55" fill="#ffffff"/>
<circle cx="176.0" cy="56.4" r="0.55" fill="#ffffff"/>
<circle cx="197.0" cy="51.1" r="0.55" fill="#f7f3da"/>
<circle cx="197.2" cy="59.0" r="0.55" fill="#f7f3da"/>
<circle cx="196.2" cy="63.2" r="0.55" fill="#f7f3da"/>
<circle cx="178.5" cy="58.5" r="0.55" fill="#f7f3da"/>
<circle cx="171.9" cy="83.4" r="0.55" fill="#f7f3da"/>
<circle cx="175.0" cy="51.7" r="0.55" fill="#ffffff"/>
<circle cx="177.5" cy="50.8" r="0.55" fill="#f7f3da"/>
<circle cx="177.6" cy="72.6" r="0.55" fill="#f7f3da"/>
<circle cx="183.9" cy="59.5" r="0.55" fill="#f7f3da"/>
<circle cx="193.3" cy="62.5" r="0.55" fill="#ffffff"/>
<circle cx="178.0" cy="80.9" r="0.55" fill="#ffffff"/>
<circle cx="190.7" cy="63.6" r="0.55" fill="#f7f3da"/>
<circle cx="192.4" cy="62.6" r="0.55" fill="#ffffff"/>
<circle cx="179.2" cy="67.5" r="0.55" fill="#ffffff"/>
<circle cx="181.8" cy="62.2" r="0.55" fill="#f7f3da"/>
<circle cx="187.2" cy="64.2" r="0.55" fill="#ffffff"/>
<circle cx="190.4" cy="56.4" r="0.55" fill="#ffffff"/>
<circle cx="182.7" cy="51.8" r="0.55" fill="#ffffff"/>
<circle cx="184.5" cy="74.8" r="0.55" fill="#ffffff"/>
<circle cx="194.7" cy="63.6" r="0.55" fill="#ffffff"/>
<circle cx="196.6" cy="61.2" r="0.55" fill="#ffffff"/>
<circle cx="195.1" cy="67.6" r="0.55" fill="#ffffff"/>
<circle cx="198.3" cy="61.4" r="0.55" fill="#ffffff"/>
<circle cx="183.7" cy="49.9" r="0.55" fill="#ffffff"/>
<circle cx="192.7" cy="67.9" r="0.55" fill="#f7f3da"/>
<circle cx="191.4" cy="65.3" r="0.55" fill="#f7f3da"/>
<circle cx="204.9" cy="60.1" r="0.55" fill="#f7f3da"/>
<circle cx="186.0" cy="62.2" r="0.55" fill="#f7f3da"/>
<circle cx="175.8" cy="50.0" r="0.55" fill="#ffffff"/>
<circle cx="175.0" cy="71.5" r="0.55" fill="#ffffff"/>
<circle cx="196.0" cy="56.3" r="0.55" fill="#f7f3da"/>
<circle cx="183.2" cy="72.9" r="0.55" fill="#ffffff"/>
<circle cx="174.0" cy="61.9" r="0.55" fill="#ffffff"/>
<circle cx="180.5" cy="69.2" r="0.55" fill="#ffffff"/>
<circle cx="200.8" cy="53.3" r="0.55" fill="#f7f3da"/>
<circle cx="176.3" cy="80.8" r="0.55" fill="#ffffff"/>
<circle cx="199.6" cy="64.1" r="0.55" fill="#f7f3da"/>
<circle cx="174.5" cy="55.0" r="0.55" fill="#f7f3da"/>
<circle cx="177.6" cy="77.4" r="0.55" fill="#f7f3da"/>
<circle cx="181.7" cy="58.8" r="0.55" fill="#ffffff"/>
<circle cx="178.5" cy="62.0" r="0.55" fill="#ffffff"/>
<circle cx="176.8" cy="64.0" r="0.55" fill="#ffffff"/>
<circle cx="193.2" cy="68.7" r="0.55" fill="#f7f3da"/>
<circle cx="180.8" cy="80.3" r="0.55" fill="#f7f3da"/>
<circle cx="177.1" cy="78.6" r="0.55" fill="#f7f3da"/>
<circle cx="182.3" cy="69.0" r="0.55" fill="#ffffff"/>
<circle cx="175.4" cy="68.2" r="0.55" fill="#ffffff"/>
<circle cx="203.7" cy="56.3" r="0.55" fill="#f7f3da"/>
<circle cx="186.3" cy="70.6" r="0.55" fill="#f7f3da"/>
<circle cx="180.5" cy="81.4" r="0.55" fill="#f7f3da"/>
<circle cx="187.3" cy="54.3" r="0.55" fill="#f7f3da"/>
<circle cx="184.2" cy="73.1" r="0.55" fill="#ffffff"/>
<circle cx="175.0" cy="56.2" r="0.55" fill="#f7f3da"/>
<circle cx="175.5" cy="66.4" r="0.55" fill="#f7f3da"/>
<circle cx="187.5" cy="53.8" r="0.55" fill="#f7f3da"/>
<circle cx="200.1" cy="58.1" r="0.55" fill="#f7f3da"/>
<circle cx="187.2" cy="66.3" r="0.55" fill="#f7f3da"/>
<circle cx="178.8" cy="66.5" r="0.55" fill="#ffffff"/>
<circle cx="208.2" cy="60.1" r="0.55" fill="#f7f3da"/>
<circle cx="181.5" cy="72.2" r="0.55" fill="#f7f3da"/>
<circle cx="207.4" cy="62.8" r="0.55" fill="#ffffff"/>
<circle cx="187.6" cy="58.3" r="0.55" fill="#ffffff"/>
<circle cx="181.9" cy="80.8" r="0.55" fill="#ffffff"/>
<circle cx="196.5" cy="63.1" r="0.55" fill="#ffffff"/>
<circle cx="196.4" cy="53.9" r="0.55" fill="#f7f3da"/>
<circle cx="180.8" cy="71.5" r="0.55" fill="#f7f3da"/>
<circle cx="195.5" cy="65.1" r="0.55" fill="#f7f3da"/>
<polygon points="168.3,86.9 170.5,89.8 168.3,94.6 167.3,100.4 165.4,107.1 161.5,112.4 156.7,113.9 155.3,108.1 157.7,101.4 161.5,94.6 165.4,89.8" fill="#46a850"/>
<circle cx="166.5" cy="93.5" r="0.7" fill="#1f8a2c"/>
<circle cx="163.2" cy="105.3" r="0.7" fill="#1f8a2c"/>
<circle cx="163.9" cy="108.3" r="0.7" fill="#3aa846"/>
<circle cx="165.3" cy="92.0" r="0.7" fill="#1f8a2c"/>
<circle cx="157.9" cy="112.7" r="0.7" fill="#3aa846"/>
<circle cx="158.4" cy="113.2" r="0.7" fill="#1f8a2c"/>
<circle cx="159.9" cy="110.8" r="0.7" fill="#3aa846"/>
<circle cx="164.1" cy="108.1" r="0.7" fill="#3aa846"/>
<circle cx="161.9" cy="101.0" r="0.7" fill="#2b9a38"/>
<circle cx="166.2" cy="90.5" r="0.7" fill="#3aa846"/>
<circle cx="164.9" cy="102.7" r="0.7" fill="#3aa846"/>
<circle cx="156.1" cy="110.8" r="0.7" fill="#1f8a2c"/>
<circle cx="157.9" cy="111.8" r="0.7" fill="#2b9a38"/>
<circle cx="161.0" cy="110.1" r="0.7" fill="#3aa846"/>
<circle cx="157.2" cy="107.0" r="0.7" fill="#3aa846"/>
<circle cx="164.9" cy="92.2" r="0.7" fill="#2b9a38"/>
<circle cx="168.5" cy="88.3" r="0.7" fill="#2b9a38"/>
<circle cx="169.4" cy="91.7" r="0.7" fill="#2b9a38"/>
<circle cx="157.4" cy="103.4" r="0.7" fill="#2b9a38"/>
<circle cx="156.6" cy="110.5" r="0.7" fill="#3aa846"/>
<circle cx="166.6" cy="99.9" r="0.7" fill="#3aa846"/>
<circle cx="161.7" cy="101.7" r="0.7" fill="#2b9a38"/>
<circle cx="157.8" cy="105.1" r="0.7" fill="#2b9a38"/>
<circle cx="168.4" cy="87.6" r="0.7" fill="#2b9a38"/>
<circle cx="160.6" cy="112.3" r="0.7" fill="#1f8a2c"/>
<circle cx="162.9" cy="96.8" r="0.7" fill="#2b9a38"/>
<circle cx="164.5" cy="91.7" r="0.7" fill="#3aa846"/>
<circle cx="164.4" cy="104.0" r="0.7" fill="#1f8a2c"/>
<circle cx="162.2" cy="99.4" r="0.7" fill="#3aa846"/>
<circle cx="168.6" cy="90.9" r="0.7" fill="#3aa846"/>
<circle cx="164.1" cy="105.3" r="0.7" fill="#3aa846"/>
<circle cx="157.0" cy="111.2" r="0.7" fill="#3aa846"/>
<circle cx="163.9" cy="102.2" r="0.7" fill="#1f8a2c"/>
<circle cx="159.3" cy="105.2" r="0.7" fill="#2b9a38"/>
<circle cx="158.4" cy="111.5" r="0.7" fill="#2b9a38"/>
<circle cx="165.7" cy="94.1" r="0.7" fill="#2b9a38"/>
<circle cx="157.4" cy="111.4" r="0.7" fill="#1f8a2c"/>
<circle cx="164.0" cy="103.1" r="0.7" fill="#1f8a2c"/>
<circle cx="162.9" cy="99.5" r="0.7" fill="#3aa846"/>
<circle cx="165.6" cy="90.5" r="0.7" fill="#1f8a2c"/>
<circle cx="161.5" cy="102.4" r="0.7" fill="#2b9a38"/>
<circle cx="164.4" cy="94.7" r="0.7" fill="#3aa846"/>
<circle cx="165.3" cy="99.4" r="0.7" fill="#1f8a2c"/>
<circle cx="169.1" cy="88.9" r="0.7" fill="#2b9a38"/>
<circle cx="169.9" cy="90.2" r="0.7" fill="#3aa846"/>
<circle cx="162.9" cy="107.4" r="0.7" fill="#2b9a38"/>
<circle cx="168.7" cy="92.0" r="0.7" fill="#1f8a2c"/>
<circle cx="166.2" cy="98.4" r="0.7" fill="#2b9a38"/>
<circle cx="162.8" cy="103.0" r="0.7" fill="#2b9a38"/>
<circle cx="165.4" cy="99.4" r="0.7" fill="#2b9a38"/>
<circle cx="157.7" cy="107.9" r="0.7" fill="#2b9a38"/>
<circle cx="159.5" cy="107.3" r="0.7" fill="#1f8a2c"/>
<circle cx="164.9" cy="100.6" r="0.7" fill="#2b9a38"/>
<circle cx="159.9" cy="105.6" r="0.7" fill="#3aa846"/>
<circle cx="162.4" cy="107.6" r="0.7" fill="#3aa846"/>
<circle cx="159.7" cy="109.3" r="0.7" fill="#1f8a2c"/>
<circle cx="157.0" cy="105.9" r="0.7" fill="#1f8a2c"/>
<circle cx="158.6" cy="104.2" r="0.7" fill="#3aa846"/>
<circle cx="163.0" cy="93.9" r="0.7" fill="#1f8a2c"/>
<circle cx="158.8" cy="109.7" r="0.7" fill="#1f8a2c"/>
<circle cx="159.1" cy="103.9" r="0.7" fill="#2b9a38"/>
<circle cx="162.3" cy="97.3" r="0.7" fill="#3aa846"/>
<circle cx="160.5" cy="108.5" r="0.7" fill="#2b9a38"/>
<circle cx="167.3" cy="97.8" r="0.7" fill="#3aa846"/>
<circle cx="161.3" cy="103.6" r="0.7" fill="#2b9a38"/>
<circle cx="158.3" cy="102.0" r="0.7" fill="#2b9a38"/>
<circle cx="166.8" cy="93.7" r="0.7" fill="#3aa846"/>
<circle cx="163.9" cy="101.9" r="0.7" fill="#2b9a38"/>
<circle cx="161.1" cy="96.0" r="0.7" fill="#2b9a38"/>
<circle cx="162.0" cy="103.9" r="0.7" fill="#1f8a2c"/>
<circle cx="161.4" cy="98.3" r="0.7" fill="#1f8a2c"/>
<circle cx="164.4" cy="106.3" r="0.7" fill="#3aa846"/>
<circle cx="165.7" cy="90.4" r="0.7" fill="#3aa846"/>
<circle cx="165.8" cy="101.2" r="0.7" fill="#2b9a38"/>
<circle cx="156.4" cy="112.4" r="0.7" fill="#2b9a38"/>
<circle cx="155.6" cy="108.7" r="0.7" fill="#2b9a38"/>
<circle cx="157.6" cy="113.0" r="0.7" fill="#2b9a38"/>
<circle cx="164.8" cy="91.4" r="0.7" fill="#1f8a2c"/>
<circle cx="166.2" cy="103.1" r="0.7" fill="#2b9a38"/>
<circle cx="163.3" cy="101.8" r="0.7" fill="#3aa846"/>
<circle cx="158.8" cy="102.4" r="0.7" fill="#1f8a2c"/>
<circle cx="162.7" cy="109.3" r="0.7" fill="#1f8a2c"/>
<circle cx="162.6" cy="106.5" r="0.7" fill="#1f8a2c"/>
<circle cx="166.0" cy="102.1" r="0.7" fill="#3aa846"/>
<circle cx="165.3" cy="94.5" r="0.7" fill="#1f8a2c"/>
<circle cx="156.3" cy="109.2" r="0.7" fill="#2b9a38"/>
<circle cx="164.8" cy="105.3" r="0.7" fill="#3aa846"/>
<circle cx="159.6" cy="112.7" r="0.7" fill="#3aa846"/>
<circle cx="159.6" cy="101.3" r="0.7" fill="#1f8a2c"/>
<circle cx="170.2" cy="89.9" r="0.7" fill="#3aa846"/>
<circle cx="164.5" cy="104.2" r="0.7" fill="#3aa846"/>
<circle cx="163.5" cy="107.1" r="0.7" fill="#2b9a38"/>
<circle cx="156.4" cy="109.5" r="0.7" fill="#2b9a38"/>
<circle cx="162.1" cy="99.5" r="0.7" fill="#1f8a2c"/>
<circle cx="168.1" cy="90.7" r="0.7" fill="#2b9a38"/>
<circle cx="158.6" cy="101.1" r="0.7" fill="#1f8a2c"/>
<circle cx="161.2" cy="106.0" r="0.7" fill="#3aa846"/>
<circle cx="163.2" cy="98.2" r="0.7" fill="#2b9a38"/>
<circle cx="159.7" cy="106.5" r="0.7" fill="#1f8a2c"/>
<circle cx="165.9" cy="103.5" r="0.7" fill="#2b9a38"/>
<circle cx="168.3" cy="87.2" r="0.7" fill="#2b9a38"/>
<circle cx="159.1" cy="103.5" r="0.7" fill="#3aa846"/>
<circle cx="167.2" cy="98.5" r="0.7" fill="#3aa846"/>
<circle cx="164.6" cy="100.6" r="0.7" fill="#2b9a38"/>
<circle cx="162.1" cy="105.9" r="0.7" fill="#1f8a2c"/>
<circle cx="164.6" cy="96.9" r="0.7" fill="#3aa846"/>
<circle cx="160.9" cy="108.1" r="0.7" fill="#1f8a2c"/>
<circle cx="157.5" cy="102.9" r="0.7" fill="#1f8a2c"/>
<circle cx="159.2" cy="99.5" r="0.7" fill="#1f8a2c"/>
<circle cx="163.6" cy="106.1" r="0.7" fill="#1f8a2c"/>
<circle cx="168.8" cy="90.3" r="0.55" fill="#d6eed8"/>
<circle cx="159.0" cy="106.7" r="0.55" fill="#ffffff"/>
<circle cx="161.5" cy="108.6" r="0.55" fill="#ffffff"/>
<circle cx="162.3" cy="106.8" r="0.55" fill="#ffffff"/>
<circle cx="162.0" cy="106.2" r="0.55" fill="#ffffff"/>
<circle cx="166.2" cy="94.9" r="0.55" fill="#d6eed8"/>
<circle cx="161.1" cy="102.8" r="0.55" fill="#ffffff"/>
<circle cx="165.2" cy="92.4" r="0.55" fill="#ffffff"/>
<circle cx="164.1" cy="98.2" r="0.55" fill="#ffffff"/>
<circle cx="163.4" cy="100.0" r="0.55" fill="#d6eed8"/>
<circle cx="165.0" cy="94.2" r="0.55" fill="#d6eed8"/>
<circle cx="169.0" cy="90.6" r="0.55" fill="#ffffff"/>
<circle cx="157.0" cy="108.6" r="0.55" fill="#ffffff"/>
<circle cx="159.7" cy="111.6" r="0.55" fill="#d6eed8"/>
<circle cx="166.1" cy="96.0" r="0.55" fill="#d6eed8"/>
<circle cx="165.8" cy="98.0" r="0.55" fill="#ffffff"/>
<circle cx="164.0" cy="96.5" r="0.55" fill="#d6eed8"/>
<circle cx="156.4" cy="112.1" r="0.55" fill="#d6eed8"/>
<circle cx="166.6" cy="92.6" r="0.55" fill="#d6eed8"/>
<circle cx="158.3" cy="110.0" r="0.55" fill="#ffffff"/>
<circle cx="160.4" cy="103.2" r="0.55" fill="#ffffff"/>
<circle cx="157.7" cy="111.2" r="0.55" fill="#ffffff"/>
<circle cx="166.6" cy="90.5" r="0.55" fill="#d6eed8"/>
<circle cx="162.2" cy="103.0" r="0.55" fill="#d6eed8"/>
<circle cx="158.6" cy="100.1" r="0.55" fill="#ffffff"/>
<circle cx="155.6" cy="109.3" r="0.55" fill="#d6eed8"/>
<circle cx="160.4" cy="98.4" r="0.55" fill="#d6eed8"/>
<circle cx="163.8" cy="93.3" r="0.55" fill="#d6eed8"/>
<circle cx="165.6" cy="103.9" r="0.55" fill="#d6eed8"/>
<circle cx="161.8" cy="103.2" r="0.55" fill="#ffffff"/>
<polygon points="181.5,59.2 185.5,57.2 188.0,62.2 185.5,68.2 182.0,67.2" fill="#fbfbf2"/>
<polygon points="194.5,56.2 197.5,55.2 198.5,59.2 195.5,60.2" fill="#fbfbf2"/>
<rect x="218.50" y="37.50" width="90" height="80" fill="#fff" stroke="#2a2a2a" stroke-width="1.05"/>
<polygon points="223.2,62.2 230.1,51.8 238.8,45.7 247.4,43.1 257.8,41.4 269.9,46.6 268.8,57.2 266.5,70.8 257.8,70.8 252.6,65.6 248.3,61.7 244.6,60.7 240.5,64.2 235.3,67.4 226.7,67.4" fill="#d9e9b2"/>
<circle cx="233.8" cy="57.5" r="0.7" fill="#c9dd94"/>
<circle cx="266.8" cy="55.3" r="0.7" fill="#b7d07a"/>
<circle cx="263.0" cy="48.5" r="0.7" fill="#c0d783"/>
<circle cx="231.5" cy="62.9" r="0.7" fill="#b7d07a"/>
<circle cx="262.9" cy="55.4" r="0.7" fill="#b7d07a"/>
<circle cx="264.1" cy="47.7" r="0.7" fill="#c0d783"/>
<circle cx="264.5" cy="56.8" r="0.7" fill="#b7d07a"/>
<circle cx="262.3" cy="48.9" r="0.7" fill="#b7d07a"/>
<circle cx="257.2" cy="68.0" r="0.7" fill="#b7d07a"/>
<circle cx="260.6" cy="53.8" r="0.7" fill="#b7d07a"/>
<circle cx="261.2" cy="54.4" r="0.7" fill="#c0d783"/>
<circle cx="252.7" cy="49.9" r="0.7" fill="#b7d07a"/>
<circle cx="262.8" cy="58.4" r="0.7" fill="#b7d07a"/>
<circle cx="250.7" cy="58.7" r="0.7" fill="#c9dd94"/>
<circle cx="254.9" cy="45.5" r="0.7" fill="#c9dd94"/>
<circle cx="249.9" cy="62.8" r="0.7" fill="#c0d783"/>
<circle cx="245.7" cy="60.5" r="0.7" fill="#c9dd94"/>
<circle cx="226.5" cy="65.5" r="0.7" fill="#c9dd94"/>
<circle cx="243.0" cy="53.4" r="0.7" fill="#c0d783"/>
<circle cx="224.4" cy="63.0" r="0.7" fill="#c9dd94"/>
<circle cx="227.5" cy="57.2" r="0.7" fill="#c0d783"/>
<circle cx="269.5" cy="49.6" r="0.7" fill="#c9dd94"/>
<circle cx="264.5" cy="50.3" r="0.7" fill="#c0d783"/>
<circle cx="265.9" cy="52.3" r="0.7" fill="#c9dd94"/>
<circle cx="264.6" cy="52.5" r="0.7" fill="#b7d07a"/>
<circle cx="255.4" cy="43.6" r="0.7" fill="#b7d07a"/>
<circle cx="235.4" cy="60.3" r="0.7" fill="#b7d07a"/>
<circle cx="233.8" cy="49.9" r="0.7" fill="#c9dd94"/>
<circle cx="247.6" cy="57.6" r="0.7" fill="#c0d783"/>
<circle cx="237.5" cy="52.2" r="0.7" fill="#b7d07a"/>
<circle cx="253.0" cy="42.3" r="0.7" fill="#b7d07a"/>
<circle cx="238.4" cy="51.5" r="0.7" fill="#c9dd94"/>
<circle cx="251.9" cy="49.2" r="0.7" fill="#c9dd94"/>
<circle cx="234.4" cy="54.7" r="0.7" fill="#b7d07a"/>
<circle cx="251.5" cy="46.0" r="0.7" fill="#c0d783"/>
<circle cx="237.4" cy="52.0" r="0.7" fill="#b7d07a"/>
<circle cx="235.1" cy="65.1" r="0.7" fill="#c0d783"/>
<circle cx="237.3" cy="47.4" r="0.7" fill="#c9dd94"/>
<circle cx="244.2" cy="47.5" r="0.7" fill="#c0d783"/>
<circle cx="226.4" cy="59.8" r="0.7" fill="#b7d07a"/>
<circle cx="260.9" cy="48.9" r="0.7" fill="#c9dd94"/>
<circle cx="253.1" cy="49.5" r="0.7" fill="#b7d07a"/>
<circle cx="233.0" cy="63.8" r="0.7" fill="#b7d07a"/>
<circle cx="258.6" cy="70.6" r="0.7" fill="#b7d07a"/>
<circle cx="238.8" cy="47.5" r="0.7" fill="#c0d783"/>
<circle cx="247.1" cy="46.6" r="0.7" fill="#c9dd94"/>
<circle cx="258.5" cy="45.8" r="0.7" fill="#c9dd94"/>
<circle cx="245.9" cy="58.3" r="0.7" fill="#c9dd94"/>
<circle cx="235.3" cy="57.0" r="0.7" fill="#c9dd94"/>
<circle cx="262.1" cy="67.3" r="0.7" fill="#c0d783"/>
<circle cx="256.9" cy="56.6" r="0.7" fill="#c9dd94"/>
<circle cx="237.6" cy="50.3" r="0.7" fill="#c9dd94"/>
<circle cx="241.0" cy="52.6" r="0.7" fill="#c9dd94"/>
<circle cx="239.8" cy="46.4" r="0.7" fill="#c9dd94"/>
<circle cx="243.1" cy="44.4" r="0.7" fill="#c0d783"/>
<circle cx="257.1" cy="52.3" r="0.7" fill="#c0d783"/>
<circle cx="248.6" cy="60.4" r="0.7" fill="#c0d783"/>
<circle cx="252.5" cy="54.0" r="0.7" fill="#c9dd94"/>
<circle cx="252.8" cy="64.3" r="0.7" fill="#c9dd94"/>
<circle cx="242.7" cy="62.2" r="0.7" fill="#c9dd94"/>
<circle cx="235.4" cy="58.9" r="0.7" fill="#c9dd94"/>
<circle cx="257.8" cy="67.1" r="0.7" fill="#b7d07a"/>
<circle cx="260.8" cy="61.4" r="0.7" fill="#b7d07a"/>
<circle cx="237.7" cy="57.1" r="0.7" fill="#b7d07a"/>
<circle cx="257.1" cy="55.3" r="0.7" fill="#c0d783"/>
<circle cx="265.1" cy="46.0" r="0.7" fill="#c0d783"/>
<circle cx="236.1" cy="49.8" r="0.7" fill="#c0d783"/>
<circle cx="227.4" cy="63.9" r="0.7" fill="#b7d07a"/>
<circle cx="234.4" cy="59.7" r="0.7" fill="#c9dd94"/>
<circle cx="234.5" cy="59.2" r="0.7" fill="#c9dd94"/>
<circle cx="240.5" cy="47.8" r="0.7" fill="#c9dd94"/>
<circle cx="263.3" cy="70.8" r="0.7" fill="#c9dd94"/>
<circle cx="255.8" cy="64.1" r="0.7" fill="#b7d07a"/>
<circle cx="267.2" cy="61.9" r="0.7" fill="#c0d783"/>
<circle cx="258.6" cy="69.2" r="0.7" fill="#b7d07a"/>
<circle cx="268.5" cy="58.8" r="0.7" fill="#c0d783"/>
<circle cx="228.8" cy="64.0" r="0.7" fill="#c0d783"/>
<circle cx="250.7" cy="50.3" r="0.7" fill="#c0d783"/>
<circle cx="263.7" cy="57.3" r="0.7" fill="#c9dd94"/>
<circle cx="254.9" cy="67.3" r="0.7" fill="#b7d07a"/>
<circle cx="263.8" cy="58.8" r="0.7" fill="#c9dd94"/>
<circle cx="265.5" cy="50.0" r="0.7" fill="#c9dd94"/>
<circle cx="245.6" cy="52.4" r="0.7" fill="#c0d783"/>
<circle cx="250.0" cy="47.9" r="0.7" fill="#c9dd94"/>
<circle cx="259.9" cy="44.9" r="0.7" fill="#b7d07a"/>
<circle cx="245.6" cy="59.2" r="0.7" fill="#c9dd94"/>
<circle cx="266.6" cy="68.4" r="0.7" fill="#b7d07a"/>
<circle cx="257.2" cy="61.6" r="0.7" fill="#c0d783"/>
<circle cx="263.8" cy="48.0" r="0.7" fill="#c0d783"/>
<circle cx="260.0" cy="44.7" r="0.7" fill="#b7d07a"/>
<circle cx="256.5" cy="67.4" r="0.7" fill="#c9dd94"/>
<circle cx="261.1" cy="44.1" r="0.7" fill="#c9dd94"/>
<circle cx="262.8" cy="49.6" r="0.7" fill="#c9dd94"/>
<circle cx="238.3" cy="52.3" r="0.7" fill="#c0d783"/>
<circle cx="232.4" cy="58.8" r="0.7" fill="#c9dd94"/>
<circle cx="241.2" cy="57.5" r="0.7" fill="#c0d783"/>
<circle cx="243.3" cy="54.2" r="0.7" fill="#b7d07a"/>
<circle cx="268.0" cy="52.2" r="0.7" fill="#c9dd94"/>
<circle cx="259.1" cy="49.7" r="0.7" fill="#b7d07a"/>
<circle cx="262.0" cy="43.8" r="0.7" fill="#c9dd94"/>
<circle cx="255.0" cy="57.2" r="0.7" fill="#c0d783"/>
<circle cx="254.7" cy="56.4" r="0.7" fill="#c0d783"/>
<circle cx="257.2" cy="61.7" r="0.7" fill="#b7d07a"/>
<circle cx="258.3" cy="60.7" r="0.7" fill="#b7d07a"/>
<circle cx="252.9" cy="46.0" r="0.7" fill="#b7d07a"/>
<circle cx="253.6" cy="60.8" r="0.7" fill="#c9dd94"/>
<circle cx="249.2" cy="60.7" r="0.7" fill="#c9dd94"/>
<circle cx="256.6" cy="43.8" r="0.7" fill="#c0d783"/>
<circle cx="258.9" cy="57.5" r="0.7" fill="#b7d07a"/>
<circle cx="228.8" cy="55.4" r="0.7" fill="#c9dd94"/>
<circle cx="234.2" cy="64.5" r="0.7" fill="#c9dd94"/>
<circle cx="264.8" cy="70.1" r="0.7" fill="#c9dd94"/>
<circle cx="260.1" cy="63.2" r="0.7" fill="#c0d783"/>
<circle cx="256.2" cy="58.2" r="0.7" fill="#b7d07a"/>
<circle cx="258.4" cy="66.0" r="0.7" fill="#b7d07a"/>
<circle cx="228.5" cy="59.5" r="0.7" fill="#c9dd94"/>
<circle cx="261.1" cy="57.5" r="0.7" fill="#c0d783"/>
<circle cx="249.9" cy="46.7" r="0.7" fill="#c9dd94"/>
<circle cx="240.2" cy="49.6" r="0.7" fill="#c9dd94"/>
<circle cx="265.6" cy="70.2" r="0.7" fill="#c9dd94"/>
<circle cx="237.3" cy="56.0" r="0.7" fill="#b7d07a"/>
<circle cx="255.6" cy="49.8" r="0.7" fill="#b7d07a"/>
<circle cx="245.8" cy="59.3" r="0.7" fill="#b7d07a"/>
<circle cx="253.1" cy="43.8" r="0.7" fill="#b7d07a"/>
<circle cx="252.6" cy="46.6" r="0.7" fill="#b7d07a"/>
<circle cx="232.5" cy="65.9" r="0.7" fill="#b7d07a"/>
<circle cx="236.0" cy="61.0" r="0.7" fill="#c0d783"/>
<circle cx="228.8" cy="65.3" r="0.7" fill="#b7d07a"/>
<circle cx="252.3" cy="56.3" r="0.7" fill="#c9dd94"/>
<circle cx="256.0" cy="44.6" r="0.7" fill="#b7d07a"/>
<circle cx="256.2" cy="47.3" r="0.7" fill="#c9dd94"/>
<circle cx="230.0" cy="56.0" r="0.7" fill="#b7d07a"/>
<circle cx="232.3" cy="55.8" r="0.7" fill="#c0d783"/>
<circle cx="241.8" cy="46.1" r="0.7" fill="#c0d783"/>
<circle cx="257.2" cy="51.9" r="0.7" fill="#c9dd94"/>
<circle cx="244.0" cy="51.8" r="0.7" fill="#c9dd94"/>
<circle cx="232.4" cy="65.0" r="0.7" fill="#c0d783"/>
<circle cx="263.9" cy="57.2" r="0.7" fill="#c0d783"/>
<circle cx="241.9" cy="45.7" r="0.7" fill="#c0d783"/>
<circle cx="229.0" cy="59.5" r="0.7" fill="#c9dd94"/>
<circle cx="242.1" cy="62.5" r="0.7" fill="#c0d783"/>
<circle cx="265.2" cy="48.0" r="0.7" fill="#c9dd94"/>
<circle cx="245.3" cy="45.6" r="0.7" fill="#b7d07a"/>
<circle cx="252.3" cy="43.7" r="0.7" fill="#b7d07a"/>
<circle cx="263.6" cy="44.0" r="0.7" fill="#c9dd94"/>
<circle cx="248.9" cy="57.2" r="0.7" fill="#c9dd94"/>
<circle cx="230.7" cy="63.6" r="0.7" fill="#b7d07a"/>
<circle cx="239.7" cy="46.2" r="0.7" fill="#c9dd94"/>
<circle cx="243.6" cy="54.4" r="0.7" fill="#b7d07a"/>
<circle cx="245.6" cy="48.9" r="0.7" fill="#c0d783"/>
<circle cx="266.8" cy="62.3" r="0.7" fill="#c9dd94"/>
<circle cx="258.8" cy="66.2" r="0.7" fill="#c0d783"/>
<circle cx="259.1" cy="61.7" r="0.7" fill="#c0d783"/>
<circle cx="237.8" cy="59.3" r="0.7" fill="#b7d07a"/>
<circle cx="224.9" cy="59.6" r="0.7" fill="#c0d783"/>
<circle cx="257.9" cy="50.9" r="0.7" fill="#c9dd94"/>
<circle cx="260.5" cy="69.2" r="0.7" fill="#c9dd94"/>
<circle cx="249.9" cy="43.9" r="0.7" fill="#c0d783"/>
<circle cx="262.2" cy="47.0" r="0.7" fill="#b7d07a"/>
<circle cx="253.6" cy="58.8" r="0.7" fill="#c0d783"/>
<circle cx="232.4" cy="67.1" r="0.7" fill="#b7d07a"/>
<circle cx="248.3" cy="46.3" r="0.7" fill="#c0d783"/>
<circle cx="261.5" cy="59.2" r="0.7" fill="#c0d783"/>
<circle cx="233.0" cy="66.4" r="0.7" fill="#b7d07a"/>
<circle cx="254.8" cy="62.4" r="0.7" fill="#c9dd94"/>
<circle cx="251.6" cy="54.4" r="0.7" fill="#c0d783"/>
<circle cx="243.8" cy="52.3" r="0.7" fill="#c0d783"/>
<circle cx="248.5" cy="55.0" r="0.7" fill="#b7d07a"/>
<circle cx="253.5" cy="51.1" r="0.7" fill="#c0d783"/>
<circle cx="242.8" cy="60.8" r="0.7" fill="#b7d07a"/>
<circle cx="247.5" cy="48.2" r="0.7" fill="#c0d783"/>
<circle cx="238.5" cy="53.9" r="0.7" fill="#c0d783"/>
<circle cx="234.4" cy="50.5" r="0.7" fill="#b7d07a"/>
<circle cx="267.5" cy="63.2" r="0.7" fill="#b7d07a"/>
<circle cx="248.3" cy="53.5" r="0.7" fill="#c0d783"/>
<circle cx="266.2" cy="70.2" r="0.7" fill="#c9dd94"/>
<circle cx="245.1" cy="58.8" r="0.7" fill="#c0d783"/>
<circle cx="257.4" cy="49.6" r="0.7" fill="#b7d07a"/>
<circle cx="245.0" cy="46.6" r="0.7" fill="#c9dd94"/>
<circle cx="229.2" cy="54.3" r="0.7" fill="#c9dd94"/>
<circle cx="243.8" cy="46.9" r="0.7" fill="#c9dd94"/>
<circle cx="259.3" cy="62.4" r="0.7" fill="#c9dd94"/>
<circle cx="240.3" cy="45.5" r="0.7" fill="#c9dd94"/>
<circle cx="268.0" cy="55.3" r="0.7" fill="#b7d07a"/>
<circle cx="240.4" cy="51.7" r="0.7" fill="#c9dd94"/>
<circle cx="258.6" cy="69.6" r="0.7" fill="#b7d07a"/>
<circle cx="248.1" cy="57.2" r="0.7" fill="#c0d783"/>
<circle cx="239.9" cy="57.8" r="0.7" fill="#c9dd94"/>
<circle cx="243.3" cy="51.0" r="0.7" fill="#c0d783"/>
<circle cx="244.1" cy="48.6" r="0.7" fill="#b7d07a"/>
<circle cx="261.3" cy="53.5" r="0.7" fill="#c9dd94"/>
<circle cx="230.3" cy="64.3" r="0.7" fill="#b7d07a"/>
<circle cx="259.1" cy="65.2" r="0.7" fill="#b7d07a"/>
<circle cx="258.8" cy="51.0" r="0.7" fill="#c0d783"/>
<circle cx="265.9" cy="68.9" r="0.7" fill="#c9dd94"/>
<circle cx="247.3" cy="52.1" r="0.7" fill="#b7d07a"/>
<circle cx="248.8" cy="53.2" r="0.7" fill="#c9dd94"/>
<circle cx="243.8" cy="49.1" r="0.7" fill="#c9dd94"/>
<circle cx="247.6" cy="53.3" r="0.7" fill="#c0d783"/>
<circle cx="262.5" cy="69.6" r="0.7" fill="#b7d07a"/>
<circle cx="235.5" cy="50.3" r="0.7" fill="#b7d07a"/>
<circle cx="249.0" cy="55.7" r="0.7" fill="#c9dd94"/>
<circle cx="260.5" cy="64.1" r="0.7" fill="#c9dd94"/>
<circle cx="227.2" cy="61.4" r="0.7" fill="#c9dd94"/>
<circle cx="258.8" cy="66.4" r="0.7" fill="#c9dd94"/>
<circle cx="231.0" cy="52.4" r="0.7" fill="#c9dd94"/>
<circle cx="237.6" cy="48.9" r="0.7" fill="#c0d783"/>
<circle cx="268.2" cy="50.4" r="0.7" fill="#c9dd94"/>
<circle cx="242.5" cy="53.4" r="0.7" fill="#c0d783"/>
<circle cx="258.1" cy="62.3" r="0.7" fill="#c0d783"/>
<circle cx="258.4" cy="66.7" r="0.7" fill="#b7d07a"/>
<circle cx="263.0" cy="68.1" r="0.7" fill="#c9dd94"/>
<circle cx="244.7" cy="49.5" r="0.7" fill="#b7d07a"/>
<circle cx="266.3" cy="46.0" r="0.7" fill="#c9dd94"/>
<circle cx="255.1" cy="60.7" r="0.7" fill="#c0d783"/>
<circle cx="241.3" cy="46.1" r="0.7" fill="#b7d07a"/>
<circle cx="262.3" cy="67.9" r="0.7" fill="#c0d783"/>
<circle cx="247.7" cy="45.2" r="0.7" fill="#c0d783"/>
<circle cx="239.0" cy="63.9" r="0.7" fill="#c9dd94"/>
<circle cx="249.9" cy="55.0" r="0.7" fill="#b7d07a"/>
<circle cx="244.4" cy="52.5" r="0.7" fill="#b7d07a"/>
<circle cx="236.6" cy="63.9" r="0.7" fill="#b7d07a"/>
<circle cx="263.1" cy="45.7" r="0.7" fill="#c9dd94"/>
<circle cx="263.1" cy="44.5" r="0.7" fill="#b7d07a"/>
<circle cx="255.6" cy="56.9" r="0.7" fill="#c9dd94"/>
<circle cx="226.7" cy="57.4" r="0.7" fill="#c9dd94"/>
<circle cx="238.1" cy="58.9" r="0.7" fill="#c0d783"/>
<circle cx="237.9" cy="56.3" r="0.7" fill="#c9dd94"/>
<circle cx="253.2" cy="59.0" r="0.7" fill="#b7d07a"/>
<circle cx="262.9" cy="49.4" r="0.7" fill="#c9dd94"/>
<circle cx="238.8" cy="60.7" r="0.7" fill="#c9dd94"/>
<circle cx="243.4" cy="48.8" r="0.7" fill="#c0d783"/>
<circle cx="245.5" cy="57.1" r="0.7" fill="#c0d783"/>
<circle cx="243.7" cy="59.8" r="0.7" fill="#c0d783"/>
<circle cx="242.5" cy="57.7" r="0.7" fill="#b7d07a"/>
<circle cx="263.8" cy="52.5" r="0.7" fill="#c0d783"/>
<circle cx="240.1" cy="47.1" r="0.7" fill="#b7d07a"/>
<circle cx="246.3" cy="44.1" r="0.7" fill="#b7d07a"/>
<circle cx="264.4" cy="62.7" r="0.7" fill="#c9dd94"/>
<circle cx="240.3" cy="54.2" r="0.7" fill="#b7d07a"/>
<circle cx="255.6" cy="43.7" r="0.7" fill="#c9dd94"/>
<circle cx="240.3" cy="59.7" r="0.7" fill="#c0d783"/>
<circle cx="265.3" cy="47.0" r="0.7" fill="#c9dd94"/>
<circle cx="262.5" cy="66.7" r="0.7" fill="#c0d783"/>
<circle cx="240.6" cy="55.3" r="0.7" fill="#c9dd94"/>
<circle cx="262.3" cy="59.2" r="0.7" fill="#c0d783"/>
<circle cx="240.8" cy="55.8" r="0.7" fill="#c0d783"/>
<circle cx="245.2" cy="44.8" r="0.7" fill="#c0d783"/>
<circle cx="247.1" cy="54.0" r="0.7" fill="#b7d07a"/>
<circle cx="268.5" cy="49.8" r="0.7" fill="#c9dd94"/>
<circle cx="255.9" cy="43.0" r="0.7" fill="#c9dd94"/>
<circle cx="264.9" cy="63.8" r="0.7" fill="#c9dd94"/>
<circle cx="245.6" cy="53.7" r="0.7" fill="#c0d783"/>
<circle cx="262.4" cy="50.8" r="0.7" fill="#c9dd94"/>
<circle cx="265.1" cy="47.5" r="0.7" fill="#c9dd94"/>
<circle cx="232.0" cy="52.7" r="0.7" fill="#c0d783"/>
<circle cx="266.2" cy="56.4" r="0.7" fill="#c0d783"/>
<circle cx="250.1" cy="43.1" r="0.7" fill="#c0d783"/>
<circle cx="262.2" cy="66.3" r="0.7" fill="#b7d07a"/>
<circle cx="241.5" cy="51.2" r="0.7" fill="#c9dd94"/>
<circle cx="254.4" cy="57.0" r="0.7" fill="#c0d783"/>
<circle cx="250.1" cy="51.2" r="0.7" fill="#b7d07a"/>
<circle cx="228.7" cy="57.1" r="0.7" fill="#b7d07a"/>
<circle cx="247.4" cy="50.3" r="0.7" fill="#b7d07a"/>
<circle cx="264.0" cy="63.6" r="0.7" fill="#c0d783"/>
<circle cx="264.0" cy="60.2" r="0.7" fill="#c9dd94"/>
<circle cx="264.6" cy="47.2" r="0.7" fill="#c0d783"/>
<circle cx="266.7" cy="52.9" r="0.7" fill="#c0d783"/>
<circle cx="237.6" cy="64.1" r="0.7" fill="#c9dd94"/>
<circle cx="246.5" cy="52.5" r="0.7" fill="#b7d07a"/>
<circle cx="241.7" cy="52.6" r="0.7" fill="#c0d783"/>
<circle cx="236.1" cy="51.3" r="0.7" fill="#c0d783"/>
<circle cx="256.0" cy="51.1" r="0.7" fill="#c0d783"/>
<circle cx="245.7" cy="47.0" r="0.7" fill="#b7d07a"/>
<circle cx="240.0" cy="47.7" r="0.7" fill="#b7d07a"/>
<circle cx="258.8" cy="52.8" r="0.7" fill="#b7d07a"/>
<circle cx="242.9" cy="46.0" r="0.7" fill="#c9dd94"/>
<circle cx="260.5" cy="67.4" r="0.7" fill="#c9dd94"/>
<circle cx="247.5" cy="53.6" r="0.7" fill="#c9dd94"/>
<circle cx="233.0" cy="66.1" r="0.7" fill="#c9dd94"/>
<circle cx="245.7" cy="46.0" r="0.7" fill="#b7d07a"/>
<circle cx="236.7" cy="60.2" r="0.7" fill="#c0d783"/>
<circle cx="264.2" cy="54.4" r="0.7" fill="#c9dd94"/>
<circle cx="253.1" cy="60.0" r="0.7" fill="#b7d07a"/>
<circle cx="259.3" cy="57.8" r="0.7" fill="#c9dd94"/>
<circle cx="250.6" cy="61.7" r="0.7" fill="#c9dd94"/>
<circle cx="262.9" cy="63.9" r="0.7" fill="#c9dd94"/>
<circle cx="267.2" cy="53.7" r="0.7" fill="#b7d07a"/>
<circle cx="258.0" cy="51.4" r="0.7" fill="#c9dd94"/>
<circle cx="240.2" cy="46.1" r="0.7" fill="#c9dd94"/>
<circle cx="256.2" cy="58.1" r="0.7" fill="#c9dd94"/>
<circle cx="256.9" cy="50.6" r="0.7" fill="#c0d783"/>
<circle cx="237.8" cy="63.2" r="0.7" fill="#c0d783"/>
<circle cx="248.6" cy="55.0" r="0.7" fill="#c9dd94"/>
<circle cx="249.1" cy="51.9" r="0.7" fill="#b7d07a"/>
<circle cx="232.0" cy="56.3" r="0.7" fill="#c0d783"/>
<circle cx="228.0" cy="57.7" r="0.7" fill="#c0d783"/>
<circle cx="247.3" cy="52.9" r="0.7" fill="#c0d783"/>
<circle cx="240.2" cy="61.8" r="0.7" fill="#c9dd94"/>
<circle cx="250.0" cy="56.4" r="0.7" fill="#c0d783"/>
<circle cx="254.7" cy="48.2" r="0.55" fill="#f4f9e8"/>
<circle cx="260.7" cy="63.4" r="0.55" fill="#ffffff"/>
<circle cx="227.0" cy="62.5" r="0.55" fill="#ffffff"/>
<circle cx="233.2" cy="54.8" r="0.55" fill="#ffffff"/>
<circle cx="238.1" cy="64.3" r="0.55" fill="#ffffff"/>
<circle cx="266.0" cy="54.3" r="0.55" fill="#f4f9e8"/>
<circle cx="234.7" cy="57.5" r="0.55" fill="#f4f9e8"/>
<circle cx="260.7" cy="44.5" r="0.55" fill="#ffffff"/>
<circle cx="263.5" cy="63.2" r="0.55" fill="#f4f9e8"/>
<circle cx="234.7" cy="60.1" r="0.55" fill="#f4f9e8"/>
<circle cx="229.5" cy="57.5" r="0.55" fill="#ffffff"/>
<circle cx="226.1" cy="61.8" r="0.55" fill="#ffffff"/>
<circle cx="260.4" cy="52.7" r="0.55" fill="#f4f9e8"/>
<circle cx="249.1" cy="61.2" r="0.55" fill="#f4f9e8"/>
<circle cx="235.0" cy="62.4" r="0.55" fill="#ffffff"/>
<circle cx="225.6" cy="61.8" r="0.55" fill="#f4f9e8"/>
<circle cx="247.4" cy="50.7" r="0.55" fill="#f4f9e8"/>
<circle cx="227.1" cy="65.6" r="0.55" fill="#f4f9e8"/>
<circle cx="267.8" cy="63.0" r="0.55" fill="#ffffff"/>
<circle cx="243.7" cy="47.8" r="0.55" fill="#ffffff"/>
<circle cx="239.0" cy="47.6" r="0.55" fill="#f4f9e8"/>
<circle cx="241.3" cy="52.8" r="0.55" fill="#ffffff"/>
<circle cx="248.8" cy="59.2" r="0.55" fill="#f4f9e8"/>
<circle cx="250.9" cy="47.4" r="0.55" fill="#f4f9e8"/>
<circle cx="249.9" cy="48.7" r="0.55" fill="#f4f9e8"/>
<circle cx="254.5" cy="63.5" r="0.55" fill="#f4f9e8"/>
<circle cx="253.2" cy="65.5" r="0.55" fill="#ffffff"/>
<circle cx="260.9" cy="56.1" r="0.55" fill="#ffffff"/>
<circle cx="247.5" cy="50.1" r="0.55" fill="#ffffff"/>
<circle cx="233.2" cy="56.9" r="0.55" fill="#f4f9e8"/>
<circle cx="228.1" cy="56.1" r="0.55" fill="#f4f9e8"/>
<circle cx="261.3" cy="63.6" r="0.55" fill="#f4f9e8"/>
<circle cx="246.9" cy="55.5" r="0.55" fill="#ffffff"/>
<circle cx="224.5" cy="61.6" r="0.55" fill="#f4f9e8"/>
<circle cx="262.0" cy="55.8" r="0.55" fill="#f4f9e8"/>
<circle cx="261.2" cy="50.1" r="0.55" fill="#ffffff"/>
<circle cx="242.0" cy="60.8" r="0.55" fill="#ffffff"/>
<circle cx="269.2" cy="46.4" r="0.55" fill="#ffffff"/>
<circle cx="229.9" cy="52.7" r="0.55" fill="#ffffff"/>
<circle cx="252.9" cy="43.0" r="0.55" fill="#f4f9e8"/>
<circle cx="249.5" cy="52.7" r="0.55" fill="#f4f9e8"/>
<circle cx="237.9" cy="55.5" r="0.55" fill="#f4f9e8"/>
<circle cx="260.5" cy="63.9" r="0.55" fill="#ffffff"/>
<circle cx="239.6" cy="60.8" r="0.55" fill="#f4f9e8"/>
<circle cx="268.8" cy="55.4" r="0.55" fill="#ffffff"/>
<circle cx="257.3" cy="59.2" r="0.55" fill="#ffffff"/>
<circle cx="241.8" cy="52.5" r="0.55" fill="#f4f9e8"/>
<circle cx="246.6" cy="48.4" r="0.55" fill="#f4f9e8"/>
<circle cx="249.7" cy="51.1" r="0.55" fill="#f4f9e8"/>
<circle cx="262.1" cy="51.8" r="0.55" fill="#f4f9e8"/>
<circle cx="239.9" cy="63.2" r="0.55" fill="#f4f9e8"/>
<circle cx="247.8" cy="44.7" r="0.55" fill="#ffffff"/>
<circle cx="251.6" cy="53.0" r="0.55" fill="#f4f9e8"/>
<circle cx="240.6" cy="56.2" r="0.55" fill="#f4f9e8"/>
<circle cx="252.0" cy="55.3" r="0.55" fill="#ffffff"/>
<circle cx="253.7" cy="62.9" r="0.55" fill="#ffffff"/>
<circle cx="261.2" cy="62.8" r="0.55" fill="#ffffff"/>
<circle cx="241.5" cy="56.5" r="0.55" fill="#ffffff"/>
<circle cx="228.1" cy="59.1" r="0.55" fill="#f4f9e8"/>
<circle cx="249.0" cy="44.4" r="0.55" fill="#f4f9e8"/>
<circle cx="243.4" cy="45.0" r="0.55" fill="#ffffff"/>
<circle cx="255.8" cy="60.1" r="0.55" fill="#f4f9e8"/>
<circle cx="237.6" cy="54.3" r="0.55" fill="#ffffff"/>
<circle cx="268.4" cy="50.4" r="0.55" fill="#f4f9e8"/>
<circle cx="264.7" cy="50.9" r="0.55" fill="#ffffff"/>
<circle cx="238.4" cy="49.9" r="0.55" fill="#ffffff"/>
<circle cx="262.8" cy="46.9" r="0.55" fill="#f4f9e8"/>
<circle cx="261.9" cy="47.9" r="0.55" fill="#ffffff"/>
<circle cx="258.9" cy="66.1" r="0.55" fill="#ffffff"/>
<circle cx="260.7" cy="51.2" r="0.55" fill="#f4f9e8"/>
<circle cx="266.3" cy="69.1" r="0.55" fill="#ffffff"/>
<circle cx="244.3" cy="48.3" r="0.55" fill="#f4f9e8"/>
<circle cx="235.1" cy="49.4" r="0.55" fill="#ffffff"/>
<circle cx="244.2" cy="46.8" r="0.55" fill="#f4f9e8"/>
<circle cx="254.6" cy="43.8" r="0.55" fill="#f4f9e8"/>
<circle cx="257.0" cy="65.4" r="0.55" fill="#ffffff"/>
<circle cx="264.6" cy="51.2" r="0.55" fill="#ffffff"/>
<circle cx="260.1" cy="59.5" r="0.55" fill="#ffffff"/>
<circle cx="242.0" cy="50.9" r="0.55" fill="#f4f9e8"/>
<circle cx="260.3" cy="52.0" r="0.55" fill="#f4f9e8"/>
<circle cx="235.7" cy="67.0" r="0.55" fill="#ffffff"/>
<circle cx="263.4" cy="52.2" r="0.55" fill="#f4f9e8"/>
<circle cx="256.1" cy="63.4" r="0.55" fill="#f4f9e8"/>
<circle cx="245.5" cy="56.0" r="0.55" fill="#f4f9e8"/>
<circle cx="237.0" cy="47.7" r="0.55" fill="#ffffff"/>
<circle cx="254.3" cy="45.8" r="0.55" fill="#f4f9e8"/>
<circle cx="237.5" cy="51.8" r="0.55" fill="#ffffff"/>
<circle cx="263.1" cy="66.9" r="0.55" fill="#ffffff"/>
<circle cx="259.0" cy="54.6" r="0.55" fill="#f4f9e8"/>
<circle cx="255.2" cy="67.9" r="0.55" fill="#ffffff"/>
<circle cx="227.5" cy="64.4" r="0.55" fill="#ffffff"/>
<circle cx="243.6" cy="44.3" r="0.55" fill="#ffffff"/>
<circle cx="238.1" cy="54.4" r="0.55" fill="#f4f9e8"/>
<circle cx="259.5" cy="62.3" r="0.55" fill="#ffffff"/>
<circle cx="264.1" cy="62.4" r="0.55" fill="#ffffff"/>
<circle cx="232.8" cy="58.8" r="0.55" fill="#ffffff"/>
<circle cx="256.4" cy="51.3" r="0.55" fill="#f4f9e8"/>
<circle cx="254.8" cy="44.7" r="0.55" fill="#f4f9e8"/>
<circle cx="264.1" cy="49.2" r="0.55" fill="#ffffff"/>
<circle cx="259.1" cy="57.5" r="0.55" fill="#f4f9e8"/>
<circle cx="243.5" cy="52.6" r="0.55" fill="#f4f9e8"/>
<circle cx="236.4" cy="51.2" r="0.55" fill="#ffffff"/>
<circle cx="267.4" cy="63.3" r="0.55" fill="#f4f9e8"/>
<circle cx="243.2" cy="47.2" r="0.55" fill="#ffffff"/>
<circle cx="258.0" cy="54.2" r="0.55" fill="#ffffff"/>
<circle cx="253.8" cy="54.8" r="0.55" fill="#f4f9e8"/>
<circle cx="252.3" cy="55.9" r="0.55" fill="#f4f9e8"/>
<circle cx="260.0" cy="63.7" r="0.55" fill="#f4f9e8"/>
<circle cx="226.4" cy="62.1" r="0.55" fill="#f4f9e8"/>
<circle cx="260.3" cy="52.8" r="0.55" fill="#ffffff"/>
<circle cx="228.7" cy="58.0" r="0.55" fill="#f4f9e8"/>
<circle cx="244.4" cy="58.2" r="0.55" fill="#f4f9e8"/>
<circle cx="240.1" cy="46.4" r="0.55" fill="#ffffff"/>
<circle cx="260.7" cy="50.4" r="0.55" fill="#f4f9e8"/>
<circle cx="230.9" cy="54.8" r="0.55" fill="#f4f9e8"/>
<circle cx="245.4" cy="48.0" r="0.55" fill="#ffffff"/>
<circle cx="249.1" cy="51.8" r="0.55" fill="#ffffff"/>
<circle cx="226.8" cy="67.1" r="0.55" fill="#ffffff"/>
<circle cx="245.4" cy="56.4" r="0.55" fill="#ffffff"/>
<circle cx="255.3" cy="50.4" r="0.55" fill="#f4f9e8"/>
<circle cx="249.5" cy="51.4" r="0.55" fill="#f4f9e8"/>
<circle cx="250.4" cy="45.1" r="0.55" fill="#f4f9e8"/>
<circle cx="254.8" cy="53.1" r="0.55" fill="#f4f9e8"/>
<circle cx="267.0" cy="66.8" r="0.55" fill="#ffffff"/>
<circle cx="231.0" cy="65.5" r="0.55" fill="#ffffff"/>
<circle cx="255.8" cy="53.7" r="0.55" fill="#ffffff"/>
<circle cx="255.6" cy="66.9" r="0.55" fill="#ffffff"/>
<circle cx="239.2" cy="53.4" r="0.55" fill="#ffffff"/>
<circle cx="267.4" cy="62.3" r="0.55" fill="#f4f9e8"/>
<circle cx="269.4" cy="47.7" r="0.55" fill="#f4f9e8"/>
<circle cx="240.2" cy="51.6" r="0.55" fill="#ffffff"/>
<circle cx="245.9" cy="46.5" r="0.55" fill="#f4f9e8"/>
<circle cx="258.8" cy="53.1" r="0.55" fill="#f4f9e8"/>
<circle cx="241.3" cy="46.9" r="0.55" fill="#ffffff"/>
<circle cx="232.5" cy="64.2" r="0.55" fill="#f4f9e8"/>
<circle cx="262.4" cy="51.6" r="0.55" fill="#f4f9e8"/>
<circle cx="263.1" cy="62.4" r="0.55" fill="#f4f9e8"/>
<circle cx="253.6" cy="64.7" r="0.55" fill="#ffffff"/>
<circle cx="253.5" cy="56.6" r="0.55" fill="#f4f9e8"/>
<circle cx="257.6" cy="46.5" r="0.55" fill="#f4f9e8"/>
<circle cx="254.0" cy="47.1" r="0.55" fill="#ffffff"/>
<circle cx="247.7" cy="52.1" r="0.55" fill="#f4f9e8"/>
<circle cx="244.1" cy="60.8" r="0.55" fill="#ffffff"/>
<circle cx="254.2" cy="58.6" r="0.55" fill="#ffffff"/>
<circle cx="237.4" cy="51.6" r="0.55" fill="#ffffff"/>
<circle cx="261.4" cy="55.2" r="0.55" fill="#f4f9e8"/>
<circle cx="255.1" cy="58.8" r="0.55" fill="#f4f9e8"/>
<circle cx="226.3" cy="66.1" r="0.55" fill="#ffffff"/>
<circle cx="264.6" cy="57.9" r="0.55" fill="#f4f9e8"/>
<circle cx="265.4" cy="60.0" r="0.55" fill="#f4f9e8"/>
<circle cx="242.2" cy="49.9" r="0.55" fill="#f4f9e8"/>
<circle cx="263.9" cy="55.0" r="0.55" fill="#ffffff"/>
<circle cx="259.8" cy="44.0" r="0.55" fill="#ffffff"/>
<circle cx="264.0" cy="58.9" r="0.55" fill="#f4f9e8"/>
<circle cx="235.7" cy="60.5" r="0.55" fill="#ffffff"/>
<circle cx="250.4" cy="60.1" r="0.55" fill="#f4f9e8"/>
<circle cx="225.9" cy="58.4" r="0.55" fill="#ffffff"/>
<circle cx="260.8" cy="46.7" r="0.55" fill="#ffffff"/>
<circle cx="248.2" cy="43.1" r="0.55" fill="#f4f9e8"/>
<circle cx="266.0" cy="66.1" r="0.55" fill="#ffffff"/>
<polygon points="269.9,46.6 278.6,49.2 287.2,50.0 297.6,55.2 303.7,60.4 299.3,64.8 290.7,66.5 283.8,70.8 282.0,77.7 278.6,82.7 270.8,87.9 265.5,90.8 262.6,86.9 266.4,82.1 268.2,77.2 266.5,70.8 268.8,57.2" fill="#e8e2a6"/>
<circle cx="269.5" cy="77.4" r="0.7" fill="#c2b442"/>
<circle cx="289.4" cy="58.4" r="0.7" fill="#b6a838"/>
<circle cx="264.2" cy="85.7" r="0.7" fill="#b6a838"/>
<circle cx="274.6" cy="76.7" r="0.7" fill="#c2b442"/>
<circle cx="289.2" cy="53.0" r="0.7" fill="#b6a838"/>
<circle cx="281.5" cy="51.2" r="0.7" fill="#b6a838"/>
<circle cx="268.5" cy="76.2" r="0.7" fill="#b6a838"/>
<circle cx="273.1" cy="51.4" r="0.7" fill="#ccbf52"/>
<circle cx="275.5" cy="73.6" r="0.7" fill="#ccbf52"/>
<circle cx="281.9" cy="77.9" r="0.7" fill="#ccbf52"/>
<circle cx="264.9" cy="87.5" r="0.7" fill="#ccbf52"/>
<circle cx="302.2" cy="60.2" r="0.7" fill="#c2b442"/>
<circle cx="288.4" cy="67.3" r="0.7" fill="#c2b442"/>
<circle cx="292.4" cy="63.4" r="0.7" fill="#ccbf52"/>
<circle cx="276.8" cy="75.6" r="0.7" fill="#c2b442"/>
<circle cx="275.4" cy="72.4" r="0.7" fill="#b6a838"/>
<circle cx="293.8" cy="63.1" r="0.7" fill="#ccbf52"/>
<circle cx="272.6" cy="77.4" r="0.7" fill="#c2b442"/>
<circle cx="282.7" cy="69.1" r="0.7" fill="#c2b442"/>
<circle cx="291.0" cy="54.6" r="0.7" fill="#b6a838"/>
<circle cx="292.8" cy="63.8" r="0.7" fill="#b6a838"/>
<circle cx="288.9" cy="59.0" r="0.7" fill="#b6a838"/>
<circle cx="277.7" cy="78.2" r="0.7" fill="#b6a838"/>
<circle cx="283.7" cy="59.5" r="0.7" fill="#ccbf52"/>
<circle cx="274.7" cy="78.5" r="0.7" fill="#b6a838"/>
<circle cx="288.2" cy="60.2" r="0.7" fill="#c2b442"/>
<circle cx="287.9" cy="57.6" r="0.7" fill="#ccbf52"/>
<circle cx="281.2" cy="71.9" r="0.7" fill="#b6a838"/>
<circle cx="274.5" cy="79.7" r="0.7" fill="#b6a838"/>
<circle cx="274.2" cy="51.9" r="0.7" fill="#c2b442"/>
<circle cx="279.3" cy="63.6" r="0.7" fill="#ccbf52"/>
<circle cx="281.0" cy="56.9" r="0.7" fill="#b6a838"/>
<circle cx="298.0" cy="58.5" r="0.7" fill="#ccbf52"/>
<circle cx="294.0" cy="55.0" r="0.7" fill="#b6a838"/>
<circle cx="275.5" cy="67.6" r="0.7" fill="#ccbf52"/>
<circle cx="298.2" cy="59.6" r="0.7" fill="#b6a838"/>
<circle cx="268.2" cy="80.6" r="0.7" fill="#c2b442"/>
<circle cx="264.5" cy="85.6" r="0.7" fill="#c2b442"/>
<circle cx="298.6" cy="57.0" r="0.7" fill="#ccbf52"/>
<circle cx="275.1" cy="82.1" r="0.7" fill="#c2b442"/>
<circle cx="276.3" cy="67.6" r="0.7" fill="#b6a838"/>
<circle cx="272.1" cy="53.6" r="0.7" fill="#ccbf52"/>
<circle cx="277.1" cy="71.3" r="0.7" fill="#c2b442"/>
<circle cx="265.2" cy="84.3" r="0.7" fill="#ccbf52"/>
<circle cx="271.3" cy="86.0" r="0.7" fill="#c2b442"/>
<circle cx="281.8" cy="59.7" r="0.7" fill="#ccbf52"/>
<circle cx="284.0" cy="68.8" r="0.7" fill="#ccbf52"/>
<circle cx="264.8" cy="85.9" r="0.7" fill="#c2b442"/>
<circle cx="270.3" cy="53.5" r="0.7" fill="#b6a838"/>
<circle cx="289.0" cy="60.5" r="0.7" fill="#c2b442"/>
<circle cx="264.9" cy="85.0" r="0.7" fill="#ccbf52"/>
<circle cx="292.6" cy="57.0" r="0.7" fill="#ccbf52"/>
<circle cx="275.9" cy="59.6" r="0.7" fill="#b6a838"/>
<circle cx="292.1" cy="54.6" r="0.7" fill="#b6a838"/>
<circle cx="271.3" cy="66.2" r="0.7" fill="#b6a838"/>
<circle cx="270.1" cy="87.7" r="0.7" fill="#ccbf52"/>
<circle cx="269.5" cy="76.3" r="0.7" fill="#c2b442"/>
<circle cx="275.9" cy="84.1" r="0.7" fill="#ccbf52"/>
<circle cx="277.5" cy="57.6" r="0.7" fill="#b6a838"/>
<circle cx="280.7" cy="51.6" r="0.7" fill="#c2b442"/>
<circle cx="279.9" cy="78.4" r="0.7" fill="#ccbf52"/>
<circle cx="267.0" cy="71.9" r="0.7" fill="#c2b442"/>
<circle cx="282.6" cy="57.6" r="0.7" fill="#ccbf52"/>
<circle cx="273.8" cy="58.8" r="0.7" fill="#b6a838"/>
<circle cx="284.3" cy="52.3" r="0.7" fill="#b6a838"/>
<circle cx="268.5" cy="69.0" r="0.7" fill="#c2b442"/>
<circle cx="273.4" cy="74.4" r="0.7" fill="#b6a838"/>
<circle cx="285.5" cy="58.7" r="0.7" fill="#ccbf52"/>
<circle cx="268.4" cy="84.3" r="0.7" fill="#c2b442"/>
<circle cx="271.1" cy="49.2" r="0.7" fill="#c2b442"/>
<circle cx="279.2" cy="77.4" r="0.7" fill="#b6a838"/>
<circle cx="294.6" cy="56.7" r="0.7" fill="#ccbf52"/>
<circle cx="291.1" cy="53.3" r="0.7" fill="#ccbf52"/>
<circle cx="294.2" cy="61.8" r="0.7" fill="#c2b442"/>
<circle cx="272.4" cy="70.2" r="0.7" fill="#ccbf52"/>
<circle cx="277.8" cy="50.1" r="0.7" fill="#b6a838"/>
<circle cx="285.3" cy="52.2" r="0.7" fill="#b6a838"/>
<circle cx="274.3" cy="68.2" r="0.7" fill="#b6a838"/>
<circle cx="273.7" cy="48.0" r="0.7" fill="#ccbf52"/>
<circle cx="273.5" cy="56.0" r="0.7" fill="#b6a838"/>
<circle cx="282.1" cy="71.3" r="0.7" fill="#c2b442"/>
<circle cx="282.7" cy="65.3" r="0.7" fill="#b6a838"/>
<circle cx="291.7" cy="63.0" r="0.7" fill="#ccbf52"/>
<circle cx="281.2" cy="74.9" r="0.7" fill="#c2b442"/>
<circle cx="275.2" cy="75.6" r="0.7" fill="#ccbf52"/>
<circle cx="291.6" cy="61.5" r="0.7" fill="#c2b442"/>
<circle cx="286.8" cy="54.4" r="0.7" fill="#c2b442"/>
<circle cx="274.7" cy="55.2" r="0.7" fill="#b6a838"/>
<circle cx="275.3" cy="59.7" r="0.7" fill="#b6a838"/>
<circle cx="291.6" cy="54.6" r="0.7" fill="#ccbf52"/>
<circle cx="267.1" cy="87.3" r="0.7" fill="#b6a838"/>
<circle cx="279.6" cy="62.3" r="0.7" fill="#b6a838"/>
<circle cx="284.2" cy="62.1" r="0.7" fill="#ccbf52"/>
<circle cx="277.1" cy="80.1" r="0.7" fill="#c2b442"/>
<circle cx="265.3" cy="84.8" r="0.7" fill="#ccbf52"/>
<circle cx="281.0" cy="67.0" r="0.7" fill="#b6a838"/>
<circle cx="270.4" cy="72.4" r="0.7" fill="#ccbf52"/>
<circle cx="274.7" cy="80.2" r="0.7" fill="#ccbf52"/>
<circle cx="271.6" cy="82.7" r="0.7" fill="#ccbf52"/>
<circle cx="270.3" cy="80.5" r="0.7" fill="#b6a838"/>
<circle cx="271.8" cy="54.4" r="0.7" fill="#c2b442"/>
<circle cx="267.2" cy="81.4" r="0.7" fill="#b6a838"/>
<circle cx="273.0" cy="81.7" r="0.7" fill="#ccbf52"/>
<circle cx="289.9" cy="51.7" r="0.7" fill="#ccbf52"/>
<circle cx="277.9" cy="67.2" r="0.7" fill="#c2b442"/>
<circle cx="273.4" cy="72.9" r="0.7" fill="#ccbf52"/>
<circle cx="285.5" cy="63.0" r="0.7" fill="#b6a838"/>
<circle cx="300.5" cy="61.0" r="0.7" fill="#b6a838"/>
<circle cx="275.1" cy="73.2" r="0.7" fill="#c2b442"/>
<circle cx="274.6" cy="58.4" r="0.7" fill="#c2b442"/>
<circle cx="296.7" cy="57.0" r="0.7" fill="#b6a838"/>
<circle cx="277.1" cy="55.1" r="0.7" fill="#b6a838"/>
<circle cx="283.5" cy="70.6" r="0.7" fill="#c2b442"/>
<circle cx="282.8" cy="64.8" r="0.7" fill="#b6a838"/>
<circle cx="276.7" cy="56.6" r="0.7" fill="#b6a838"/>
<circle cx="270.1" cy="55.7" r="0.7" fill="#ccbf52"/>
<circle cx="275.3" cy="55.2" r="0.7" fill="#b6a838"/>
<circle cx="281.6" cy="58.0" r="0.7" fill="#ccbf52"/>
<circle cx="285.3" cy="61.7" r="0.7" fill="#ccbf52"/>
<circle cx="277.8" cy="57.5" r="0.7" fill="#b6a838"/>
<circle cx="285.1" cy="68.5" r="0.7" fill="#b6a838"/>
<circle cx="280.6" cy="70.8" r="0.7" fill="#c2b442"/>
<circle cx="294.8" cy="58.2" r="0.7" fill="#c2b442"/>
<circle cx="285.9" cy="50.1" r="0.7" fill="#ccbf52"/>
<circle cx="274.0" cy="83.8" r="0.7" fill="#b6a838"/>
<circle cx="277.4" cy="74.5" r="0.7" fill="#ccbf52"/>
<circle cx="291.7" cy="52.6" r="0.7" fill="#b6a838"/>
<circle cx="274.0" cy="62.8" r="0.7" fill="#c2b442"/>
<circle cx="300.5" cy="57.8" r="0.7" fill="#b6a838"/>
<circle cx="278.4" cy="82.5" r="0.7" fill="#c2b442"/>
<circle cx="301.8" cy="61.1" r="0.7" fill="#ccbf52"/>
<circle cx="266.2" cy="87.0" r="0.7" fill="#ccbf52"/>
<circle cx="270.2" cy="52.9" r="0.7" fill="#b6a838"/>
<circle cx="287.5" cy="64.0" r="0.7" fill="#b6a838"/>
<circle cx="280.5" cy="58.2" r="0.7" fill="#c2b442"/>
<circle cx="267.8" cy="89.0" r="0.7" fill="#ccbf52"/>
<circle cx="298.8" cy="62.6" r="0.7" fill="#ccbf52"/>
<circle cx="298.4" cy="62.6" r="0.7" fill="#c2b442"/>
<circle cx="270.3" cy="49.6" r="0.7" fill="#ccbf52"/>
<circle cx="268.8" cy="83.3" r="0.7" fill="#b6a838"/>
<circle cx="269.1" cy="69.0" r="0.7" fill="#b6a838"/>
<circle cx="285.2" cy="63.8" r="0.7" fill="#c2b442"/>
<circle cx="281.9" cy="54.8" r="0.7" fill="#ccbf52"/>
<circle cx="274.4" cy="61.4" r="0.7" fill="#ccbf52"/>
<circle cx="283.4" cy="65.6" r="0.7" fill="#c2b442"/>
<circle cx="270.9" cy="56.6" r="0.7" fill="#b6a838"/>
<circle cx="286.1" cy="60.0" r="0.7" fill="#c2b442"/>
<circle cx="288.3" cy="63.0" r="0.7" fill="#c2b442"/>
<circle cx="269.1" cy="74.5" r="0.7" fill="#c2b442"/>
<circle cx="277.3" cy="49.3" r="0.7" fill="#c2b442"/>
<circle cx="269.2" cy="56.4" r="0.7" fill="#ccbf52"/>
<circle cx="266.0" cy="84.7" r="0.7" fill="#c2b442"/>
<circle cx="273.6" cy="80.7" r="0.7" fill="#ccbf52"/>
<circle cx="291.4" cy="58.1" r="0.7" fill="#b6a838"/>
<circle cx="269.9" cy="64.1" r="0.7" fill="#ccbf52"/>
<circle cx="284.6" cy="66.4" r="0.7" fill="#b6a838"/>
<circle cx="268.4" cy="80.4" r="0.7" fill="#c2b442"/>
<circle cx="281.9" cy="68.9" r="0.7" fill="#c2b442"/>
<circle cx="286.8" cy="54.1" r="0.7" fill="#ccbf52"/>
<circle cx="273.6" cy="59.7" r="0.7" fill="#c2b442"/>
<circle cx="283.8" cy="70.2" r="0.7" fill="#ccbf52"/>
<circle cx="277.8" cy="77.1" r="0.7" fill="#b6a838"/>
<circle cx="271.5" cy="66.4" r="0.7" fill="#b6a838"/>
<circle cx="269.9" cy="80.6" r="0.7" fill="#b6a838"/>
<circle cx="274.4" cy="57.5" r="0.7" fill="#ccbf52"/>
<circle cx="267.7" cy="73.8" r="0.7" fill="#c2b442"/>
<circle cx="289.2" cy="59.8" r="0.7" fill="#b6a838"/>
<circle cx="274.8" cy="61.4" r="0.7" fill="#b6a838"/>
<circle cx="280.5" cy="62.8" r="0.7" fill="#ccbf52"/>
<circle cx="291.1" cy="55.8" r="0.7" fill="#c2b442"/>
<circle cx="272.7" cy="53.6" r="0.7" fill="#ccbf52"/>
<circle cx="276.9" cy="71.7" r="0.7" fill="#b6a838"/>
<circle cx="276.3" cy="53.3" r="0.7" fill="#ccbf52"/>
<circle cx="299.7" cy="63.5" r="0.7" fill="#b6a838"/>
<circle cx="271.2" cy="59.1" r="0.7" fill="#c2b442"/>
<circle cx="274.8" cy="54.2" r="0.7" fill="#b6a838"/>
<circle cx="277.1" cy="81.4" r="0.7" fill="#ccbf52"/>
<circle cx="287.0" cy="59.3" r="0.7" fill="#c2b442"/>
<circle cx="268.6" cy="68.1" r="0.7" fill="#ccbf52"/>
<circle cx="297.0" cy="59.1" r="0.7" fill="#c2b442"/>
<circle cx="289.4" cy="64.8" r="0.7" fill="#ccbf52"/>
<circle cx="287.4" cy="59.0" r="0.7" fill="#ccbf52"/>
<circle cx="284.5" cy="68.2" r="0.7" fill="#ccbf52"/>
<circle cx="284.8" cy="52.1" r="0.7" fill="#ccbf52"/>
<circle cx="272.8" cy="58.7" r="0.7" fill="#b6a838"/>
<circle cx="267.4" cy="68.5" r="0.7" fill="#ccbf52"/>
<circle cx="289.9" cy="52.6" r="0.7" fill="#b6a838"/>
<circle cx="272.3" cy="58.1" r="0.7" fill="#b6a838"/>
<circle cx="269.2" cy="56.9" r="0.7" fill="#ccbf52"/>
<circle cx="299.2" cy="62.9" r="0.7" fill="#b6a838"/>
<circle cx="283.3" cy="51.8" r="0.7" fill="#b6a838"/>
<circle cx="270.0" cy="78.0" r="0.7" fill="#c2b442"/>
<circle cx="290.1" cy="56.7" r="0.7" fill="#c2b442"/>
<circle cx="265.9" cy="83.1" r="0.7" fill="#ccbf52"/>
<circle cx="291.6" cy="62.9" r="0.7" fill="#b6a838"/>
<circle cx="288.2" cy="51.1" r="0.7" fill="#ccbf52"/>
<circle cx="287.7" cy="50.9" r="0.7" fill="#c2b442"/>
<circle cx="290.0" cy="64.3" r="0.7" fill="#c2b442"/>
<circle cx="293.5" cy="57.9" r="0.7" fill="#b6a838"/>
<circle cx="274.0" cy="82.3" r="0.7" fill="#ccbf52"/>
<circle cx="298.2" cy="59.6" r="0.7" fill="#b6a838"/>
<circle cx="279.4" cy="53.3" r="0.7" fill="#ccbf52"/>
<circle cx="285.9" cy="65.9" r="0.7" fill="#ccbf52"/>
<circle cx="292.2" cy="63.2" r="0.7" fill="#c2b442"/>
<circle cx="284.7" cy="53.1" r="0.7" fill="#b6a838"/>
<circle cx="294.5" cy="56.1" r="0.7" fill="#ccbf52"/>
<circle cx="299.5" cy="57.0" r="0.7" fill="#c2b442"/>
<circle cx="271.7" cy="53.6" r="0.7" fill="#b6a838"/>
<circle cx="279.7" cy="69.0" r="0.7" fill="#ccbf52"/>
<circle cx="280.6" cy="75.0" r="0.7" fill="#ccbf52"/>
<circle cx="266.8" cy="86.5" r="0.7" fill="#b6a838"/>
<circle cx="280.7" cy="49.7" r="0.7" fill="#b6a838"/>
<circle cx="283.0" cy="65.8" r="0.7" fill="#b6a838"/>
<circle cx="269.3" cy="64.7" r="0.7" fill="#ccbf52"/>
<circle cx="293.9" cy="53.6" r="0.7" fill="#ccbf52"/>
<circle cx="278.8" cy="49.3" r="0.7" fill="#b6a838"/>
<circle cx="286.3" cy="55.4" r="0.7" fill="#ccbf52"/>
<circle cx="276.0" cy="62.3" r="0.7" fill="#c2b442"/>
<circle cx="292.5" cy="54.2" r="0.7" fill="#c2b442"/>
<circle cx="280.8" cy="50.8" r="0.7" fill="#ccbf52"/>
<circle cx="301.3" cy="59.3" r="0.7" fill="#ccbf52"/>
<circle cx="295.2" cy="58.5" r="0.7" fill="#b6a838"/>
<circle cx="290.7" cy="57.9" r="0.7" fill="#ccbf52"/>
<circle cx="265.3" cy="89.8" r="0.7" fill="#ccbf52"/>
<circle cx="271.4" cy="57.4" r="0.7" fill="#ccbf52"/>
<circle cx="293.6" cy="64.6" r="0.7" fill="#c2b442"/>
<circle cx="275.3" cy="66.6" r="0.7" fill="#c2b442"/>
<circle cx="271.1" cy="86.7" r="0.7" fill="#ccbf52"/>
<circle cx="276.6" cy="52.8" r="0.7" fill="#c2b442"/>
<circle cx="273.8" cy="77.1" r="0.7" fill="#c2b442"/>
<circle cx="269.4" cy="75.4" r="0.7" fill="#c2b442"/>
<circle cx="290.3" cy="60.9" r="0.7" fill="#b6a838"/>
<circle cx="292.2" cy="58.2" r="0.7" fill="#ccbf52"/>
<circle cx="269.6" cy="59.7" r="0.7" fill="#b6a838"/>
<circle cx="268.0" cy="66.8" r="0.7" fill="#b6a838"/>
<circle cx="265.3" cy="84.6" r="0.7" fill="#ccbf52"/>
<circle cx="281.5" cy="51.9" r="0.7" fill="#b6a838"/>
<circle cx="285.6" cy="66.8" r="0.7" fill="#ccbf52"/>
<circle cx="287.3" cy="62.3" r="0.7" fill="#b6a838"/>
<circle cx="270.8" cy="76.0" r="0.7" fill="#c2b442"/>
<circle cx="283.5" cy="54.1" r="0.7" fill="#c2b442"/>
<circle cx="287.5" cy="59.5" r="0.7" fill="#ccbf52"/>
<circle cx="277.8" cy="52.3" r="0.7" fill="#c2b442"/>
<circle cx="273.5" cy="76.4" r="0.7" fill="#b6a838"/>
<circle cx="273.9" cy="78.8" r="0.7" fill="#ccbf52"/>
<circle cx="278.6" cy="65.8" r="0.7" fill="#b6a838"/>
<circle cx="268.1" cy="70.3" r="0.7" fill="#ccbf52"/>
<circle cx="290.2" cy="54.4" r="0.7" fill="#b6a838"/>
<circle cx="277.4" cy="54.1" r="0.7" fill="#ccbf52"/>
<circle cx="270.1" cy="56.6" r="0.7" fill="#ccbf52"/>
<circle cx="294.7" cy="56.9" r="0.7" fill="#b6a838"/>
<circle cx="271.4" cy="78.9" r="0.7" fill="#c2b442"/>
<circle cx="294.9" cy="56.4" r="0.7" fill="#ccbf52"/>
<circle cx="273.4" cy="64.8" r="0.7" fill="#ccbf52"/>
<circle cx="282.0" cy="73.7" r="0.7" fill="#b6a838"/>
<circle cx="270.7" cy="83.3" r="0.7" fill="#ccbf52"/>
<circle cx="270.6" cy="65.0" r="0.7" fill="#ccbf52"/>
<circle cx="275.5" cy="67.4" r="0.7" fill="#b6a838"/>
<circle cx="268.3" cy="77.8" r="0.7" fill="#c2b442"/>
<circle cx="290.8" cy="55.4" r="0.7" fill="#b6a838"/>
<circle cx="295.0" cy="55.3" r="0.7" fill="#c2b442"/>
<circle cx="273.4" cy="79.9" r="0.7" fill="#b6a838"/>
<circle cx="279.5" cy="51.2" r="0.7" fill="#ccbf52"/>
<circle cx="278.2" cy="60.6" r="0.7" fill="#b6a838"/>
<circle cx="268.0" cy="81.7" r="0.7" fill="#b6a838"/>
<circle cx="274.3" cy="52.8" r="0.7" fill="#c2b442"/>
<circle cx="298.9" cy="64.5" r="0.7" fill="#ccbf52"/>
<circle cx="283.1" cy="60.2" r="0.7" fill="#c2b442"/>
<circle cx="268.8" cy="70.2" r="0.7" fill="#c2b442"/>
<circle cx="273.8" cy="64.9" r="0.7" fill="#c2b442"/>
<circle cx="277.3" cy="72.9" r="0.7" fill="#ccbf52"/>
<circle cx="274.3" cy="80.4" r="0.7" fill="#c2b442"/>
<circle cx="275.9" cy="65.4" r="0.7" fill="#b6a838"/>
<circle cx="279.8" cy="66.5" r="0.7" fill="#c2b442"/>
<circle cx="278.4" cy="78.9" r="0.7" fill="#c2b442"/>
<circle cx="279.1" cy="66.9" r="0.7" fill="#c2b442"/>
<circle cx="269.7" cy="84.2" r="0.7" fill="#ccbf52"/>
<circle cx="277.8" cy="65.0" r="0.7" fill="#c2b442"/>
<circle cx="269.9" cy="64.2" r="0.7" fill="#b6a838"/>
<circle cx="273.9" cy="76.7" r="0.7" fill="#ccbf52"/>
<circle cx="275.9" cy="48.4" r="0.7" fill="#c2b442"/>
<circle cx="288.0" cy="56.2" r="0.7" fill="#b6a838"/>
<circle cx="277.9" cy="68.4" r="0.7" fill="#c2b442"/>
<circle cx="274.3" cy="64.1" r="0.7" fill="#ccbf52"/>
<circle cx="277.7" cy="61.8" r="0.7" fill="#b6a838"/>
<circle cx="279.8" cy="67.9" r="0.7" fill="#b6a838"/>
<circle cx="274.8" cy="69.4" r="0.7" fill="#ccbf52"/>
<circle cx="289.4" cy="63.0" r="0.7" fill="#b6a838"/>
<circle cx="276.0" cy="58.3" r="0.7" fill="#ccbf52"/>
<circle cx="279.1" cy="73.8" r="0.7" fill="#ccbf52"/>
<circle cx="281.1" cy="64.5" r="0.7" fill="#c2b442"/>
<circle cx="269.5" cy="81.3" r="0.7" fill="#b6a838"/>
<circle cx="284.5" cy="55.6" r="0.7" fill="#ccbf52"/>
<circle cx="296.7" cy="63.1" r="0.7" fill="#c2b442"/>
<circle cx="271.4" cy="76.5" r="0.7" fill="#b6a838"/>
<circle cx="272.9" cy="51.0" r="0.7" fill="#c2b442"/>
<circle cx="275.4" cy="58.8" r="0.7" fill="#ccbf52"/>
<circle cx="295.2" cy="56.5" r="0.7" fill="#c2b442"/>
<circle cx="278.4" cy="60.1" r="0.7" fill="#c2b442"/>
<circle cx="267.6" cy="72.4" r="0.7" fill="#ccbf52"/>
<circle cx="293.0" cy="63.1" r="0.7" fill="#ccbf52"/>
<circle cx="289.5" cy="56.7" r="0.7" fill="#c2b442"/>
<circle cx="287.1" cy="62.0" r="0.7" fill="#ccbf52"/>
<circle cx="275.8" cy="52.2" r="0.7" fill="#c2b442"/>
<circle cx="275.0" cy="80.2" r="0.7" fill="#c2b442"/>
<circle cx="294.9" cy="58.5" r="0.7" fill="#ccbf52"/>
<circle cx="300.7" cy="60.3" r="0.7" fill="#ccbf52"/>
<circle cx="300.2" cy="59.6" r="0.7" fill="#ccbf52"/>
<circle cx="278.7" cy="78.5" r="0.7" fill="#b6a838"/>
<circle cx="285.2" cy="55.8" r="0.7" fill="#b6a838"/>
<circle cx="278.8" cy="70.1" r="0.7" fill="#c2b442"/>
<circle cx="288.5" cy="59.8" r="0.7" fill="#b6a838"/>
<circle cx="275.9" cy="67.8" r="0.7" fill="#ccbf52"/>
<circle cx="288.3" cy="61.7" r="0.7" fill="#c2b442"/>
<circle cx="282.0" cy="61.2" r="0.7" fill="#ccbf52"/>
<circle cx="294.7" cy="56.6" r="0.7" fill="#c2b442"/>
<circle cx="271.9" cy="70.5" r="0.7" fill="#c2b442"/>
<circle cx="278.0" cy="70.1" r="0.7" fill="#c2b442"/>
<circle cx="272.8" cy="55.5" r="0.7" fill="#b6a838"/>
<circle cx="272.9" cy="80.4" r="0.7" fill="#ccbf52"/>
<circle cx="274.6" cy="54.9" r="0.7" fill="#ccbf52"/>
<circle cx="292.7" cy="64.1" r="0.7" fill="#c2b442"/>
<circle cx="280.7" cy="63.8" r="0.7" fill="#ccbf52"/>
<circle cx="276.9" cy="50.1" r="0.7" fill="#b6a838"/>
<circle cx="279.4" cy="54.5" r="0.7" fill="#c2b442"/>
<circle cx="291.6" cy="53.1" r="0.7" fill="#c2b442"/>
<circle cx="293.0" cy="57.5" r="0.7" fill="#b6a838"/>
<circle cx="275.6" cy="63.4" r="0.7" fill="#b6a838"/>
<circle cx="281.6" cy="69.2" r="0.7" fill="#ccbf52"/>
<circle cx="274.7" cy="84.4" r="0.7" fill="#c2b442"/>
<circle cx="280.4" cy="52.0" r="0.55" fill="#f7f3da"/>
<circle cx="279.6" cy="49.3" r="0.55" fill="#f7f3da"/>
<circle cx="266.2" cy="88.9" r="0.55" fill="#ffffff"/>
<circle cx="282.3" cy="60.1" r="0.55" fill="#ffffff"/>
<circle cx="290.7" cy="52.7" r="0.55" fill="#f7f3da"/>
<circle cx="271.3" cy="80.4" r="0.55" fill="#ffffff"/>
<circle cx="269.7" cy="81.8" r="0.55" fill="#ffffff"/>
<circle cx="282.4" cy="74.4" r="0.55" fill="#f7f3da"/>
<circle cx="279.3" cy="50.7" r="0.55" fill="#f7f3da"/>
<circle cx="271.2" cy="80.0" r="0.55" fill="#f7f3da"/>
<circle cx="276.1" cy="52.4" r="0.55" fill="#ffffff"/>
<circle cx="276.6" cy="67.2" r="0.55" fill="#ffffff"/>
<circle cx="274.2" cy="51.8" r="0.55" fill="#ffffff"/>
<circle cx="275.4" cy="64.7" r="0.55" fill="#f7f3da"/>
<circle cx="297.8" cy="63.9" r="0.55" fill="#ffffff"/>
<circle cx="286.7" cy="62.0" r="0.55" fill="#ffffff"/>
<circle cx="272.3" cy="82.2" r="0.55" fill="#f7f3da"/>
<circle cx="272.1" cy="75.6" r="0.55" fill="#ffffff"/>
<circle cx="268.7" cy="60.0" r="0.55" fill="#f7f3da"/>
<circle cx="289.4" cy="62.5" r="0.55" fill="#f7f3da"/>
<circle cx="286.8" cy="65.3" r="0.55" fill="#ffffff"/>
<circle cx="292.9" cy="65.3" r="0.55" fill="#ffffff"/>
<circle cx="271.1" cy="49.8" r="0.55" fill="#ffffff"/>
<circle cx="277.5" cy="52.6" r="0.55" fill="#f7f3da"/>
<circle cx="272.5" cy="70.3" r="0.55" fill="#ffffff"/>
<circle cx="270.0" cy="53.9" r="0.55" fill="#f7f3da"/>
<circle cx="274.2" cy="75.0" r="0.55" fill="#ffffff"/>
<circle cx="291.9" cy="65.7" r="0.55" fill="#f7f3da"/>
<circle cx="295.1" cy="59.6" r="0.55" fill="#f7f3da"/>
<circle cx="288.1" cy="61.4" r="0.55" fill="#f7f3da"/>
<circle cx="298.6" cy="59.5" r="0.55" fill="#ffffff"/>
<circle cx="267.6" cy="82.0" r="0.55" fill="#f7f3da"/>
<circle cx="294.8" cy="62.3" r="0.55" fill="#ffffff"/>
<circle cx="279.2" cy="53.4" r="0.55" fill="#ffffff"/>
<circle cx="274.6" cy="79.0" r="0.55" fill="#f7f3da"/>
<circle cx="275.9" cy="74.3" r="0.55" fill="#ffffff"/>
<circle cx="276.7" cy="75.4" r="0.55" fill="#f7f3da"/>
<circle cx="284.4" cy="68.8" r="0.55" fill="#ffffff"/>
<circle cx="266.2" cy="87.4" r="0.55" fill="#ffffff"/>
<circle cx="267.6" cy="85.9" r="0.55" fill="#f7f3da"/>
<circle cx="279.0" cy="56.8" r="0.55" fill="#f7f3da"/>
<circle cx="267.4" cy="67.9" r="0.55" fill="#f7f3da"/>
<circle cx="265.3" cy="85.6" r="0.55" fill="#ffffff"/>
<circle cx="275.2" cy="48.4" r="0.55" fill="#f7f3da"/>
<circle cx="269.3" cy="66.9" r="0.55" fill="#f7f3da"/>
<circle cx="274.2" cy="57.9" r="0.55" fill="#ffffff"/>
<circle cx="279.2" cy="75.2" r="0.55" fill="#ffffff"/>
<circle cx="277.6" cy="82.8" r="0.55" fill="#ffffff"/>
<circle cx="278.7" cy="55.3" r="0.55" fill="#f7f3da"/>
<circle cx="268.5" cy="77.1" r="0.55" fill="#f7f3da"/>
<circle cx="270.1" cy="56.2" r="0.55" fill="#ffffff"/>
<circle cx="288.9" cy="55.8" r="0.55" fill="#f7f3da"/>
<circle cx="290.6" cy="60.6" r="0.55" fill="#ffffff"/>
<circle cx="292.3" cy="53.2" r="0.55" fill="#f7f3da"/>
<circle cx="279.7" cy="50.0" r="0.55" fill="#ffffff"/>
<circle cx="290.4" cy="64.1" r="0.55" fill="#ffffff"/>
<circle cx="268.2" cy="87.6" r="0.55" fill="#ffffff"/>
<circle cx="277.5" cy="71.8" r="0.55" fill="#ffffff"/>
<circle cx="276.0" cy="81.3" r="0.55" fill="#f7f3da"/>
<circle cx="270.0" cy="73.7" r="0.55" fill="#ffffff"/>
<circle cx="292.5" cy="54.6" r="0.55" fill="#ffffff"/>
<circle cx="284.4" cy="52.2" r="0.55" fill="#f7f3da"/>
<circle cx="274.9" cy="71.2" r="0.55" fill="#ffffff"/>
<circle cx="296.4" cy="64.9" r="0.55" fill="#f7f3da"/>
<circle cx="280.7" cy="71.4" r="0.55" fill="#ffffff"/>
<circle cx="283.3" cy="50.3" r="0.55" fill="#f7f3da"/>
<circle cx="284.9" cy="59.9" r="0.55" fill="#f7f3da"/>
<circle cx="269.1" cy="69.0" r="0.55" fill="#f7f3da"/>
<circle cx="290.5" cy="63.4" r="0.55" fill="#ffffff"/>
<circle cx="301.3" cy="59.5" r="0.55" fill="#f7f3da"/>
<circle cx="279.0" cy="55.4" r="0.55" fill="#f7f3da"/>
<circle cx="284.0" cy="53.2" r="0.55" fill="#f7f3da"/>
<circle cx="271.5" cy="76.6" r="0.55" fill="#ffffff"/>
<circle cx="274.7" cy="82.6" r="0.55" fill="#ffffff"/>
<circle cx="296.0" cy="61.3" r="0.55" fill="#f7f3da"/>
<circle cx="279.1" cy="78.6" r="0.55" fill="#ffffff"/>
<circle cx="267.2" cy="73.3" r="0.55" fill="#ffffff"/>
<circle cx="263.7" cy="86.6" r="0.55" fill="#f7f3da"/>
<circle cx="276.0" cy="73.8" r="0.55" fill="#f7f3da"/>
<circle cx="270.0" cy="85.7" r="0.55" fill="#f7f3da"/>
<circle cx="282.5" cy="65.6" r="0.55" fill="#f7f3da"/>
<circle cx="293.0" cy="56.2" r="0.55" fill="#f7f3da"/>
<circle cx="297.9" cy="57.7" r="0.55" fill="#f7f3da"/>
<circle cx="275.4" cy="74.9" r="0.55" fill="#f7f3da"/>
<circle cx="282.7" cy="62.1" r="0.55" fill="#f7f3da"/>
<circle cx="286.0" cy="58.7" r="0.55" fill="#f7f3da"/>
<circle cx="271.3" cy="86.5" r="0.55" fill="#ffffff"/>
<circle cx="271.3" cy="69.5" r="0.55" fill="#f7f3da"/>
<circle cx="294.9" cy="59.2" r="0.55" fill="#ffffff"/>
<circle cx="288.1" cy="56.1" r="0.55" fill="#ffffff"/>
<circle cx="272.4" cy="82.1" r="0.55" fill="#ffffff"/>
<circle cx="291.4" cy="54.9" r="0.55" fill="#f7f3da"/>
<circle cx="272.6" cy="72.9" r="0.55" fill="#f7f3da"/>
<circle cx="287.3" cy="53.0" r="0.55" fill="#ffffff"/>
<circle cx="290.2" cy="62.3" r="0.55" fill="#f7f3da"/>
<circle cx="295.0" cy="54.3" r="0.55" fill="#ffffff"/>
<circle cx="290.1" cy="53.0" r="0.55" fill="#f7f3da"/>
<circle cx="297.0" cy="55.3" r="0.55" fill="#f7f3da"/>
<circle cx="279.8" cy="75.6" r="0.55" fill="#ffffff"/>
<circle cx="279.6" cy="77.2" r="0.55" fill="#ffffff"/>
<circle cx="295.8" cy="57.7" r="0.55" fill="#ffffff"/>
<circle cx="276.5" cy="65.6" r="0.55" fill="#ffffff"/>
<circle cx="274.6" cy="70.0" r="0.55" fill="#f7f3da"/>
<circle cx="276.1" cy="78.2" r="0.55" fill="#f7f3da"/>
<circle cx="268.7" cy="88.6" r="0.55" fill="#ffffff"/>
<circle cx="269.7" cy="87.5" r="0.55" fill="#f7f3da"/>
<circle cx="271.1" cy="81.9" r="0.55" fill="#ffffff"/>
<circle cx="296.5" cy="61.8" r="0.55" fill="#ffffff"/>
<circle cx="294.8" cy="62.7" r="0.55" fill="#f7f3da"/>
<circle cx="267.1" cy="70.0" r="0.55" fill="#f7f3da"/>
<circle cx="266.2" cy="88.5" r="0.55" fill="#f7f3da"/>
<circle cx="267.3" cy="70.5" r="0.55" fill="#ffffff"/>
<circle cx="289.0" cy="52.8" r="0.55" fill="#ffffff"/>
<circle cx="275.7" cy="73.7" r="0.55" fill="#ffffff"/>
<circle cx="292.1" cy="64.5" r="0.55" fill="#ffffff"/>
<circle cx="267.5" cy="69.1" r="0.55" fill="#ffffff"/>
<circle cx="273.2" cy="76.4" r="0.55" fill="#f7f3da"/>
<circle cx="272.5" cy="84.9" r="0.55" fill="#ffffff"/>
<circle cx="277.9" cy="71.1" r="0.55" fill="#f7f3da"/>
<circle cx="296.0" cy="63.0" r="0.55" fill="#f7f3da"/>
<circle cx="288.4" cy="54.3" r="0.55" fill="#ffffff"/>
<circle cx="268.6" cy="86.8" r="0.55" fill="#ffffff"/>
<circle cx="263.5" cy="86.7" r="0.55" fill="#f7f3da"/>
<circle cx="270.5" cy="82.8" r="0.55" fill="#f7f3da"/>
<circle cx="299.6" cy="58.9" r="0.55" fill="#f7f3da"/>
<circle cx="272.3" cy="82.6" r="0.55" fill="#f7f3da"/>
<circle cx="285.9" cy="54.8" r="0.55" fill="#f7f3da"/>
<circle cx="268.0" cy="75.7" r="0.55" fill="#f7f3da"/>
<circle cx="270.3" cy="72.5" r="0.55" fill="#ffffff"/>
<circle cx="273.2" cy="83.0" r="0.55" fill="#ffffff"/>
<circle cx="272.9" cy="67.6" r="0.55" fill="#f7f3da"/>
<circle cx="280.3" cy="63.0" r="0.55" fill="#ffffff"/>
<circle cx="271.2" cy="78.3" r="0.55" fill="#ffffff"/>
<circle cx="275.2" cy="59.7" r="0.55" fill="#ffffff"/>
<circle cx="266.8" cy="69.2" r="0.55" fill="#f7f3da"/>
<circle cx="280.1" cy="54.5" r="0.55" fill="#f7f3da"/>
<circle cx="274.9" cy="56.7" r="0.55" fill="#f7f3da"/>
<circle cx="287.6" cy="57.5" r="0.55" fill="#ffffff"/>
<circle cx="271.9" cy="61.0" r="0.55" fill="#f7f3da"/>
<circle cx="273.7" cy="53.2" r="0.55" fill="#f7f3da"/>
<circle cx="280.6" cy="76.2" r="0.55" fill="#ffffff"/>
<circle cx="288.0" cy="61.5" r="0.55" fill="#f7f3da"/>
<circle cx="271.7" cy="53.3" r="0.55" fill="#ffffff"/>
<circle cx="275.7" cy="74.6" r="0.55" fill="#ffffff"/>
<circle cx="269.9" cy="82.9" r="0.55" fill="#f7f3da"/>
<circle cx="280.8" cy="57.7" r="0.55" fill="#f7f3da"/>
<circle cx="282.3" cy="52.2" r="0.55" fill="#ffffff"/>
<circle cx="299.5" cy="63.6" r="0.55" fill="#ffffff"/>
<circle cx="291.8" cy="57.4" r="0.55" fill="#ffffff"/>
<circle cx="285.2" cy="59.6" r="0.55" fill="#f7f3da"/>
<circle cx="269.7" cy="80.7" r="0.55" fill="#f7f3da"/>
<circle cx="272.5" cy="75.5" r="0.55" fill="#ffffff"/>
<circle cx="277.6" cy="57.7" r="0.55" fill="#f7f3da"/>
<circle cx="272.1" cy="64.0" r="0.55" fill="#f7f3da"/>
<circle cx="287.0" cy="50.4" r="0.55" fill="#ffffff"/>
<circle cx="276.6" cy="49.4" r="0.55" fill="#f7f3da"/>
<circle cx="267.6" cy="73.1" r="0.55" fill="#ffffff"/>
<circle cx="292.5" cy="63.9" r="0.55" fill="#ffffff"/>
<circle cx="275.4" cy="77.1" r="0.55" fill="#f7f3da"/>
<circle cx="272.5" cy="68.3" r="0.55" fill="#f7f3da"/>
<circle cx="267.6" cy="71.7" r="0.55" fill="#ffffff"/>
<circle cx="275.9" cy="77.2" r="0.55" fill="#f7f3da"/>
<circle cx="298.6" cy="62.2" r="0.55" fill="#f7f3da"/>
<circle cx="297.4" cy="62.5" r="0.55" fill="#f7f3da"/>
<circle cx="283.1" cy="59.3" r="0.55" fill="#ffffff"/>
<circle cx="279.3" cy="54.7" r="0.55" fill="#ffffff"/>
<circle cx="294.1" cy="60.7" r="0.55" fill="#f7f3da"/>
<circle cx="277.1" cy="65.0" r="0.55" fill="#ffffff"/>
<circle cx="274.2" cy="68.6" r="0.55" fill="#f7f3da"/>
<circle cx="285.8" cy="64.3" r="0.55" fill="#ffffff"/>
<polygon points="262.6,86.9 264.8,89.8 262.6,94.6 261.6,100.4 259.7,107.1 255.8,112.4 251.0,113.9 249.6,108.1 252.0,101.4 255.8,94.6 259.7,89.8" fill="#46a850"/>
<circle cx="253.1" cy="110.6" r="0.7" fill="#2b9a38"/>
<circle cx="253.7" cy="105.8" r="0.7" fill="#3aa846"/>
<circle cx="260.1" cy="98.4" r="0.7" fill="#3aa846"/>
<circle cx="258.1" cy="100.2" r="0.7" fill="#2b9a38"/>
<circle cx="251.7" cy="106.1" r="0.7" fill="#2b9a38"/>
<circle cx="260.3" cy="89.7" r="0.7" fill="#2b9a38"/>
<circle cx="261.5" cy="90.4" r="0.7" fill="#2b9a38"/>
<circle cx="260.8" cy="101.5" r="0.7" fill="#3aa846"/>
<circle cx="251.5" cy="108.5" r="0.7" fill="#2b9a38"/>
<circle cx="261.5" cy="96.8" r="0.7" fill="#1f8a2c"/>
<circle cx="252.2" cy="112.9" r="0.7" fill="#3aa846"/>
<circle cx="252.9" cy="105.1" r="0.7" fill="#1f8a2c"/>
<circle cx="263.4" cy="90.5" r="0.7" fill="#1f8a2c"/>
<circle cx="258.7" cy="105.8" r="0.7" fill="#1f8a2c"/>
<circle cx="258.4" cy="99.2" r="0.7" fill="#2b9a38"/>
<circle cx="257.3" cy="95.4" r="0.7" fill="#2b9a38"/>
<circle cx="258.0" cy="102.8" r="0.7" fill="#3aa846"/>
<circle cx="252.7" cy="108.2" r="0.7" fill="#1f8a2c"/>
<circle cx="253.8" cy="98.5" r="0.7" fill="#3aa846"/>
<circle cx="264.0" cy="91.1" r="0.7" fill="#3aa846"/>
<circle cx="261.6" cy="96.0" r="0.7" fill="#1f8a2c"/>
<circle cx="251.6" cy="105.9" r="0.7" fill="#2b9a38"/>
<circle cx="256.2" cy="102.0" r="0.7" fill="#1f8a2c"/>
<circle cx="254.2" cy="102.0" r="0.7" fill="#1f8a2c"/>
<circle cx="252.4" cy="111.7" r="0.7" fill="#3aa846"/>
<circle cx="257.9" cy="103.8" r="0.7" fill="#3aa846"/>
<circle cx="260.1" cy="94.4" r="0.7" fill="#2b9a38"/>
<circle cx="257.3" cy="106.2" r="0.7" fill="#1f8a2c"/>
<circle cx="253.2" cy="107.0" r="0.7" fill="#2b9a38"/>
<circle cx="258.2" cy="96.8" r="0.7" fill="#2b9a38"/>
<circle cx="261.1" cy="92.0" r="0.7" fill="#3aa846"/>
<circle cx="256.1" cy="109.8" r="0.7" fill="#2b9a38"/>
<circle cx="256.3" cy="98.0" r="0.7" fill="#1f8a2c"/>
<circle cx="257.2" cy="96.6" r="0.7" fill="#3aa846"/>
<circle cx="258.7" cy="95.6" r="0.7" fill="#2b9a38"/>
<circle cx="253.2" cy="100.2" r="0.7" fill="#1f8a2c"/>
<circle cx="253.3" cy="102.6" r="0.7" fill="#3aa846"/>
<circle cx="263.9" cy="89.3" r="0.7" fill="#2b9a38"/>
<circle cx="254.6" cy="105.6" r="0.7" fill="#3aa846"/>
<circle cx="251.0" cy="104.8" r="0.7" fill="#1f8a2c"/>
<circle cx="252.3" cy="113.0" r="0.7" fill="#2b9a38"/>
<circle cx="259.3" cy="96.1" r="0.7" fill="#2b9a38"/>
<circle cx="256.3" cy="110.5" r="0.7" fill="#2b9a38"/>
<circle cx="255.8" cy="102.0" r="0.7" fill="#2b9a38"/>
<circle cx="260.0" cy="100.1" r="0.7" fill="#2b9a38"/>
<circle cx="252.4" cy="106.6" r="0.7" fill="#2b9a38"/>
<circle cx="254.7" cy="105.1" r="0.7" fill="#3aa846"/>
<circle cx="261.1" cy="100.9" r="0.7" fill="#3aa846"/>
<circle cx="263.4" cy="91.1" r="0.7" fill="#3aa846"/>
<circle cx="253.6" cy="102.9" r="0.7" fill="#2b9a38"/>
<circle cx="258.5" cy="107.7" r="0.7" fill="#1f8a2c"/>
<circle cx="255.4" cy="103.4" r="0.7" fill="#1f8a2c"/>
<circle cx="257.8" cy="105.3" r="0.7" fill="#1f8a2c"/>
<circle cx="254.3" cy="103.4" r="0.7" fill="#3aa846"/>
<circle cx="256.1" cy="102.6" r="0.7" fill="#3aa846"/>
<circle cx="251.2" cy="111.6" r="0.7" fill="#1f8a2c"/>
<circle cx="255.0" cy="100.5" r="0.7" fill="#1f8a2c"/>
<circle cx="260.2" cy="91.4" r="0.7" fill="#3aa846"/>
<circle cx="253.8" cy="105.1" r="0.7" fill="#2b9a38"/>
<circle cx="257.2" cy="98.2" r="0.7" fill="#1f8a2c"/>
<circle cx="260.6" cy="89.5" r="0.7" fill="#1f8a2c"/>
<circle cx="253.4" cy="108.3" r="0.7" fill="#2b9a38"/>
<circle cx="258.0" cy="106.6" r="0.7" fill="#1f8a2c"/>
<circle cx="254.5" cy="105.4" r="0.7" fill="#1f8a2c"/>
<circle cx="257.1" cy="93.9" r="0.7" fill="#1f8a2c"/>
<circle cx="254.5" cy="97.7" r="0.7" fill="#1f8a2c"/>
<circle cx="257.9" cy="98.0" r="0.7" fill="#1f8a2c"/>
<circle cx="251.1" cy="111.8" r="0.7" fill="#1f8a2c"/>
<circle cx="254.7" cy="112.3" r="0.7" fill="#3aa846"/>
<circle cx="256.8" cy="93.6" r="0.7" fill="#2b9a38"/>
<circle cx="250.9" cy="112.0" r="0.7" fill="#2b9a38"/>
<circle cx="257.7" cy="95.4" r="0.7" fill="#2b9a38"/>
<circle cx="256.8" cy="104.3" r="0.7" fill="#2b9a38"/>
<circle cx="252.0" cy="109.4" r="0.7" fill="#3aa846"/>
<circle cx="260.3" cy="102.0" r="0.7" fill="#1f8a2c"/>
<circle cx="260.1" cy="96.0" r="0.7" fill="#2b9a38"/>
<circle cx="258.8" cy="91.0" r="0.7" fill="#1f8a2c"/>
<circle cx="252.6" cy="105.0" r="0.7" fill="#2b9a38"/>
<circle cx="255.8" cy="103.6" r="0.7" fill="#3aa846"/>
<circle cx="254.6" cy="104.7" r="0.7" fill="#2b9a38"/>
<circle cx="263.9" cy="90.7" r="0.7" fill="#3aa846"/>
<circle cx="260.9" cy="94.4" r="0.7" fill="#2b9a38"/>
<circle cx="259.8" cy="106.8" r="0.7" fill="#2b9a38"/>
<circle cx="250.5" cy="108.5" r="0.7" fill="#3aa846"/>
<circle cx="259.3" cy="93.9" r="0.7" fill="#1f8a2c"/>
<circle cx="261.8" cy="96.7" r="0.7" fill="#2b9a38"/>
<circle cx="256.3" cy="105.3" r="0.7" fill="#3aa846"/>
<circle cx="254.0" cy="99.3" r="0.7" fill="#1f8a2c"/>
<circle cx="260.8" cy="96.7" r="0.7" fill="#1f8a2c"/>
<circle cx="263.0" cy="91.1" r="0.7" fill="#2b9a38"/>
<circle cx="251.7" cy="111.2" r="0.7" fill="#3aa846"/>
<circle cx="256.4" cy="110.9" r="0.7" fill="#1f8a2c"/>
<circle cx="255.4" cy="101.7" r="0.7" fill="#2b9a38"/>
<circle cx="260.5" cy="92.8" r="0.7" fill="#2b9a38"/>
<circle cx="257.2" cy="102.2" r="0.7" fill="#2b9a38"/>
<circle cx="260.3" cy="90.3" r="0.7" fill="#2b9a38"/>
<circle cx="259.3" cy="95.8" r="0.7" fill="#2b9a38"/>
<circle cx="255.5" cy="111.2" r="0.7" fill="#2b9a38"/>
<circle cx="259.1" cy="102.4" r="0.7" fill="#1f8a2c"/>
<circle cx="253.0" cy="100.0" r="0.7" fill="#1f8a2c"/>
<circle cx="261.4" cy="99.4" r="0.7" fill="#1f8a2c"/>
<circle cx="262.4" cy="88.9" r="0.7" fill="#1f8a2c"/>
<circle cx="261.8" cy="98.7" r="0.7" fill="#3aa846"/>
<circle cx="261.2" cy="92.2" r="0.7" fill="#2b9a38"/>
<circle cx="257.1" cy="108.9" r="0.7" fill="#1f8a2c"/>
<circle cx="254.6" cy="96.8" r="0.7" fill="#1f8a2c"/>
<circle cx="259.8" cy="91.2" r="0.7" fill="#3aa846"/>
<circle cx="259.4" cy="106.8" r="0.7" fill="#3aa846"/>
<circle cx="257.3" cy="109.7" r="0.7" fill="#1f8a2c"/>
<circle cx="256.9" cy="105.9" r="0.7" fill="#3aa846"/>
<circle cx="254.2" cy="103.3" r="0.55" fill="#ffffff"/>
<circle cx="259.2" cy="92.0" r="0.55" fill="#d6eed8"/>
<circle cx="254.5" cy="104.7" r="0.55" fill="#d6eed8"/>
<circle cx="252.0" cy="108.3" r="0.55" fill="#d6eed8"/>
<circle cx="256.0" cy="105.7" r="0.55" fill="#ffffff"/>
<circle cx="255.7" cy="100.6" r="0.55" fill="#d6eed8"/>
<circle cx="260.4" cy="103.8" r="0.55" fill="#ffffff"/>
<circle cx="261.8" cy="93.4" r="0.55" fill="#ffffff"/>
<circle cx="252.6" cy="102.8" r="0.55" fill="#ffffff"/>
<circle cx="261.7" cy="97.4" r="0.55" fill="#ffffff"/>
<circle cx="255.4" cy="109.3" r="0.55" fill="#d6eed8"/>
<circle cx="259.1" cy="102.7" r="0.55" fill="#ffffff"/>
<circle cx="261.6" cy="91.3" r="0.55" fill="#ffffff"/>
<circle cx="257.9" cy="104.2" r="0.55" fill="#d6eed8"/>
<circle cx="250.8" cy="109.5" r="0.55" fill="#d6eed8"/>
<circle cx="253.0" cy="112.3" r="0.55" fill="#ffffff"/>
<circle cx="261.9" cy="96.0" r="0.55" fill="#ffffff"/>
<circle cx="252.1" cy="112.6" r="0.55" fill="#ffffff"/>
<circle cx="259.5" cy="97.9" r="0.55" fill="#d6eed8"/>
<circle cx="262.4" cy="87.8" r="0.55" fill="#ffffff"/>
<circle cx="254.2" cy="101.4" r="0.55" fill="#d6eed8"/>
<circle cx="256.7" cy="97.4" r="0.55" fill="#d6eed8"/>
<circle cx="255.3" cy="103.1" r="0.55" fill="#ffffff"/>
<circle cx="252.8" cy="112.1" r="0.55" fill="#d6eed8"/>
<circle cx="254.6" cy="110.4" r="0.55" fill="#ffffff"/>
<circle cx="254.1" cy="104.1" r="0.55" fill="#d6eed8"/>
<circle cx="255.2" cy="99.6" r="0.55" fill="#ffffff"/>
<circle cx="252.6" cy="106.5" r="0.55" fill="#ffffff"/>
<circle cx="258.1" cy="107.8" r="0.55" fill="#ffffff"/>
<circle cx="253.9" cy="103.7" r="0.55" fill="#d6eed8"/>
<polygon points="276.8,59.2 280.8,57.2 283.3,63.2 280.3,68.2 276.8,66.2" fill="#fbfbf2"/>
<polygon points="289.8,56.2 292.8,55.2 293.8,59.2 290.8,60.2" fill="#fbfbf2"/>
<path d="M99.2,50 C99.4,47 100.3,44 100.9,42.2 C101.6,44 102.6,47 102.8,50 Z" fill="#7a1856"/>
<circle cx="194.50" cy="44.80" r="0.7" fill="#8a1f62" stroke="none" stroke-width="0.8"/>
<circle cx="195.50" cy="49.00" r="0.7" fill="#8a1f62" stroke="none" stroke-width="0.8"/>
<circle cx="289.60" cy="49.80" r="0.9" fill="#6b2a6a" stroke="none" stroke-width="0.8"/>
<line x1="20.50" y1="126.30" x2="20.50" y2="103.00" stroke="#111" stroke-width="1.1" />
<path d="M20.5,97.5 L17.8,104.6 L20.5,103.2 L23.2,104.6 Z" fill="#111"/>
<line x1="20.00" y1="126.50" x2="44.00" y2="126.50" stroke="#111" stroke-width="1.1" />
<path d="M49.6,126.3 L42.6,123.5 L44,126.3 L42.6,129.1 Z" fill="#111"/>
<text transform="translate(16.20,114.50) rotate(-90)" x="0" y="0" font-size="8.4" text-anchor="middle" font-weight="bold" fill="#333" textLength="21.40" lengthAdjust="spacingAndGlyphs">UMAP2</text>
<text x="21.90" y="138.50" font-size="8.4" text-anchor="start" font-weight="bold" fill="#333" textLength="21.40" lengthAdjust="spacingAndGlyphs">UMAP1</text>
<rect x="351.80" y="58.55" width="10.80" height="28.55" fill="#dcdbe1" />
<line x1="357.50" y1="55.62" x2="357.50" y2="64.04" stroke="#333" stroke-width="1" />
<line x1="356.20" y1="64.50" x2="358.80" y2="64.50" stroke="#333" stroke-width="1" />
<circle cx="356.90" cy="35.98" r="1.85" fill="#f6f6f6" stroke="#3a3a3a" stroke-width="0.95"/>
<circle cx="359.10" cy="39.64" r="1.85" fill="#f6f6f6" stroke="#3a3a3a" stroke-width="0.95"/>
<circle cx="357.50" cy="55.62" r="1.85" fill="#f6f6f6" stroke="#3a3a3a" stroke-width="0.95"/>
<circle cx="359.30" cy="60.87" r="1.85" fill="#f6f6f6" stroke="#3a3a3a" stroke-width="0.95"/>
<circle cx="357.20" cy="68.07" r="1.85" fill="#f6f6f6" stroke="#3a3a3a" stroke-width="0.95"/>
<circle cx="355.60" cy="71.97" r="1.85" fill="#f6f6f6" stroke="#3a3a3a" stroke-width="0.95"/>
<circle cx="357.50" cy="75.75" r="1.85" fill="#f6f6f6" stroke="#3a3a3a" stroke-width="0.95"/>
<path d="M357.5,51.31 L359.4,54.71 L355.6,54.71 Z" fill="#333"/>
<circle cx="370.40" cy="82.59" r="1.85" fill="#cfe3f3" stroke="#1d4a66" stroke-width="0.95"/>
<circle cx="373.00" cy="84.17" r="1.85" fill="#cfe3f3" stroke="#1d4a66" stroke-width="0.95"/>
<circle cx="376.20" cy="84.42" r="1.85" fill="#cfe3f3" stroke="#1d4a66" stroke-width="0.95"/>
<circle cx="387.90" cy="81.49" r="1.85" fill="#e9a850" stroke="#4a2e0a" stroke-width="0.95"/>
<circle cx="386.80" cy="84.66" r="1.85" fill="#e9a850" stroke="#4a2e0a" stroke-width="0.95"/>
<circle cx="391.60" cy="85.76" r="1.85" fill="#e9a850" stroke="#4a2e0a" stroke-width="0.95"/>
<line x1="348.50" y1="21.50" x2="348.50" y2="87.60" stroke="#262626" stroke-width="1.15" />
<line x1="348.10" y1="87.50" x2="398.00" y2="87.50" stroke="#262626" stroke-width="1.15" />
<line x1="345.30" y1="87.50" x2="348.60" y2="87.50" stroke="#262626" stroke-width="0.95" />
<text x="342.30" y="89.50" font-size="7.0" text-anchor="end" font-weight="normal" fill="#1c1c1c" stroke="#1c1c1c" stroke-width="0.13">0</text>
<line x1="345.30" y1="74.50" x2="348.60" y2="74.50" stroke="#262626" stroke-width="0.95" />
<text x="342.30" y="77.30" font-size="7.0" text-anchor="end" font-weight="normal" fill="#1c1c1c" stroke="#1c1c1c" stroke-width="0.13">1</text>
<line x1="345.30" y1="62.50" x2="348.60" y2="62.50" stroke="#262626" stroke-width="0.95" />
<text x="342.30" y="65.10" font-size="7.0" text-anchor="end" font-weight="normal" fill="#1c1c1c" stroke="#1c1c1c" stroke-width="0.13">2</text>
<line x1="345.30" y1="50.50" x2="348.60" y2="50.50" stroke="#262626" stroke-width="0.95" />
<text x="342.30" y="52.90" font-size="7.0" text-anchor="end" font-weight="normal" fill="#1c1c1c" stroke="#1c1c1c" stroke-width="0.13">3</text>
<line x1="345.30" y1="38.50" x2="348.60" y2="38.50" stroke="#262626" stroke-width="0.95" />
<text x="342.30" y="40.70" font-size="7.0" text-anchor="end" font-weight="normal" fill="#1c1c1c" stroke="#1c1c1c" stroke-width="0.13">4</text>
<line x1="345.30" y1="26.50" x2="348.60" y2="26.50" stroke="#262626" stroke-width="0.95" />
<text x="342.30" y="28.50" font-size="7.0" text-anchor="end" font-weight="normal" fill="#1c1c1c" stroke="#1c1c1c" stroke-width="0.13">5</text>
<line x1="357.50" y1="87.10" x2="357.50" y2="89.70" stroke="#262626" stroke-width="0.95" />
<line x1="373.50" y1="87.10" x2="373.50" y2="89.70" stroke="#262626" stroke-width="0.95" />
<line x1="388.50" y1="87.10" x2="388.50" y2="89.70" stroke="#262626" stroke-width="0.95" />
<text transform="translate(331.80,54.75) rotate(-90)" x="0" y="0" font-size="8.6" text-anchor="middle" font-weight="normal" fill="#222" textLength="27.00" lengthAdjust="spacingAndGlyphs" stroke="#222" stroke-width="0.25">% B cells</text>
<line x1="358.20" y1="16.50" x2="388.70" y2="16.50" stroke="#444" stroke-width="1" />
<text x="373.60" y="18.20" font-size="8.5" text-anchor="middle" font-weight="normal" fill="#1c1c1c" stroke="#1c1c1c" stroke-width="0.13">*</text>
<line x1="358.20" y1="25.50" x2="372.90" y2="25.50" stroke="#444" stroke-width="1" />
<text x="365.30" y="26.60" font-size="8.5" text-anchor="middle" font-weight="normal" fill="#1c1c1c" stroke="#1c1c1c" stroke-width="0.13">*</text>
<line x1="372.90" y1="33.50" x2="388.70" y2="33.50" stroke="#444" stroke-width="1" />
<text x="380.60" y="31.40" font-size="7.6" text-anchor="middle" font-weight="normal" fill="#333" stroke="#333" stroke-width="0.13">ns</text>
<text x="371.20" y="32.30" font-size="6" text-anchor="middle" font-weight="normal" fill="#1c1c1c" stroke="#1c1c1c" stroke-width="0.13">*</text>
<text x="364.30" y="40.50" font-size="6" text-anchor="middle" font-weight="normal" fill="#1c1c1c" stroke="#1c1c1c" stroke-width="0.13">*</text>
<text transform="translate(361.80,97.50) rotate(-45)" x="0" y="0" font-size="7.6" text-anchor="end" fill="#1c1c1c" stroke="#1c1c1c" stroke-width="0.13">UNTR</text>
<text transform="translate(377.20,97.50) rotate(-45)" x="0" y="0" font-size="7.6" text-anchor="end" fill="#1c1c1c" stroke="#1c1c1c" stroke-width="0.13">FMC63</text>
<text transform="translate(392.30,97.50) rotate(-45)" x="0" y="0" font-size="7.6" text-anchor="end" fill="#1c1c1c" stroke="#1c1c1c" stroke-width="0.13">CAT</text>
<text x="419.60" y="16.90" font-size="7.9" text-anchor="start" font-weight="normal" fill="#1c1c1c" textLength="33.50" lengthAdjust="spacingAndGlyphs" stroke="#1c1c1c" stroke-width="0.13">Condition</text>
<rect x="419.40" y="22.20" width="11.80" height="11.20" fill="#dcdbe1" />
<text x="434.70" y="30.80" font-size="8.3" text-anchor="start" fill="#1c1c1c" textLength="67.50" lengthAdjust="spacingAndGlyphs"><tspan stroke="#1c1c1c" stroke-width="0.16">UNTR</tspan><tspan fill="#333"> unstimulated</tspan></text>
<rect x="419.40" y="37.00" width="11.80" height="11.20" fill="#b0d1ef" />
<text x="434.70" y="45.60" font-size="8.3" text-anchor="start" fill="#1c1c1c" textLength="72.00" lengthAdjust="spacingAndGlyphs"><tspan stroke="#1c1c1c" stroke-width="0.16">FMC63</tspan><tspan fill="#333"> unstimulated</tspan></text>
<rect x="419.40" y="51.80" width="11.80" height="11.20" fill="#8090bf" />
<text x="434.70" y="60.40" font-size="8.3" text-anchor="start" fill="#1c1c1c" textLength="64.00" lengthAdjust="spacingAndGlyphs"><tspan stroke="#1c1c1c" stroke-width="0.16">FMC63</tspan><tspan fill="#333"> stimulated</tspan></text>
<rect x="419.40" y="66.60" width="11.80" height="11.20" fill="#f8c58b" />
<text x="434.70" y="75.20" font-size="8.3" text-anchor="start" fill="#1c1c1c" textLength="60.00" lengthAdjust="spacingAndGlyphs"><tspan stroke="#1c1c1c" stroke-width="0.16">CAT</tspan><tspan fill="#333"> unstimulated</tspan></text>
<rect x="419.40" y="81.40" width="11.80" height="11.20" fill="#e58276" />
<text x="434.70" y="90.00" font-size="8.3" text-anchor="start" fill="#1c1c1c" textLength="51.50" lengthAdjust="spacingAndGlyphs"><tspan stroke="#1c1c1c" stroke-width="0.16">CAT</tspan><tspan fill="#333"> stimulated</tspan></text>
<text x="1.20" y="165.50" font-size="10.4" text-anchor="start" font-weight="bold" fill="#111">B</text>
<rect x="50.00" y="234.65" width="19.50" height="45.35" fill="#dcdbe1" />
<rect x="78.00" y="239.99" width="19.00" height="40.01" fill="#b0d1ef" />
<rect x="106.00" y="226.65" width="19.00" height="53.35" fill="#f8c58b" />
<line x1="59.50" y1="243.72" x2="59.50" y2="225.58" stroke="#222" stroke-width="1.05" />
<line x1="58.20" y1="243.50" x2="60.80" y2="243.50" stroke="#222" stroke-width="1.0" />
<line x1="58.20" y1="225.50" x2="60.80" y2="225.50" stroke="#222" stroke-width="1.0" />
<circle cx="59.50" cy="210.65" r="1.8" fill="#f4f4f4" stroke="#303030" stroke-width="1.15"/>
<circle cx="54.50" cy="241.59" r="1.8" fill="#f4f4f4" stroke="#303030" stroke-width="1.15"/>
<circle cx="61.30" cy="231.99" r="1.8" fill="#f4f4f4" stroke="#303030" stroke-width="1.15"/>
<circle cx="63.00" cy="253.32" r="1.8" fill="#f4f4f4" stroke="#303030" stroke-width="1.15"/>
<line x1="87.50" y1="249.06" x2="87.50" y2="231.99" stroke="#222" stroke-width="1.05" />
<line x1="86.20" y1="249.50" x2="88.80" y2="249.50" stroke="#222" stroke-width="1.0" />
<line x1="86.20" y1="231.50" x2="88.80" y2="231.50" stroke="#222" stroke-width="1.0" />
<circle cx="89.50" cy="217.58" r="1.8" fill="#a3cbeb" stroke="#12324a" stroke-width="1.15"/>
<circle cx="90.50" cy="241.59" r="1.8" fill="#a3cbeb" stroke="#12324a" stroke-width="1.15"/>
<circle cx="89.00" cy="247.99" r="1.8" fill="#a3cbeb" stroke="#12324a" stroke-width="1.15"/>
<circle cx="87.50" cy="252.26" r="1.8" fill="#a3cbeb" stroke="#12324a" stroke-width="1.15"/>
<line x1="115.50" y1="233.59" x2="115.50" y2="219.71" stroke="#222" stroke-width="1.05" />
<line x1="113.70" y1="233.50" x2="116.30" y2="233.50" stroke="#222" stroke-width="1.0" />
<line x1="113.70" y1="219.50" x2="116.30" y2="219.50" stroke="#222" stroke-width="1.0" />
<circle cx="112.00" cy="207.44" r="1.8" fill="#f1bd70" stroke="#3d2405" stroke-width="1.15"/>
<circle cx="114.50" cy="228.25" r="1.8" fill="#f1bd70" stroke="#3d2405" stroke-width="1.15"/>
<circle cx="110.70" cy="231.99" r="1.8" fill="#f1bd70" stroke="#3d2405" stroke-width="1.15"/>
<circle cx="114.80" cy="236.25" r="1.8" fill="#f1bd70" stroke="#3d2405" stroke-width="1.15"/>
<line x1="42.50" y1="171.70" x2="42.50" y2="280.50" stroke="#262626" stroke-width="1.15" />
<line x1="42.10" y1="280.50" x2="130.00" y2="280.50" stroke="#262626" stroke-width="1.15" />
<line x1="40.00" y1="280.50" x2="42.60" y2="280.50" stroke="#262626" stroke-width="0.95" />
<text x="37.10" y="282.45" font-size="7.6" text-anchor="end" font-weight="normal" fill="#1c1c1c" textLength="4.65" lengthAdjust="spacingAndGlyphs" stroke="#1c1c1c" stroke-width="0.13">0</text>
<line x1="40.00" y1="253.50" x2="42.60" y2="253.50" stroke="#262626" stroke-width="0.95" />
<text x="37.10" y="255.77" font-size="7.6" text-anchor="end" font-weight="normal" fill="#1c1c1c" textLength="9.30" lengthAdjust="spacingAndGlyphs" stroke="#1c1c1c" stroke-width="0.13">25</text>
<line x1="40.00" y1="226.50" x2="42.60" y2="226.50" stroke="#262626" stroke-width="0.95" />
<text x="37.10" y="229.10" font-size="7.6" text-anchor="end" font-weight="normal" fill="#1c1c1c" textLength="9.30" lengthAdjust="spacingAndGlyphs" stroke="#1c1c1c" stroke-width="0.13">50</text>
<line x1="40.00" y1="199.50" x2="42.60" y2="199.50" stroke="#262626" stroke-width="0.95" />
<text x="37.10" y="202.43" font-size="7.6" text-anchor="end" font-weight="normal" fill="#1c1c1c" textLength="9.30" lengthAdjust="spacingAndGlyphs" stroke="#1c1c1c" stroke-width="0.13">75</text>
<line x1="40.00" y1="173.50" x2="42.60" y2="173.50" stroke="#262626" stroke-width="0.95" />
<text x="37.10" y="175.75" font-size="7.6" text-anchor="end" font-weight="normal" fill="#1c1c1c" textLength="13.95" lengthAdjust="spacingAndGlyphs" stroke="#1c1c1c" stroke-width="0.13">100</text>
<line x1="59.50" y1="280.00" x2="59.50" y2="282.60" stroke="#262626" stroke-width="0.95" />
<line x1="87.50" y1="280.00" x2="87.50" y2="282.60" stroke="#262626" stroke-width="0.95" />
<line x1="115.50" y1="280.00" x2="115.50" y2="282.60" stroke="#262626" stroke-width="0.95" />
<line x1="60.00" y1="185.50" x2="116.25" y2="185.50" stroke="#4a4a4a" stroke-width="1.0" />
<text x="88.12" y="182.60" font-size="7.6" text-anchor="middle" font-weight="normal" fill="#3a3a3a" stroke="#3a3a3a" stroke-width="0.13">ns</text>
<line x1="60.00" y1="196.50" x2="87.50" y2="196.50" stroke="#4a4a4a" stroke-width="1.0" />
<text x="73.75" y="193.85" font-size="7.6" text-anchor="middle" font-weight="normal" fill="#3a3a3a" stroke="#3a3a3a" stroke-width="0.13">ns</text>
<line x1="88.75" y1="203.50" x2="116.25" y2="203.50" stroke="#4a4a4a" stroke-width="1.0" />
<text x="102.50" y="204.15" font-size="8.0" text-anchor="middle" font-weight="normal" fill="#2a2a2a" stroke="#2a2a2a" stroke-width="0.13">*</text>
<text x="59.40" y="293.00" font-size="7.7" text-anchor="middle" font-weight="normal" fill="#1c1c1c" stroke="#1c1c1c" stroke-width="0.13">UNTR</text>
<text x="87.50" y="293.00" font-size="7.7" text-anchor="middle" font-weight="normal" fill="#1c1c1c" stroke="#1c1c1c" stroke-width="0.13">FMC63</text>
<text x="115.50" y="293.00" font-size="7.7" text-anchor="middle" font-weight="normal" fill="#1c1c1c" stroke="#1c1c1c" stroke-width="0.13">CAT</text>
<text transform="translate(17.40,224.90) rotate(-90)" x="0" y="0" font-size="9.2" text-anchor="middle" font-weight="normal" fill="#1a1a1a" textLength="54.00" lengthAdjust="spacingAndGlyphs" stroke="#1a1a1a" stroke-width="0.25">% TCM (in CD3+)</text>
<rect x="183.00" y="246.62" width="19.70" height="32.98" fill="#dcdbe1" />
<rect x="211.30" y="224.27" width="18.90" height="55.33" fill="#b0d1ef" />
<rect x="239.00" y="240.23" width="19.70" height="39.37" fill="#f8c58b" />
<line x1="193.50" y1="253.00" x2="193.50" y2="242.36" stroke="#222" stroke-width="1.05" />
<line x1="192.50" y1="253.50" x2="195.10" y2="253.50" stroke="#222" stroke-width="1.0" />
<line x1="192.50" y1="242.50" x2="195.10" y2="242.50" stroke="#222" stroke-width="1.0" />
<circle cx="187.30" cy="238.10" r="1.8" fill="#f4f4f4" stroke="#303030" stroke-width="1.15"/>
<circle cx="196.00" cy="243.42" r="1.8" fill="#f4f4f4" stroke="#303030" stroke-width="1.15"/>
<circle cx="193.80" cy="249.28" r="1.8" fill="#f4f4f4" stroke="#303030" stroke-width="1.15"/>
<circle cx="192.50" cy="253.53" r="1.8" fill="#f4f4f4" stroke="#303030" stroke-width="1.15"/>
<line x1="220.50" y1="231.72" x2="220.50" y2="217.89" stroke="#222" stroke-width="1.05" />
<line x1="219.20" y1="231.50" x2="221.80" y2="231.50" stroke="#222" stroke-width="1.0" />
<line x1="219.20" y1="217.50" x2="221.80" y2="217.50" stroke="#222" stroke-width="1.0" />
<circle cx="220.50" cy="213.63" r="1.8" fill="#a3cbeb" stroke="#12324a" stroke-width="1.15"/>
<circle cx="222.50" cy="219.48" r="1.8" fill="#a3cbeb" stroke="#12324a" stroke-width="1.15"/>
<circle cx="224.00" cy="219.48" r="1.8" fill="#a3cbeb" stroke="#12324a" stroke-width="1.15"/>
<circle cx="222.50" cy="243.42" r="1.8" fill="#a3cbeb" stroke="#12324a" stroke-width="1.15"/>
<line x1="247.50" y1="247.68" x2="247.50" y2="232.78" stroke="#222" stroke-width="1.05" />
<line x1="246.60" y1="247.50" x2="249.20" y2="247.50" stroke="#222" stroke-width="1.0" />
<line x1="246.60" y1="232.50" x2="249.20" y2="232.50" stroke="#222" stroke-width="1.0" />
<circle cx="243.90" cy="228.00" r="1.8" fill="#f1bd70" stroke="#3d2405" stroke-width="1.15"/>
<circle cx="247.40" cy="235.44" r="1.8" fill="#f1bd70" stroke="#3d2405" stroke-width="1.15"/>
<circle cx="248.40" cy="234.38" r="1.8" fill="#f1bd70" stroke="#3d2405" stroke-width="1.15"/>
<circle cx="244.90" cy="260.45" r="1.8" fill="#f1bd70" stroke="#3d2405" stroke-width="1.15"/>
<line x1="175.50" y1="171.60" x2="175.50" y2="280.10" stroke="#262626" stroke-width="1.15" />
<line x1="174.70" y1="279.50" x2="264.60" y2="279.50" stroke="#262626" stroke-width="1.15" />
<line x1="172.60" y1="279.50" x2="175.20" y2="279.50" stroke="#262626" stroke-width="0.95" />
<text x="169.70" y="282.05" font-size="7.6" text-anchor="end" font-weight="normal" fill="#1c1c1c" textLength="4.65" lengthAdjust="spacingAndGlyphs" stroke="#1c1c1c" stroke-width="0.13">0</text>
<line x1="172.60" y1="253.50" x2="175.20" y2="253.50" stroke="#262626" stroke-width="0.95" />
<text x="169.70" y="255.45" font-size="7.6" text-anchor="end" font-weight="normal" fill="#1c1c1c" textLength="9.30" lengthAdjust="spacingAndGlyphs" stroke="#1c1c1c" stroke-width="0.13">25</text>
<line x1="172.60" y1="226.50" x2="175.20" y2="226.50" stroke="#262626" stroke-width="0.95" />
<text x="169.70" y="228.85" font-size="7.6" text-anchor="end" font-weight="normal" fill="#1c1c1c" textLength="9.30" lengthAdjust="spacingAndGlyphs" stroke="#1c1c1c" stroke-width="0.13">50</text>
<line x1="172.60" y1="199.50" x2="175.20" y2="199.50" stroke="#262626" stroke-width="0.95" />
<text x="169.70" y="202.25" font-size="7.6" text-anchor="end" font-weight="normal" fill="#1c1c1c" textLength="9.30" lengthAdjust="spacingAndGlyphs" stroke="#1c1c1c" stroke-width="0.13">75</text>
<line x1="172.60" y1="173.50" x2="175.20" y2="173.50" stroke="#262626" stroke-width="0.95" />
<text x="169.70" y="175.65" font-size="7.6" text-anchor="end" font-weight="normal" fill="#1c1c1c" textLength="13.95" lengthAdjust="spacingAndGlyphs" stroke="#1c1c1c" stroke-width="0.13">100</text>
<line x1="193.50" y1="279.60" x2="193.50" y2="282.20" stroke="#262626" stroke-width="0.95" />
<line x1="220.50" y1="279.60" x2="220.50" y2="282.20" stroke="#262626" stroke-width="0.95" />
<line x1="247.50" y1="279.60" x2="247.50" y2="282.20" stroke="#262626" stroke-width="0.95" />
<line x1="192.50" y1="195.50" x2="247.90" y2="195.50" stroke="#4a4a4a" stroke-width="1.0" />
<text x="220.20" y="192.10" font-size="7.6" text-anchor="middle" font-weight="normal" fill="#3a3a3a" stroke="#3a3a3a" stroke-width="0.13">ns</text>
<line x1="192.50" y1="203.50" x2="219.40" y2="203.50" stroke="#4a4a4a" stroke-width="1.0" />
<text x="205.95" y="204.70" font-size="8.0" text-anchor="middle" font-weight="normal" fill="#2a2a2a" stroke="#2a2a2a" stroke-width="0.13">*</text>
<line x1="219.90" y1="209.50" x2="247.70" y2="209.50" stroke="#4a4a4a" stroke-width="1.0" />
<text x="233.80" y="210.70" font-size="8.0" text-anchor="middle" font-weight="normal" fill="#2a2a2a" stroke="#2a2a2a" stroke-width="0.13">**</text>
<text x="192.00" y="293.00" font-size="7.7" text-anchor="middle" font-weight="normal" fill="#1c1c1c" stroke="#1c1c1c" stroke-width="0.13">UNTR</text>
<text x="219.50" y="293.00" font-size="7.7" text-anchor="middle" font-weight="normal" fill="#1c1c1c" stroke="#1c1c1c" stroke-width="0.13">FMC63</text>
<text x="249.00" y="293.00" font-size="7.7" text-anchor="middle" font-weight="normal" fill="#1c1c1c" stroke="#1c1c1c" stroke-width="0.13">CAT</text>
<text transform="translate(150.60,225.00) rotate(-90)" x="0" y="0" font-size="9.2" text-anchor="middle" font-weight="normal" fill="#1a1a1a" textLength="53.00" lengthAdjust="spacingAndGlyphs" stroke="#1a1a1a" stroke-width="0.25">% TEM (in CD3+)</text>
<text x="314.80" y="138.10" font-size="10.4" text-anchor="start" font-weight="bold" fill="#111">C</text>
<rect x="369.10" y="168.78" width="15.70" height="19.58" fill="#b0d1ef" />
<rect x="392.30" y="165.84" width="15.80" height="22.52" fill="#f8c58b" />
<line x1="363.30" y1="188.50" x2="413.30" y2="188.50" stroke="#2f2f2f" stroke-width="1.1" stroke-dasharray="2.8,1.8"/>
<line x1="377.50" y1="174.65" x2="377.50" y2="160.70" stroke="#222" stroke-width="1.05" />
<line x1="375.70" y1="174.50" x2="378.30" y2="174.50" stroke="#222" stroke-width="1.0" />
<line x1="375.70" y1="160.50" x2="378.30" y2="160.50" stroke="#222" stroke-width="1.0" />
<circle cx="376.50" cy="160.70" r="1.8" fill="#4a98c8" stroke="#14354c" stroke-width="1.15"/>
<circle cx="379.70" cy="167.06" r="1.8" fill="#4a98c8" stroke="#14354c" stroke-width="1.15"/>
<circle cx="378.40" cy="178.57" r="1.8" fill="#4a98c8" stroke="#14354c" stroke-width="1.15"/>
<line x1="400.50" y1="168.29" x2="400.50" y2="163.39" stroke="#222" stroke-width="1.05" />
<line x1="398.80" y1="168.50" x2="401.40" y2="168.50" stroke="#222" stroke-width="1.0" />
<line x1="398.80" y1="163.50" x2="401.40" y2="163.50" stroke="#222" stroke-width="1.0" />
<circle cx="399.60" cy="161.43" r="1.8" fill="#e0992e" stroke="#45280a" stroke-width="1.15"/>
<circle cx="396.10" cy="166.57" r="1.8" fill="#e0992e" stroke="#45280a" stroke-width="1.15"/>
<circle cx="399.60" cy="168.78" r="1.8" fill="#e0992e" stroke="#45280a" stroke-width="1.15"/>
<line x1="363.50" y1="137.80" x2="363.50" y2="201.10" stroke="#262626" stroke-width="1.15" />
<line x1="362.80" y1="200.50" x2="413.30" y2="200.50" stroke="#262626" stroke-width="1.15" />
<line x1="360.70" y1="139.50" x2="363.30" y2="139.50" stroke="#262626" stroke-width="0.95" />
<text x="357.70" y="141.85" font-size="7.2" text-anchor="end" font-weight="normal" fill="#1c1c1c" textLength="16.81" lengthAdjust="spacingAndGlyphs" stroke="#1c1c1c" stroke-width="0.13">2.00</text>
<line x1="360.70" y1="151.50" x2="363.30" y2="151.50" stroke="#262626" stroke-width="0.95" />
<text x="357.70" y="154.09" font-size="7.2" text-anchor="end" font-weight="normal" fill="#1c1c1c" textLength="16.81" lengthAdjust="spacingAndGlyphs" stroke="#1c1c1c" stroke-width="0.13">1.50</text>
<line x1="360.70" y1="163.50" x2="363.30" y2="163.50" stroke="#262626" stroke-width="0.95" />
<text x="357.70" y="166.33" font-size="7.2" text-anchor="end" font-weight="normal" fill="#1c1c1c" textLength="16.81" lengthAdjust="spacingAndGlyphs" stroke="#1c1c1c" stroke-width="0.13">1.00</text>
<line x1="360.70" y1="176.50" x2="363.30" y2="176.50" stroke="#262626" stroke-width="0.95" />
<text x="357.70" y="178.57" font-size="7.2" text-anchor="end" font-weight="normal" fill="#1c1c1c" textLength="16.81" lengthAdjust="spacingAndGlyphs" stroke="#1c1c1c" stroke-width="0.13">0.50</text>
<line x1="360.70" y1="188.50" x2="363.30" y2="188.50" stroke="#262626" stroke-width="0.95" />
<text x="357.70" y="190.81" font-size="7.2" text-anchor="end" font-weight="normal" fill="#1c1c1c" textLength="16.81" lengthAdjust="spacingAndGlyphs" stroke="#1c1c1c" stroke-width="0.13">0.00</text>
<line x1="360.70" y1="200.50" x2="363.30" y2="200.50" stroke="#262626" stroke-width="0.95" />
<text x="357.70" y="203.05" font-size="7.2" text-anchor="end" font-weight="normal" fill="#1c1c1c" textLength="21.86" lengthAdjust="spacingAndGlyphs" stroke="#1c1c1c" stroke-width="0.13">−0.50</text>
<line x1="377.50" y1="200.60" x2="377.50" y2="203.20" stroke="#262626" stroke-width="0.95" />
<line x1="400.50" y1="200.60" x2="400.50" y2="203.20" stroke="#262626" stroke-width="0.95" />
<line x1="377.60" y1="157.50" x2="398.10" y2="157.50" stroke="#4a4a4a" stroke-width="1.0" />
<text x="387.85" y="154.60" font-size="7.6" text-anchor="middle" font-weight="normal" fill="#3a3a3a" stroke="#3a3a3a" stroke-width="0.13">ns</text>
<text transform="translate(330.00,167.40) rotate(-90)" x="0" y="0" font-size="9.6" text-anchor="middle" font-weight="bold" fill="#2a2a2a" textLength="52.00" lengthAdjust="spacingAndGlyphs">EMD Granzyme B</text>
<text transform="translate(381.00,209.50) rotate(-45)" x="0" y="0" font-size="7.7" text-anchor="end" fill="#1c1c1c" stroke="#1c1c1c" stroke-width="0.13">FMC63</text>
<text transform="translate(405.60,209.50) rotate(-45)" x="0" y="0" font-size="7.6" text-anchor="end" fill="#1c1c1c" stroke="#1c1c1c" stroke-width="0.13">CAT</text>
<rect x="475.50" y="170.00" width="15.70" height="9.18" fill="#b0d1ef" />
<rect x="498.70" y="170.00" width="15.80" height="0.00" fill="#f8c58b" />
<line x1="469.70" y1="170.50" x2="521.00" y2="170.50" stroke="#2f2f2f" stroke-width="1.1" stroke-dasharray="2.8,1.8"/>
<line x1="483.50" y1="182.85" x2="483.50" y2="174.28" stroke="#222" stroke-width="1.05" />
<line x1="482.10" y1="182.50" x2="484.70" y2="182.50" stroke="#222" stroke-width="1.0" />
<line x1="482.10" y1="174.50" x2="484.70" y2="174.50" stroke="#222" stroke-width="1.0" />
<circle cx="484.80" cy="174.28" r="1.8" fill="#4a98c8" stroke="#14354c" stroke-width="1.15"/>
<circle cx="482.80" cy="182.85" r="1.8" fill="#4a98c8" stroke="#14354c" stroke-width="1.15"/>
<circle cx="486.00" cy="182.85" r="1.8" fill="#4a98c8" stroke="#14354c" stroke-width="1.15"/>
<line x1="506.50" y1="177.96" x2="506.50" y2="164.19" stroke="#222" stroke-width="1.05" />
<line x1="505.20" y1="177.50" x2="507.80" y2="177.50" stroke="#222" stroke-width="1.0" />
<line x1="505.20" y1="164.50" x2="507.80" y2="164.50" stroke="#222" stroke-width="1.0" />
<circle cx="506.30" cy="162.04" r="1.8" fill="#e0992e" stroke="#45280a" stroke-width="1.15"/>
<circle cx="503.10" cy="169.08" r="1.8" fill="#e0992e" stroke="#45280a" stroke-width="1.15"/>
<circle cx="506.30" cy="183.46" r="1.8" fill="#e0992e" stroke="#45280a" stroke-width="1.15"/>
<line x1="469.50" y1="137.80" x2="469.50" y2="201.10" stroke="#262626" stroke-width="1.15" />
<line x1="469.20" y1="200.50" x2="521.00" y2="200.50" stroke="#262626" stroke-width="1.15" />
<line x1="467.10" y1="139.50" x2="469.70" y2="139.50" stroke="#262626" stroke-width="0.95" />
<text x="464.10" y="141.85" font-size="7.2" text-anchor="end" font-weight="normal" fill="#1c1c1c" textLength="16.81" lengthAdjust="spacingAndGlyphs" stroke="#1c1c1c" stroke-width="0.13">0.50</text>
<line x1="467.10" y1="154.50" x2="469.70" y2="154.50" stroke="#262626" stroke-width="0.95" />
<text x="464.10" y="157.15" font-size="7.2" text-anchor="end" font-weight="normal" fill="#1c1c1c" textLength="16.81" lengthAdjust="spacingAndGlyphs" stroke="#1c1c1c" stroke-width="0.13">0.25</text>
<line x1="467.10" y1="170.50" x2="469.70" y2="170.50" stroke="#262626" stroke-width="0.95" />
<text x="464.10" y="172.45" font-size="7.2" text-anchor="end" font-weight="normal" fill="#1c1c1c" textLength="16.81" lengthAdjust="spacingAndGlyphs" stroke="#1c1c1c" stroke-width="0.13">0.00</text>
<line x1="467.10" y1="185.50" x2="469.70" y2="185.50" stroke="#262626" stroke-width="0.95" />
<text x="464.10" y="187.75" font-size="7.2" text-anchor="end" font-weight="normal" fill="#1c1c1c" textLength="21.86" lengthAdjust="spacingAndGlyphs" stroke="#1c1c1c" stroke-width="0.13">−0.25</text>
<line x1="467.10" y1="200.50" x2="469.70" y2="200.50" stroke="#262626" stroke-width="0.95" />
<text x="464.10" y="203.05" font-size="7.2" text-anchor="end" font-weight="normal" fill="#1c1c1c" textLength="21.86" lengthAdjust="spacingAndGlyphs" stroke="#1c1c1c" stroke-width="0.13">−0.50</text>
<line x1="483.50" y1="200.60" x2="483.50" y2="203.20" stroke="#262626" stroke-width="0.95" />
<line x1="506.50" y1="200.60" x2="506.50" y2="203.20" stroke="#262626" stroke-width="0.95" />
<line x1="483.70" y1="159.50" x2="506.20" y2="159.50" stroke="#4a4a4a" stroke-width="1.0" />
<text x="494.95" y="156.60" font-size="7.6" text-anchor="middle" font-weight="normal" fill="#3a3a3a" stroke="#3a3a3a" stroke-width="0.13">ns</text>
<text transform="translate(436.80,174.10) rotate(-90)" x="0" y="0" font-size="9.6" text-anchor="middle" font-weight="bold" fill="#2a2a2a" textLength="46.20" lengthAdjust="spacingAndGlyphs">EMD Perforin B</text>
<text transform="translate(487.40,209.50) rotate(-45)" x="0" y="0" font-size="7.7" text-anchor="end" fill="#1c1c1c" stroke="#1c1c1c" stroke-width="0.13">FMC63</text>
<text transform="translate(512.00,209.50) rotate(-45)" x="0" y="0" font-size="7.6" text-anchor="end" fill="#1c1c1c" stroke="#1c1c1c" stroke-width="0.13">CAT</text>
<rect x="370.20" y="271.75" width="15.70" height="15.32" fill="#b0d1ef" />
<rect x="393.40" y="271.75" width="15.80" height="0.00" fill="#f8c58b" />
<line x1="364.40" y1="271.50" x2="414.40" y2="271.50" stroke="#2f2f2f" stroke-width="1.1" stroke-dasharray="2.8,1.8"/>
<line x1="378.50" y1="293.82" x2="378.50" y2="280.03" stroke="#222" stroke-width="1.05" />
<line x1="376.80" y1="293.50" x2="379.40" y2="293.50" stroke="#222" stroke-width="1.0" />
<line x1="376.80" y1="280.50" x2="379.40" y2="280.50" stroke="#222" stroke-width="1.0" />
<circle cx="379.60" cy="275.12" r="1.8" fill="#4a98c8" stroke="#14354c" stroke-width="1.15"/>
<circle cx="380.70" cy="282.48" r="1.8" fill="#4a98c8" stroke="#14354c" stroke-width="1.15"/>
<circle cx="377.50" cy="300.10" r="1.8" fill="#4a98c8" stroke="#14354c" stroke-width="1.15"/>
<line x1="401.50" y1="283.24" x2="401.50" y2="261.02" stroke="#222" stroke-width="1.05" />
<line x1="399.90" y1="283.50" x2="402.50" y2="283.50" stroke="#222" stroke-width="1.0" />
<line x1="399.90" y1="261.50" x2="402.50" y2="261.50" stroke="#222" stroke-width="1.0" />
<circle cx="397.50" cy="257.80" r="1.8" fill="#e0992e" stroke="#45280a" stroke-width="1.15"/>
<circle cx="401.10" cy="268.38" r="1.8" fill="#e0992e" stroke="#45280a" stroke-width="1.15"/>
<circle cx="401.10" cy="293.05" r="1.8" fill="#e0992e" stroke="#45280a" stroke-width="1.15"/>
<line x1="364.50" y1="239.50" x2="364.50" y2="302.90" stroke="#262626" stroke-width="1.15" />
<line x1="363.90" y1="302.50" x2="414.40" y2="302.50" stroke="#262626" stroke-width="1.15" />
<line x1="361.80" y1="241.50" x2="364.40" y2="241.50" stroke="#262626" stroke-width="0.95" />
<text x="358.80" y="243.55" font-size="7.2" text-anchor="end" font-weight="normal" fill="#1c1c1c" textLength="16.81" lengthAdjust="spacingAndGlyphs" stroke="#1c1c1c" stroke-width="0.13">2.00</text>
<line x1="361.80" y1="256.50" x2="364.40" y2="256.50" stroke="#262626" stroke-width="0.95" />
<text x="358.80" y="258.88" font-size="7.2" text-anchor="end" font-weight="normal" fill="#1c1c1c" textLength="16.81" lengthAdjust="spacingAndGlyphs" stroke="#1c1c1c" stroke-width="0.13">1.00</text>
<line x1="361.80" y1="271.50" x2="364.40" y2="271.50" stroke="#262626" stroke-width="0.95" />
<text x="358.80" y="274.20" font-size="7.2" text-anchor="end" font-weight="normal" fill="#1c1c1c" textLength="16.81" lengthAdjust="spacingAndGlyphs" stroke="#1c1c1c" stroke-width="0.13">0.00</text>
<line x1="361.80" y1="287.50" x2="364.40" y2="287.50" stroke="#262626" stroke-width="0.95" />
<text x="358.80" y="289.52" font-size="7.2" text-anchor="end" font-weight="normal" fill="#1c1c1c" textLength="21.86" lengthAdjust="spacingAndGlyphs" stroke="#1c1c1c" stroke-width="0.13">−1.00</text>
<line x1="361.80" y1="302.50" x2="364.40" y2="302.50" stroke="#262626" stroke-width="0.95" />
<text x="358.80" y="304.85" font-size="7.2" text-anchor="end" font-weight="normal" fill="#1c1c1c" textLength="21.86" lengthAdjust="spacingAndGlyphs" stroke="#1c1c1c" stroke-width="0.13">−2.00</text>
<line x1="378.50" y1="302.40" x2="378.50" y2="305.00" stroke="#262626" stroke-width="0.95" />
<line x1="401.50" y1="302.40" x2="401.50" y2="305.00" stroke="#262626" stroke-width="0.95" />
<line x1="377.70" y1="254.50" x2="398.40" y2="254.50" stroke="#4a4a4a" stroke-width="1.0" />
<text x="388.05" y="251.70" font-size="7.6" text-anchor="middle" font-weight="normal" fill="#3a3a3a" stroke="#3a3a3a" stroke-width="0.13">ns</text>
<text transform="translate(331.30,269.70) rotate(-90)" x="0" y="0" font-size="9.6" text-anchor="middle" font-weight="bold" fill="#2a2a2a" textLength="39.90" lengthAdjust="spacingAndGlyphs">EMD HLA-DR</text>
<text transform="translate(382.10,311.30) rotate(-45)" x="0" y="0" font-size="7.7" text-anchor="end" fill="#1c1c1c" stroke="#1c1c1c" stroke-width="0.13">FMC63</text>
<text transform="translate(406.70,311.30) rotate(-45)" x="0" y="0" font-size="7.6" text-anchor="end" fill="#1c1c1c" stroke="#1c1c1c" stroke-width="0.13">CAT</text>
<rect x="476.10" y="277.88" width="15.70" height="12.26" fill="#b0d1ef" />
<rect x="499.30" y="280.82" width="15.80" height="9.32" fill="#f8c58b" />
<line x1="470.30" y1="290.50" x2="521.00" y2="290.50" stroke="#2f2f2f" stroke-width="1.1" stroke-dasharray="2.8,1.8"/>
<line x1="484.50" y1="282.05" x2="484.50" y2="274.20" stroke="#222" stroke-width="1.05" />
<line x1="482.70" y1="282.50" x2="485.30" y2="282.50" stroke="#222" stroke-width="1.0" />
<line x1="482.70" y1="274.50" x2="485.30" y2="274.50" stroke="#222" stroke-width="1.0" />
<circle cx="486.00" cy="270.52" r="1.8" fill="#4a98c8" stroke="#14354c" stroke-width="1.15"/>
<circle cx="483.60" cy="278.86" r="1.8" fill="#4a98c8" stroke="#14354c" stroke-width="1.15"/>
<circle cx="486.00" cy="282.54" r="1.8" fill="#4a98c8" stroke="#14354c" stroke-width="1.15"/>
<line x1="507.50" y1="281.31" x2="507.50" y2="280.09" stroke="#222" stroke-width="1.05" />
<line x1="505.80" y1="281.50" x2="508.40" y2="281.50" stroke="#222" stroke-width="1.0" />
<line x1="505.80" y1="280.50" x2="508.40" y2="280.50" stroke="#222" stroke-width="1.0" />
<circle cx="504.10" cy="280.58" r="1.8" fill="#e0992e" stroke="#45280a" stroke-width="1.15"/>
<circle cx="506.90" cy="281.07" r="1.8" fill="#e0992e" stroke="#45280a" stroke-width="1.15"/>
<circle cx="507.40" cy="280.82" r="1.8" fill="#e0992e" stroke="#45280a" stroke-width="1.15"/>
<line x1="470.50" y1="239.50" x2="470.50" y2="302.90" stroke="#262626" stroke-width="1.15" />
<line x1="469.80" y1="302.50" x2="521.00" y2="302.50" stroke="#262626" stroke-width="1.15" />
<line x1="467.70" y1="241.50" x2="470.30" y2="241.50" stroke="#262626" stroke-width="0.95" />
<text x="464.70" y="243.55" font-size="7.2" text-anchor="end" font-weight="normal" fill="#1c1c1c" textLength="16.81" lengthAdjust="spacingAndGlyphs" stroke="#1c1c1c" stroke-width="0.13">2.00</text>
<line x1="467.70" y1="253.50" x2="470.30" y2="253.50" stroke="#262626" stroke-width="0.95" />
<text x="464.70" y="255.81" font-size="7.2" text-anchor="end" font-weight="normal" fill="#1c1c1c" textLength="16.81" lengthAdjust="spacingAndGlyphs" stroke="#1c1c1c" stroke-width="0.13">1.50</text>
<line x1="467.70" y1="265.50" x2="470.30" y2="265.50" stroke="#262626" stroke-width="0.95" />
<text x="464.70" y="268.07" font-size="7.2" text-anchor="end" font-weight="normal" fill="#1c1c1c" textLength="16.81" lengthAdjust="spacingAndGlyphs" stroke="#1c1c1c" stroke-width="0.13">1.00</text>
<line x1="467.70" y1="277.50" x2="470.30" y2="277.50" stroke="#262626" stroke-width="0.95" />
<text x="464.70" y="280.33" font-size="7.2" text-anchor="end" font-weight="normal" fill="#1c1c1c" textLength="16.81" lengthAdjust="spacingAndGlyphs" stroke="#1c1c1c" stroke-width="0.13">0.50</text>
<line x1="467.70" y1="290.50" x2="470.30" y2="290.50" stroke="#262626" stroke-width="0.95" />
<text x="464.70" y="292.59" font-size="7.2" text-anchor="end" font-weight="normal" fill="#1c1c1c" textLength="16.81" lengthAdjust="spacingAndGlyphs" stroke="#1c1c1c" stroke-width="0.13">0.00</text>
<line x1="467.70" y1="302.50" x2="470.30" y2="302.50" stroke="#262626" stroke-width="0.95" />
<text x="464.70" y="304.85" font-size="7.2" text-anchor="end" font-weight="normal" fill="#1c1c1c" textLength="21.86" lengthAdjust="spacingAndGlyphs" stroke="#1c1c1c" stroke-width="0.13">−0.50</text>
<line x1="484.50" y1="302.40" x2="484.50" y2="305.00" stroke="#262626" stroke-width="0.95" />
<line x1="507.50" y1="302.40" x2="507.50" y2="305.00" stroke="#262626" stroke-width="0.95" />
<line x1="483.60" y1="268.50" x2="505.30" y2="268.50" stroke="#4a4a4a" stroke-width="1.0" />
<text x="494.45" y="265.50" font-size="7.6" text-anchor="middle" font-weight="normal" fill="#3a3a3a" stroke="#3a3a3a" stroke-width="0.13">ns</text>
<text transform="translate(437.20,269.80) rotate(-90)" x="0" y="0" font-size="9.6" text-anchor="middle" font-weight="bold" fill="#2a2a2a" textLength="31.90" lengthAdjust="spacingAndGlyphs">EMD CD25</text>
<text transform="translate(488.00,311.30) rotate(-45)" x="0" y="0" font-size="7.7" text-anchor="end" fill="#1c1c1c" stroke="#1c1c1c" stroke-width="0.13">FMC63</text>
<text transform="translate(512.60,311.30) rotate(-45)" x="0" y="0" font-size="7.6" text-anchor="end" fill="#1c1c1c" stroke="#1c1c1c" stroke-width="0.13">CAT</text>
<rect x="369.30" y="362.87" width="15.70" height="14.05" fill="#b0d1ef" />
<rect x="392.50" y="362.87" width="15.80" height="9.71" fill="#f8c58b" />
<line x1="363.50" y1="362.50" x2="413.50" y2="362.50" stroke="#2f2f2f" stroke-width="1.1" stroke-dasharray="2.8,1.8"/>
<line x1="377.50" y1="382.29" x2="377.50" y2="373.82" stroke="#222" stroke-width="1.05" />
<line x1="375.90" y1="382.50" x2="378.50" y2="382.50" stroke="#222" stroke-width="1.0" />
<line x1="375.90" y1="373.50" x2="378.50" y2="373.50" stroke="#222" stroke-width="1.0" />
<circle cx="379.90" cy="370.10" r="1.8" fill="#4a98c8" stroke="#14354c" stroke-width="1.15"/>
<circle cx="378.60" cy="376.71" r="1.8" fill="#4a98c8" stroke="#14354c" stroke-width="1.15"/>
<circle cx="376.70" cy="384.57" r="1.8" fill="#4a98c8" stroke="#14354c" stroke-width="1.15"/>
<line x1="400.50" y1="379.19" x2="400.50" y2="365.97" stroke="#222" stroke-width="1.05" />
<line x1="399.00" y1="379.50" x2="401.60" y2="379.50" stroke="#222" stroke-width="1.0" />
<line x1="399.00" y1="365.50" x2="401.60" y2="365.50" stroke="#222" stroke-width="1.0" />
<circle cx="397.00" cy="361.63" r="1.8" fill="#e0992e" stroke="#45280a" stroke-width="1.15"/>
<circle cx="400.20" cy="373.41" r="1.8" fill="#e0992e" stroke="#45280a" stroke-width="1.15"/>
<circle cx="400.20" cy="382.71" r="1.8" fill="#e0992e" stroke="#45280a" stroke-width="1.15"/>
<line x1="363.50" y1="340.60" x2="363.50" y2="404.70" stroke="#262626" stroke-width="1.15" />
<line x1="363.00" y1="404.50" x2="413.50" y2="404.50" stroke="#262626" stroke-width="1.15" />
<line x1="360.90" y1="342.50" x2="363.50" y2="342.50" stroke="#262626" stroke-width="0.95" />
<text x="357.90" y="344.65" font-size="7.2" text-anchor="end" font-weight="normal" fill="#1c1c1c" textLength="16.81" lengthAdjust="spacingAndGlyphs" stroke="#1c1c1c" stroke-width="0.13">1.00</text>
<line x1="360.90" y1="362.50" x2="363.50" y2="362.50" stroke="#262626" stroke-width="0.95" />
<text x="357.90" y="365.32" font-size="7.2" text-anchor="end" font-weight="normal" fill="#1c1c1c" textLength="16.81" lengthAdjust="spacingAndGlyphs" stroke="#1c1c1c" stroke-width="0.13">0.00</text>
<line x1="360.90" y1="383.50" x2="363.50" y2="383.50" stroke="#262626" stroke-width="0.95" />
<text x="357.90" y="385.98" font-size="7.2" text-anchor="end" font-weight="normal" fill="#1c1c1c" textLength="21.86" lengthAdjust="spacingAndGlyphs" stroke="#1c1c1c" stroke-width="0.13">−1.00</text>
<line x1="360.90" y1="404.50" x2="363.50" y2="404.50" stroke="#262626" stroke-width="0.95" />
<text x="357.90" y="406.65" font-size="7.2" text-anchor="end" font-weight="normal" fill="#1c1c1c" textLength="21.86" lengthAdjust="spacingAndGlyphs" stroke="#1c1c1c" stroke-width="0.13">−2.00</text>
<line x1="377.50" y1="404.20" x2="377.50" y2="406.80" stroke="#262626" stroke-width="0.95" />
<line x1="400.50" y1="404.20" x2="400.50" y2="406.80" stroke="#262626" stroke-width="0.95" />
<line x1="377.70" y1="358.50" x2="399.30" y2="358.50" stroke="#4a4a4a" stroke-width="1.0" />
<text x="388.50" y="355.60" font-size="7.6" text-anchor="middle" font-weight="normal" fill="#3a3a3a" stroke="#3a3a3a" stroke-width="0.13">ns</text>
<text transform="translate(330.50,371.50) rotate(-90)" x="0" y="0" font-size="9.6" text-anchor="middle" font-weight="bold" fill="#2a2a2a" textLength="34.20" lengthAdjust="spacingAndGlyphs">EMD NFAT1</text>
<text transform="translate(381.20,413.10) rotate(-45)" x="0" y="0" font-size="7.7" text-anchor="end" fill="#1c1c1c" stroke="#1c1c1c" stroke-width="0.13">FMC63</text>
<text transform="translate(405.80,413.10) rotate(-45)" x="0" y="0" font-size="7.6" text-anchor="end" fill="#1c1c1c" stroke="#1c1c1c" stroke-width="0.13">CAT</text>
<rect x="368.70" y="484.01" width="15.70" height="1.23" fill="#b0d1ef" />
<rect x="391.90" y="477.05" width="15.80" height="8.19" fill="#f8c58b" />
<line x1="362.90" y1="485.50" x2="412.90" y2="485.50" stroke="#2f2f2f" stroke-width="1.1" stroke-dasharray="2.8,1.8"/>
<line x1="376.50" y1="484.41" x2="376.50" y2="482.78" stroke="#222" stroke-width="1.05" />
<line x1="375.30" y1="484.50" x2="377.90" y2="484.50" stroke="#222" stroke-width="1.0" />
<line x1="375.30" y1="482.50" x2="377.90" y2="482.50" stroke="#222" stroke-width="1.0" />
<circle cx="376.90" cy="483.60" r="1.8" fill="#4a98c8" stroke="#14354c" stroke-width="1.15"/>
<circle cx="379.00" cy="481.96" r="1.8" fill="#4a98c8" stroke="#14354c" stroke-width="1.15"/>
<circle cx="375.80" cy="484.01" r="1.8" fill="#4a98c8" stroke="#14354c" stroke-width="1.15"/>
<line x1="399.50" y1="483.19" x2="399.50" y2="470.91" stroke="#222" stroke-width="1.05" />
<line x1="398.40" y1="483.50" x2="401.00" y2="483.50" stroke="#222" stroke-width="1.0" />
<line x1="398.40" y1="470.50" x2="401.00" y2="470.50" stroke="#222" stroke-width="1.0" />
<circle cx="396.00" cy="470.91" r="1.8" fill="#e0992e" stroke="#45280a" stroke-width="1.15"/>
<circle cx="399.60" cy="475.41" r="1.8" fill="#e0992e" stroke="#45280a" stroke-width="1.15"/>
<circle cx="399.60" cy="484.41" r="1.8" fill="#e0992e" stroke="#45280a" stroke-width="1.15"/>
<line x1="362.50" y1="442.70" x2="362.50" y2="506.20" stroke="#262626" stroke-width="1.15" />
<line x1="362.40" y1="505.50" x2="412.90" y2="505.50" stroke="#262626" stroke-width="1.15" />
<line x1="360.30" y1="444.50" x2="362.90" y2="444.50" stroke="#262626" stroke-width="0.95" />
<text x="357.30" y="446.75" font-size="7.2" text-anchor="end" font-weight="normal" fill="#1c1c1c" textLength="16.81" lengthAdjust="spacingAndGlyphs" stroke="#1c1c1c" stroke-width="0.13">1.00</text>
<line x1="360.30" y1="464.50" x2="362.90" y2="464.50" stroke="#262626" stroke-width="0.95" />
<text x="357.30" y="467.22" font-size="7.2" text-anchor="end" font-weight="normal" fill="#1c1c1c" textLength="16.81" lengthAdjust="spacingAndGlyphs" stroke="#1c1c1c" stroke-width="0.13">0.50</text>
<line x1="360.30" y1="485.50" x2="362.90" y2="485.50" stroke="#262626" stroke-width="0.95" />
<text x="357.30" y="487.68" font-size="7.2" text-anchor="end" font-weight="normal" fill="#1c1c1c" textLength="16.81" lengthAdjust="spacingAndGlyphs" stroke="#1c1c1c" stroke-width="0.13">0.00</text>
<line x1="360.30" y1="505.50" x2="362.90" y2="505.50" stroke="#262626" stroke-width="0.95" />
<text x="357.30" y="508.15" font-size="7.2" text-anchor="end" font-weight="normal" fill="#1c1c1c" textLength="21.86" lengthAdjust="spacingAndGlyphs" stroke="#1c1c1c" stroke-width="0.13">−0.50</text>
<line x1="376.50" y1="505.70" x2="376.50" y2="508.30" stroke="#262626" stroke-width="0.95" />
<line x1="399.50" y1="505.70" x2="399.50" y2="508.30" stroke="#262626" stroke-width="0.95" />
<line x1="378.10" y1="468.50" x2="399.90" y2="468.50" stroke="#4a4a4a" stroke-width="1.0" />
<text x="389.00" y="465.30" font-size="7.6" text-anchor="middle" font-weight="normal" fill="#3a3a3a" stroke="#3a3a3a" stroke-width="0.13">ns</text>
<text transform="translate(330.90,473.50) rotate(-90)" x="0" y="0" font-size="9.6" text-anchor="middle" font-weight="bold" fill="#2a2a2a" textLength="38.80" lengthAdjust="spacingAndGlyphs">EMD pZAP70</text>
<text transform="translate(380.60,514.60) rotate(-45)" x="0" y="0" font-size="7.7" text-anchor="end" fill="#1c1c1c" stroke="#1c1c1c" stroke-width="0.13">FMC63</text>
<text transform="translate(405.20,514.60) rotate(-45)" x="0" y="0" font-size="7.6" text-anchor="end" fill="#1c1c1c" stroke="#1c1c1c" stroke-width="0.13">CAT</text>
<rect x="475.00" y="483.19" width="15.70" height="2.05" fill="#b0d1ef" />
<rect x="498.20" y="479.91" width="15.80" height="5.32" fill="#f8c58b" />
<line x1="469.20" y1="485.50" x2="521.00" y2="485.50" stroke="#2f2f2f" stroke-width="1.1" stroke-dasharray="2.8,1.8"/>
<line x1="482.50" y1="484.01" x2="482.50" y2="481.96" stroke="#222" stroke-width="1.05" />
<line x1="481.60" y1="484.50" x2="484.20" y2="484.50" stroke="#222" stroke-width="1.0" />
<line x1="481.60" y1="481.50" x2="484.20" y2="481.50" stroke="#222" stroke-width="1.0" />
<circle cx="484.10" cy="481.14" r="1.8" fill="#4a98c8" stroke="#14354c" stroke-width="1.15"/>
<circle cx="482.60" cy="483.60" r="1.8" fill="#4a98c8" stroke="#14354c" stroke-width="1.15"/>
<circle cx="485.10" cy="482.78" r="1.8" fill="#4a98c8" stroke="#14354c" stroke-width="1.15"/>
<line x1="506.50" y1="484.41" x2="506.50" y2="476.23" stroke="#222" stroke-width="1.05" />
<line x1="504.70" y1="484.50" x2="507.30" y2="484.50" stroke="#222" stroke-width="1.0" />
<line x1="504.70" y1="476.50" x2="507.30" y2="476.50" stroke="#222" stroke-width="1.0" />
<circle cx="505.80" cy="476.64" r="1.8" fill="#e0992e" stroke="#45280a" stroke-width="1.15"/>
<circle cx="504.50" cy="479.09" r="1.8" fill="#e0992e" stroke="#45280a" stroke-width="1.15"/>
<circle cx="505.80" cy="484.41" r="1.8" fill="#e0992e" stroke="#45280a" stroke-width="1.15"/>
<line x1="469.50" y1="442.70" x2="469.50" y2="506.20" stroke="#262626" stroke-width="1.15" />
<line x1="468.70" y1="505.50" x2="521.00" y2="505.50" stroke="#262626" stroke-width="1.15" />
<line x1="466.60" y1="444.50" x2="469.20" y2="444.50" stroke="#262626" stroke-width="0.95" />
<text x="463.60" y="446.75" font-size="7.2" text-anchor="end" font-weight="normal" fill="#1c1c1c" textLength="16.81" lengthAdjust="spacingAndGlyphs" stroke="#1c1c1c" stroke-width="0.13">1.00</text>
<line x1="466.60" y1="464.50" x2="469.20" y2="464.50" stroke="#262626" stroke-width="0.95" />
<text x="463.60" y="467.22" font-size="7.2" text-anchor="end" font-weight="normal" fill="#1c1c1c" textLength="16.81" lengthAdjust="spacingAndGlyphs" stroke="#1c1c1c" stroke-width="0.13">0.50</text>
<line x1="466.60" y1="485.50" x2="469.20" y2="485.50" stroke="#262626" stroke-width="0.95" />
<text x="463.60" y="487.68" font-size="7.2" text-anchor="end" font-weight="normal" fill="#1c1c1c" textLength="16.81" lengthAdjust="spacingAndGlyphs" stroke="#1c1c1c" stroke-width="0.13">0.00</text>
<line x1="466.60" y1="505.50" x2="469.20" y2="505.50" stroke="#262626" stroke-width="0.95" />
<text x="463.60" y="508.15" font-size="7.2" text-anchor="end" font-weight="normal" fill="#1c1c1c" textLength="21.86" lengthAdjust="spacingAndGlyphs" stroke="#1c1c1c" stroke-width="0.13">−0.50</text>
<line x1="482.50" y1="505.70" x2="482.50" y2="508.30" stroke="#262626" stroke-width="0.95" />
<line x1="506.50" y1="505.70" x2="506.50" y2="508.30" stroke="#262626" stroke-width="0.95" />
<line x1="484.00" y1="473.50" x2="504.80" y2="473.50" stroke="#4a4a4a" stroke-width="1.0" />
<text x="494.40" y="470.60" font-size="7.6" text-anchor="middle" font-weight="normal" fill="#3a3a3a" stroke="#3a3a3a" stroke-width="0.13">ns</text>
<text transform="translate(436.70,473.50) rotate(-90)" x="0" y="0" font-size="9.6" text-anchor="middle" font-weight="bold" fill="#2a2a2a" textLength="27.40" lengthAdjust="spacingAndGlyphs">EMD pS6</text>
<text transform="translate(486.90,514.60) rotate(-45)" x="0" y="0" font-size="7.7" text-anchor="end" fill="#1c1c1c" stroke="#1c1c1c" stroke-width="0.13">FMC63</text>
<text transform="translate(511.50,514.60) rotate(-45)" x="0" y="0" font-size="7.6" text-anchor="end" fill="#1c1c1c" stroke="#1c1c1c" stroke-width="0.13">CAT</text>
<text x="1.00" y="320.70" font-size="10.4" text-anchor="start" font-weight="bold" fill="#111">D</text>
<rect x="50.10" y="358.65" width="17.30" height="23.92" fill="#8090bf" />
<rect x="75.20" y="357.97" width="16.90" height="24.60" fill="#e58276" />
<line x1="43.80" y1="382.50" x2="98.40" y2="382.50" stroke="#2f2f2f" stroke-width="1.1" stroke-dasharray="2.8,1.8"/>
<line x1="58.50" y1="364.80" x2="58.50" y2="354.55" stroke="#222" stroke-width="1.05" />
<line x1="57.45" y1="364.50" x2="60.05" y2="364.50" stroke="#222" stroke-width="1.0" />
<line x1="57.45" y1="354.50" x2="60.05" y2="354.50" stroke="#222" stroke-width="1.0" />
<circle cx="61.35" cy="353.87" r="1.8" fill="#22345e" stroke="#1b2a4d" stroke-width="1.15"/>
<circle cx="59.65" cy="356.74" r="1.8" fill="#22345e" stroke="#1b2a4d" stroke-width="1.15"/>
<circle cx="57.55" cy="365.62" r="1.8" fill="#22345e" stroke="#1b2a4d" stroke-width="1.15"/>
<line x1="83.50" y1="360.02" x2="83.50" y2="355.92" stroke="#222" stroke-width="1.05" />
<line x1="82.35" y1="360.50" x2="84.95" y2="360.50" stroke="#222" stroke-width="1.0" />
<line x1="82.35" y1="355.50" x2="84.95" y2="355.50" stroke="#222" stroke-width="1.0" />
<circle cx="78.95" cy="357.15" r="1.8" fill="#8c1f30" stroke="#5c0f1d" stroke-width="1.15"/>
<circle cx="84.05" cy="354.69" r="1.8" fill="#8c1f30" stroke="#5c0f1d" stroke-width="1.15"/>
<circle cx="84.05" cy="360.97" r="1.8" fill="#8c1f30" stroke="#5c0f1d" stroke-width="1.15"/>
<line x1="43.50" y1="326.30" x2="43.50" y2="389.90" stroke="#262626" stroke-width="1.15" />
<line x1="43.30" y1="389.50" x2="98.40" y2="389.50" stroke="#262626" stroke-width="1.15" />
<line x1="41.20" y1="327.50" x2="43.80" y2="327.50" stroke="#262626" stroke-width="0.95" />
<text x="38.20" y="330.35" font-size="7.2" text-anchor="end" font-weight="normal" fill="#1c1c1c" textLength="16.81" lengthAdjust="spacingAndGlyphs" stroke="#1c1c1c" stroke-width="0.13">4.00</text>
<line x1="41.20" y1="341.50" x2="43.80" y2="341.50" stroke="#262626" stroke-width="0.95" />
<text x="38.20" y="344.02" font-size="7.2" text-anchor="end" font-weight="normal" fill="#1c1c1c" textLength="16.81" lengthAdjust="spacingAndGlyphs" stroke="#1c1c1c" stroke-width="0.13">3.00</text>
<line x1="41.20" y1="355.50" x2="43.80" y2="355.50" stroke="#262626" stroke-width="0.95" />
<text x="38.20" y="357.68" font-size="7.2" text-anchor="end" font-weight="normal" fill="#1c1c1c" textLength="16.81" lengthAdjust="spacingAndGlyphs" stroke="#1c1c1c" stroke-width="0.13">2.00</text>
<line x1="41.20" y1="368.50" x2="43.80" y2="368.50" stroke="#262626" stroke-width="0.95" />
<text x="38.20" y="371.35" font-size="7.2" text-anchor="end" font-weight="normal" fill="#1c1c1c" textLength="16.81" lengthAdjust="spacingAndGlyphs" stroke="#1c1c1c" stroke-width="0.13">1.00</text>
<line x1="41.20" y1="382.50" x2="43.80" y2="382.50" stroke="#262626" stroke-width="0.95" />
<text x="38.20" y="385.02" font-size="7.2" text-anchor="end" font-weight="normal" fill="#1c1c1c" textLength="16.81" lengthAdjust="spacingAndGlyphs" stroke="#1c1c1c" stroke-width="0.13">0.00</text>
<line x1="58.50" y1="389.40" x2="58.50" y2="392.00" stroke="#262626" stroke-width="0.95" />
<line x1="83.50" y1="389.40" x2="83.50" y2="392.00" stroke="#262626" stroke-width="0.95" />
<line x1="58.00" y1="350.50" x2="82.90" y2="350.50" stroke="#4a4a4a" stroke-width="1.0" />
<text x="70.45" y="347.40" font-size="7.6" text-anchor="middle" font-weight="normal" fill="#3a3a3a" stroke="#3a3a3a" stroke-width="0.13">ns</text>
<text transform="translate(15.40,357.00) rotate(-90)" x="0" y="0" font-size="9.6" text-anchor="middle" font-weight="bold" fill="#2a2a2a" textLength="31.90" lengthAdjust="spacingAndGlyphs">EMD CD25</text>
<text transform="translate(62.75,399.40) rotate(-45)" x="0" y="0" font-size="7.7" text-anchor="end" fill="#1c1c1c" stroke="#1c1c1c" stroke-width="0.13">FMC63</text>
<text transform="translate(89.65,398.90) rotate(-45)" x="0" y="0" font-size="7.7" text-anchor="end" fill="#1c1c1c" stroke="#1c1c1c" stroke-width="0.13">CAT</text>
<rect x="153.90" y="358.60" width="16.30" height="5.68" fill="#8090bf" />
<rect x="176.60" y="356.76" width="15.80" height="1.84" fill="#e58276" />
<line x1="148.80" y1="358.50" x2="198.40" y2="358.50" stroke="#2f2f2f" stroke-width="1.1" stroke-dasharray="2.8,1.8"/>
<line x1="162.50" y1="370.88" x2="162.50" y2="358.14" stroke="#222" stroke-width="1.05" />
<line x1="160.75" y1="370.50" x2="163.35" y2="370.50" stroke="#222" stroke-width="1.0" />
<line x1="160.75" y1="358.50" x2="163.35" y2="358.50" stroke="#222" stroke-width="1.0" />
<circle cx="163.55" cy="352.92" r="1.8" fill="#22345e" stroke="#1b2a4d" stroke-width="1.15"/>
<circle cx="164.55" cy="363.05" r="1.8" fill="#22345e" stroke="#1b2a4d" stroke-width="1.15"/>
<circle cx="161.35" cy="377.17" r="1.8" fill="#22345e" stroke="#1b2a4d" stroke-width="1.15"/>
<line x1="184.50" y1="364.43" x2="184.50" y2="347.55" stroke="#222" stroke-width="1.05" />
<line x1="183.20" y1="364.50" x2="185.80" y2="364.50" stroke="#222" stroke-width="1.0" />
<line x1="183.20" y1="347.50" x2="185.80" y2="347.50" stroke="#222" stroke-width="1.0" />
<circle cx="182.10" cy="343.40" r="1.8" fill="#8c1f30" stroke="#5c0f1d" stroke-width="1.15"/>
<circle cx="184.60" cy="352.92" r="1.8" fill="#8c1f30" stroke="#5c0f1d" stroke-width="1.15"/>
<circle cx="184.60" cy="373.64" r="1.8" fill="#8c1f30" stroke="#5c0f1d" stroke-width="1.15"/>
<line x1="148.50" y1="326.30" x2="148.50" y2="389.80" stroke="#262626" stroke-width="1.15" />
<line x1="148.30" y1="389.50" x2="198.40" y2="389.50" stroke="#262626" stroke-width="1.15" />
<line x1="146.20" y1="327.50" x2="148.80" y2="327.50" stroke="#262626" stroke-width="0.95" />
<text x="143.20" y="330.35" font-size="7.2" text-anchor="end" font-weight="normal" fill="#1c1c1c" textLength="16.81" lengthAdjust="spacingAndGlyphs" stroke="#1c1c1c" stroke-width="0.13">2.00</text>
<line x1="146.20" y1="343.50" x2="148.80" y2="343.50" stroke="#262626" stroke-width="0.95" />
<text x="143.20" y="345.70" font-size="7.2" text-anchor="end" font-weight="normal" fill="#1c1c1c" textLength="16.81" lengthAdjust="spacingAndGlyphs" stroke="#1c1c1c" stroke-width="0.13">1.00</text>
<line x1="146.20" y1="358.50" x2="148.80" y2="358.50" stroke="#262626" stroke-width="0.95" />
<text x="143.20" y="361.05" font-size="7.2" text-anchor="end" font-weight="normal" fill="#1c1c1c" textLength="16.81" lengthAdjust="spacingAndGlyphs" stroke="#1c1c1c" stroke-width="0.13">0.00</text>
<line x1="146.20" y1="373.50" x2="148.80" y2="373.50" stroke="#262626" stroke-width="0.95" />
<text x="143.20" y="376.40" font-size="7.2" text-anchor="end" font-weight="normal" fill="#1c1c1c" textLength="21.86" lengthAdjust="spacingAndGlyphs" stroke="#1c1c1c" stroke-width="0.13">−1.00</text>
<line x1="146.20" y1="389.50" x2="148.80" y2="389.50" stroke="#262626" stroke-width="0.95" />
<text x="143.20" y="391.75" font-size="7.2" text-anchor="end" font-weight="normal" fill="#1c1c1c" textLength="21.86" lengthAdjust="spacingAndGlyphs" stroke="#1c1c1c" stroke-width="0.13">−2.00</text>
<line x1="162.50" y1="389.30" x2="162.50" y2="391.90" stroke="#262626" stroke-width="0.95" />
<line x1="184.50" y1="389.30" x2="184.50" y2="391.90" stroke="#262626" stroke-width="0.95" />
<line x1="162.40" y1="339.50" x2="184.60" y2="339.50" stroke="#4a4a4a" stroke-width="1.0" />
<text x="173.50" y="336.70" font-size="7.6" text-anchor="middle" font-weight="normal" fill="#3a3a3a" stroke="#3a3a3a" stroke-width="0.13">ns</text>
<text transform="translate(115.40,356.20) rotate(-90)" x="0" y="0" font-size="9.6" text-anchor="middle" font-weight="bold" fill="#2a2a2a" textLength="39.40" lengthAdjust="spacingAndGlyphs">EMD HLA-DR</text>
<text transform="translate(166.05,399.30) rotate(-45)" x="0" y="0" font-size="7.7" text-anchor="end" fill="#1c1c1c" stroke="#1c1c1c" stroke-width="0.13">FMC63</text>
<text transform="translate(190.50,398.80) rotate(-45)" x="0" y="0" font-size="7.7" text-anchor="end" fill="#1c1c1c" stroke="#1c1c1c" stroke-width="0.13">CAT</text>
<rect x="254.20" y="352.46" width="16.30" height="6.14" fill="#8090bf" />
<rect x="277.10" y="350.31" width="15.60" height="8.29" fill="#e58276" />
<line x1="248.60" y1="358.50" x2="298.70" y2="358.50" stroke="#2f2f2f" stroke-width="1.1" stroke-dasharray="2.8,1.8"/>
<line x1="262.50" y1="357.37" x2="262.50" y2="346.93" stroke="#222" stroke-width="1.05" />
<line x1="261.05" y1="357.50" x2="263.65" y2="357.50" stroke="#222" stroke-width="1.0" />
<line x1="261.05" y1="346.50" x2="263.65" y2="346.50" stroke="#222" stroke-width="1.0" />
<circle cx="264.85" cy="342.94" r="1.8" fill="#22345e" stroke="#1b2a4d" stroke-width="1.15"/>
<circle cx="262.10" cy="351.85" r="1.8" fill="#22345e" stroke="#1b2a4d" stroke-width="1.15"/>
<circle cx="263.85" cy="362.28" r="1.8" fill="#22345e" stroke="#1b2a4d" stroke-width="1.15"/>
<line x1="284.50" y1="353.38" x2="284.50" y2="347.55" stroke="#222" stroke-width="1.05" />
<line x1="283.60" y1="353.50" x2="286.20" y2="353.50" stroke="#222" stroke-width="1.0" />
<line x1="283.60" y1="347.50" x2="286.20" y2="347.50" stroke="#222" stroke-width="1.0" />
<circle cx="281.70" cy="343.86" r="1.8" fill="#8c1f30" stroke="#5c0f1d" stroke-width="1.15"/>
<circle cx="284.90" cy="351.85" r="1.8" fill="#8c1f30" stroke="#5c0f1d" stroke-width="1.15"/>
<circle cx="285.50" cy="353.38" r="1.8" fill="#8c1f30" stroke="#5c0f1d" stroke-width="1.15"/>
<line x1="248.50" y1="326.30" x2="248.50" y2="389.80" stroke="#262626" stroke-width="1.15" />
<line x1="248.10" y1="389.50" x2="298.70" y2="389.50" stroke="#262626" stroke-width="1.15" />
<line x1="246.00" y1="327.50" x2="248.60" y2="327.50" stroke="#262626" stroke-width="0.95" />
<text x="243.00" y="330.35" font-size="7.2" text-anchor="end" font-weight="normal" fill="#1c1c1c" textLength="16.81" lengthAdjust="spacingAndGlyphs" stroke="#1c1c1c" stroke-width="0.13">1.00</text>
<line x1="246.00" y1="343.50" x2="248.60" y2="343.50" stroke="#262626" stroke-width="0.95" />
<text x="243.00" y="345.70" font-size="7.2" text-anchor="end" font-weight="normal" fill="#1c1c1c" textLength="16.81" lengthAdjust="spacingAndGlyphs" stroke="#1c1c1c" stroke-width="0.13">0.50</text>
<line x1="246.00" y1="358.50" x2="248.60" y2="358.50" stroke="#262626" stroke-width="0.95" />
<text x="243.00" y="361.05" font-size="7.2" text-anchor="end" font-weight="normal" fill="#1c1c1c" textLength="16.81" lengthAdjust="spacingAndGlyphs" stroke="#1c1c1c" stroke-width="0.13">0.00</text>
<line x1="246.00" y1="373.50" x2="248.60" y2="373.50" stroke="#262626" stroke-width="0.95" />
<text x="243.00" y="376.40" font-size="7.2" text-anchor="end" font-weight="normal" fill="#1c1c1c" textLength="21.86" lengthAdjust="spacingAndGlyphs" stroke="#1c1c1c" stroke-width="0.13">−0.50</text>
<line x1="246.00" y1="389.50" x2="248.60" y2="389.50" stroke="#262626" stroke-width="0.95" />
<text x="243.00" y="391.75" font-size="7.2" text-anchor="end" font-weight="normal" fill="#1c1c1c" textLength="21.86" lengthAdjust="spacingAndGlyphs" stroke="#1c1c1c" stroke-width="0.13">−1.00</text>
<line x1="262.50" y1="389.30" x2="262.50" y2="391.90" stroke="#262626" stroke-width="0.95" />
<line x1="284.50" y1="389.30" x2="284.50" y2="391.90" stroke="#262626" stroke-width="0.95" />
<line x1="262.70" y1="339.50" x2="284.90" y2="339.50" stroke="#4a4a4a" stroke-width="1.0" />
<text x="273.80" y="336.20" font-size="7.6" text-anchor="middle" font-weight="normal" fill="#3a3a3a" stroke="#3a3a3a" stroke-width="0.13">ns</text>
<text transform="translate(215.40,362.80) rotate(-90)" x="0" y="0" font-size="9.6" text-anchor="middle" font-weight="bold" fill="#2a2a2a" textLength="34.20" lengthAdjust="spacingAndGlyphs">EMD NFAT1</text>
<text transform="translate(266.35,399.30) rotate(-45)" x="0" y="0" font-size="7.7" text-anchor="end" fill="#1c1c1c" stroke="#1c1c1c" stroke-width="0.13">FMC63</text>
<text transform="translate(290.90,398.80) rotate(-45)" x="0" y="0" font-size="7.7" text-anchor="end" fill="#1c1c1c" stroke="#1c1c1c" stroke-width="0.13">CAT</text>
<rect x="49.30" y="468.41" width="15.90" height="5.32" fill="#8090bf" />
<rect x="71.90" y="464.32" width="15.90" height="9.41" fill="#e58276" />
<line x1="43.80" y1="473.50" x2="93.10" y2="473.50" stroke="#2f2f2f" stroke-width="1.1" stroke-dasharray="2.8,1.8"/>
<line x1="57.50" y1="472.91" x2="57.50" y2="465.55" stroke="#222" stroke-width="1.05" />
<line x1="55.95" y1="472.50" x2="58.55" y2="472.50" stroke="#222" stroke-width="1.0" />
<line x1="55.95" y1="465.50" x2="58.55" y2="465.50" stroke="#222" stroke-width="1.0" />
<circle cx="59.85" cy="465.55" r="1.8" fill="#22345e" stroke="#1b2a4d" stroke-width="1.15"/>
<circle cx="56.75" cy="472.91" r="1.8" fill="#22345e" stroke="#1b2a4d" stroke-width="1.15"/>
<line x1="79.50" y1="471.69" x2="79.50" y2="456.95" stroke="#222" stroke-width="1.05" />
<line x1="78.55" y1="471.50" x2="81.15" y2="471.50" stroke="#222" stroke-width="1.0" />
<line x1="78.55" y1="456.50" x2="81.15" y2="456.50" stroke="#222" stroke-width="1.0" />
<circle cx="77.25" cy="456.95" r="1.8" fill="#8c1f30" stroke="#5c0f1d" stroke-width="1.15"/>
<circle cx="80.00" cy="461.04" r="1.8" fill="#8c1f30" stroke="#5c0f1d" stroke-width="1.15"/>
<circle cx="80.40" cy="471.69" r="1.8" fill="#8c1f30" stroke="#5c0f1d" stroke-width="1.15"/>
<line x1="43.50" y1="431.20" x2="43.50" y2="494.70" stroke="#262626" stroke-width="1.15" />
<line x1="43.30" y1="494.50" x2="93.10" y2="494.50" stroke="#262626" stroke-width="1.15" />
<line x1="41.20" y1="432.50" x2="43.80" y2="432.50" stroke="#262626" stroke-width="0.95" />
<text x="38.20" y="435.25" font-size="7.2" text-anchor="end" font-weight="normal" fill="#1c1c1c" textLength="16.81" lengthAdjust="spacingAndGlyphs" stroke="#1c1c1c" stroke-width="0.13">1.00</text>
<line x1="41.20" y1="453.50" x2="43.80" y2="453.50" stroke="#262626" stroke-width="0.95" />
<text x="38.20" y="455.72" font-size="7.2" text-anchor="end" font-weight="normal" fill="#1c1c1c" textLength="16.81" lengthAdjust="spacingAndGlyphs" stroke="#1c1c1c" stroke-width="0.13">0.50</text>
<line x1="41.20" y1="473.50" x2="43.80" y2="473.50" stroke="#262626" stroke-width="0.95" />
<text x="38.20" y="476.18" font-size="7.2" text-anchor="end" font-weight="normal" fill="#1c1c1c" textLength="16.81" lengthAdjust="spacingAndGlyphs" stroke="#1c1c1c" stroke-width="0.13">0.00</text>
<line x1="41.20" y1="494.50" x2="43.80" y2="494.50" stroke="#262626" stroke-width="0.95" />
<text x="38.20" y="496.65" font-size="7.2" text-anchor="end" font-weight="normal" fill="#1c1c1c" textLength="21.86" lengthAdjust="spacingAndGlyphs" stroke="#1c1c1c" stroke-width="0.13">−0.50</text>
<line x1="57.50" y1="494.20" x2="57.50" y2="496.80" stroke="#262626" stroke-width="0.95" />
<line x1="79.50" y1="494.20" x2="79.50" y2="496.80" stroke="#262626" stroke-width="0.95" />
<line x1="57.50" y1="454.50" x2="80.00" y2="454.50" stroke="#4a4a4a" stroke-width="1.0" />
<text x="68.75" y="451.30" font-size="7.6" text-anchor="middle" font-weight="normal" fill="#3a3a3a" stroke="#3a3a3a" stroke-width="0.13">ns</text>
<text transform="translate(10.80,461.80) rotate(-90)" x="0" y="0" font-size="9.6" text-anchor="middle" font-weight="bold" fill="#2a2a2a" textLength="39.30" lengthAdjust="spacingAndGlyphs">EMD pZAP70</text>
<text transform="translate(61.25,504.20) rotate(-45)" x="0" y="0" font-size="7.7" text-anchor="end" fill="#1c1c1c" stroke="#1c1c1c" stroke-width="0.13">FMC63</text>
<text transform="translate(85.85,503.70) rotate(-45)" x="0" y="0" font-size="7.7" text-anchor="end" fill="#1c1c1c" stroke="#1c1c1c" stroke-width="0.13">CAT</text>
<rect x="154.60" y="464.73" width="15.60" height="9.01" fill="#8090bf" />
<rect x="177.20" y="462.27" width="15.90" height="11.46" fill="#e58276" />
<line x1="149.10" y1="473.50" x2="199.00" y2="473.50" stroke="#2f2f2f" stroke-width="1.1" stroke-dasharray="2.8,1.8"/>
<line x1="162.50" y1="469.64" x2="162.50" y2="460.23" stroke="#222" stroke-width="1.05" />
<line x1="161.10" y1="469.50" x2="163.70" y2="469.50" stroke="#222" stroke-width="1.0" />
<line x1="161.10" y1="460.50" x2="163.70" y2="460.50" stroke="#222" stroke-width="1.0" />
<circle cx="165.20" cy="456.95" r="1.8" fill="#22345e" stroke="#1b2a4d" stroke-width="1.15"/>
<circle cx="163.50" cy="466.77" r="1.8" fill="#22345e" stroke="#1b2a4d" stroke-width="1.15"/>
<circle cx="161.30" cy="469.64" r="1.8" fill="#22345e" stroke="#1b2a4d" stroke-width="1.15"/>
<line x1="185.50" y1="467.18" x2="185.50" y2="459.00" stroke="#222" stroke-width="1.05" />
<line x1="183.85" y1="467.50" x2="186.45" y2="467.50" stroke="#222" stroke-width="1.0" />
<line x1="183.85" y1="458.50" x2="186.45" y2="458.50" stroke="#222" stroke-width="1.0" />
<circle cx="181.40" cy="458.18" r="1.8" fill="#8c1f30" stroke="#5c0f1d" stroke-width="1.15"/>
<circle cx="184.60" cy="460.23" r="1.8" fill="#8c1f30" stroke="#5c0f1d" stroke-width="1.15"/>
<circle cx="184.60" cy="467.18" r="1.8" fill="#8c1f30" stroke="#5c0f1d" stroke-width="1.15"/>
<line x1="149.50" y1="431.20" x2="149.50" y2="494.70" stroke="#262626" stroke-width="1.15" />
<line x1="148.60" y1="494.50" x2="199.00" y2="494.50" stroke="#262626" stroke-width="1.15" />
<line x1="146.50" y1="432.50" x2="149.10" y2="432.50" stroke="#262626" stroke-width="0.95" />
<text x="143.50" y="435.25" font-size="7.2" text-anchor="end" font-weight="normal" fill="#1c1c1c" textLength="16.81" lengthAdjust="spacingAndGlyphs" stroke="#1c1c1c" stroke-width="0.13">1.00</text>
<line x1="146.50" y1="453.50" x2="149.10" y2="453.50" stroke="#262626" stroke-width="0.95" />
<text x="143.50" y="455.72" font-size="7.2" text-anchor="end" font-weight="normal" fill="#1c1c1c" textLength="16.81" lengthAdjust="spacingAndGlyphs" stroke="#1c1c1c" stroke-width="0.13">0.50</text>
<line x1="146.50" y1="473.50" x2="149.10" y2="473.50" stroke="#262626" stroke-width="0.95" />
<text x="143.50" y="476.18" font-size="7.2" text-anchor="end" font-weight="normal" fill="#1c1c1c" textLength="16.81" lengthAdjust="spacingAndGlyphs" stroke="#1c1c1c" stroke-width="0.13">0.00</text>
<line x1="146.50" y1="494.50" x2="149.10" y2="494.50" stroke="#262626" stroke-width="0.95" />
<text x="143.50" y="496.65" font-size="7.2" text-anchor="end" font-weight="normal" fill="#1c1c1c" textLength="21.86" lengthAdjust="spacingAndGlyphs" stroke="#1c1c1c" stroke-width="0.13">−0.50</text>
<line x1="162.50" y1="494.20" x2="162.50" y2="496.80" stroke="#262626" stroke-width="0.95" />
<line x1="185.50" y1="494.20" x2="185.50" y2="496.80" stroke="#262626" stroke-width="0.95" />
<line x1="162.80" y1="454.50" x2="185.00" y2="454.50" stroke="#4a4a4a" stroke-width="1.0" />
<text x="173.90" y="451.30" font-size="7.6" text-anchor="middle" font-weight="normal" fill="#3a3a3a" stroke="#3a3a3a" stroke-width="0.13">ns</text>
<text transform="translate(115.40,461.50) rotate(-90)" x="0" y="0" font-size="9.6" text-anchor="middle" font-weight="bold" fill="#2a2a2a" textLength="27.40" lengthAdjust="spacingAndGlyphs">EMD pS6</text>
<text transform="translate(166.40,504.20) rotate(-45)" x="0" y="0" font-size="7.7" text-anchor="end" fill="#1c1c1c" stroke="#1c1c1c" stroke-width="0.13">FMC63</text>
<text transform="translate(191.15,503.70) rotate(-45)" x="0" y="0" font-size="7.7" text-anchor="end" fill="#1c1c1c" stroke="#1c1c1c" stroke-width="0.13">CAT</text>
<rect x="254.20" y="460.63" width="15.90" height="13.10" fill="#8090bf" />
<rect x="276.90" y="456.13" width="15.80" height="17.60" fill="#e58276" />
<line x1="248.30" y1="473.50" x2="298.70" y2="473.50" stroke="#2f2f2f" stroke-width="1.1" stroke-dasharray="2.8,1.8"/>
<line x1="262.50" y1="465.96" x2="262.50" y2="454.09" stroke="#222" stroke-width="1.05" />
<line x1="260.85" y1="465.50" x2="263.45" y2="465.50" stroke="#222" stroke-width="1.0" />
<line x1="260.85" y1="454.50" x2="263.45" y2="454.50" stroke="#222" stroke-width="1.0" />
<circle cx="264.80" cy="448.35" r="1.8" fill="#22345e" stroke="#1b2a4d" stroke-width="1.15"/>
<circle cx="261.60" cy="465.14" r="1.8" fill="#22345e" stroke="#1b2a4d" stroke-width="1.15"/>
<circle cx="263.80" cy="465.96" r="1.8" fill="#22345e" stroke="#1b2a4d" stroke-width="1.15"/>
<line x1="284.50" y1="460.63" x2="284.50" y2="453.27" stroke="#222" stroke-width="1.05" />
<line x1="283.50" y1="460.50" x2="286.10" y2="460.50" stroke="#222" stroke-width="1.0" />
<line x1="283.50" y1="453.50" x2="286.10" y2="453.50" stroke="#222" stroke-width="1.0" />
<circle cx="281.70" cy="451.22" r="1.8" fill="#8c1f30" stroke="#5c0f1d" stroke-width="1.15"/>
<circle cx="284.90" cy="457.77" r="1.8" fill="#8c1f30" stroke="#5c0f1d" stroke-width="1.15"/>
<circle cx="285.50" cy="460.63" r="1.8" fill="#8c1f30" stroke="#5c0f1d" stroke-width="1.15"/>
<line x1="248.50" y1="431.20" x2="248.50" y2="494.70" stroke="#262626" stroke-width="1.15" />
<line x1="247.80" y1="494.50" x2="298.70" y2="494.50" stroke="#262626" stroke-width="1.15" />
<line x1="245.70" y1="432.50" x2="248.30" y2="432.50" stroke="#262626" stroke-width="0.95" />
<text x="242.70" y="435.25" font-size="7.2" text-anchor="end" font-weight="normal" fill="#1c1c1c" textLength="16.81" lengthAdjust="spacingAndGlyphs" stroke="#1c1c1c" stroke-width="0.13">1.00</text>
<line x1="245.70" y1="453.50" x2="248.30" y2="453.50" stroke="#262626" stroke-width="0.95" />
<text x="242.70" y="455.72" font-size="7.2" text-anchor="end" font-weight="normal" fill="#1c1c1c" textLength="16.81" lengthAdjust="spacingAndGlyphs" stroke="#1c1c1c" stroke-width="0.13">0.50</text>
<line x1="245.70" y1="473.50" x2="248.30" y2="473.50" stroke="#262626" stroke-width="0.95" />
<text x="242.70" y="476.18" font-size="7.2" text-anchor="end" font-weight="normal" fill="#1c1c1c" textLength="16.81" lengthAdjust="spacingAndGlyphs" stroke="#1c1c1c" stroke-width="0.13">0.00</text>
<line x1="245.70" y1="494.50" x2="248.30" y2="494.50" stroke="#262626" stroke-width="0.95" />
<text x="242.70" y="496.65" font-size="7.2" text-anchor="end" font-weight="normal" fill="#1c1c1c" textLength="21.86" lengthAdjust="spacingAndGlyphs" stroke="#1c1c1c" stroke-width="0.13">−0.50</text>
<line x1="262.50" y1="494.20" x2="262.50" y2="496.80" stroke="#262626" stroke-width="0.95" />
<line x1="284.50" y1="494.20" x2="284.50" y2="496.80" stroke="#262626" stroke-width="0.95" />
<line x1="263.10" y1="445.50" x2="285.30" y2="445.50" stroke="#4a4a4a" stroke-width="1.0" />
<text x="274.20" y="442.60" font-size="7.6" text-anchor="middle" font-weight="normal" fill="#3a3a3a" stroke="#3a3a3a" stroke-width="0.13">ns</text>
<text transform="translate(215.60,465.20) rotate(-90)" x="0" y="0" font-size="9.6" text-anchor="middle" font-weight="bold" fill="#2a2a2a" textLength="31.40" lengthAdjust="spacingAndGlyphs">EMD pp38</text>
<text transform="translate(266.15,504.20) rotate(-45)" x="0" y="0" font-size="7.7" text-anchor="end" fill="#1c1c1c" stroke="#1c1c1c" stroke-width="0.13">FMC63</text>
<text transform="translate(290.80,503.70) rotate(-45)" x="0" y="0" font-size="7.7" text-anchor="end" fill="#1c1c1c" stroke="#1c1c1c" stroke-width="0.13">CAT</text>
<rect x="49.30" y="555.72" width="15.90" height="25.58" fill="#8090bf" />
<rect x="72.40" y="552.47" width="15.80" height="28.83" fill="#e58276" />
<line x1="43.80" y1="581.50" x2="93.10" y2="581.50" stroke="#2f2f2f" stroke-width="1.1" stroke-dasharray="2.8,1.8"/>
<line x1="57.50" y1="561.00" x2="57.50" y2="550.04" stroke="#222" stroke-width="1.05" />
<line x1="55.95" y1="561.50" x2="58.55" y2="561.50" stroke="#222" stroke-width="1.0" />
<line x1="55.95" y1="550.50" x2="58.55" y2="550.50" stroke="#222" stroke-width="1.0" />
<circle cx="60.25" cy="545.57" r="1.8" fill="#22345e" stroke="#1b2a4d" stroke-width="1.15"/>
<circle cx="56.10" cy="558.16" r="1.8" fill="#22345e" stroke="#1b2a4d" stroke-width="1.15"/>
<circle cx="58.80" cy="561.00" r="1.8" fill="#22345e" stroke="#1b2a4d" stroke-width="1.15"/>
<line x1="80.50" y1="556.13" x2="80.50" y2="548.82" stroke="#222" stroke-width="1.05" />
<line x1="79.00" y1="556.50" x2="81.60" y2="556.50" stroke="#222" stroke-width="1.0" />
<line x1="79.00" y1="548.50" x2="81.60" y2="548.50" stroke="#222" stroke-width="1.0" />
<circle cx="77.20" cy="546.38" r="1.8" fill="#8c1f30" stroke="#5c0f1d" stroke-width="1.15"/>
<circle cx="80.00" cy="553.29" r="1.8" fill="#8c1f30" stroke="#5c0f1d" stroke-width="1.15"/>
<circle cx="80.00" cy="556.13" r="1.8" fill="#8c1f30" stroke="#5c0f1d" stroke-width="1.15"/>
<line x1="43.50" y1="539.10" x2="43.50" y2="602.10" stroke="#262626" stroke-width="1.15" />
<line x1="43.30" y1="601.50" x2="93.10" y2="601.50" stroke="#262626" stroke-width="1.15" />
<line x1="41.20" y1="540.50" x2="43.80" y2="540.50" stroke="#262626" stroke-width="0.95" />
<text x="38.20" y="543.15" font-size="7.2" text-anchor="end" font-weight="normal" fill="#1c1c1c" textLength="16.81" lengthAdjust="spacingAndGlyphs" stroke="#1c1c1c" stroke-width="0.13">1.00</text>
<line x1="41.20" y1="561.50" x2="43.80" y2="561.50" stroke="#262626" stroke-width="0.95" />
<text x="38.20" y="563.45" font-size="7.2" text-anchor="end" font-weight="normal" fill="#1c1c1c" textLength="16.81" lengthAdjust="spacingAndGlyphs" stroke="#1c1c1c" stroke-width="0.13">0.50</text>
<line x1="41.20" y1="581.50" x2="43.80" y2="581.50" stroke="#262626" stroke-width="0.95" />
<text x="38.20" y="583.75" font-size="7.2" text-anchor="end" font-weight="normal" fill="#1c1c1c" textLength="16.81" lengthAdjust="spacingAndGlyphs" stroke="#1c1c1c" stroke-width="0.13">0.00</text>
<line x1="41.20" y1="601.50" x2="43.80" y2="601.50" stroke="#262626" stroke-width="0.95" />
<text x="38.20" y="604.05" font-size="7.2" text-anchor="end" font-weight="normal" fill="#1c1c1c" textLength="21.86" lengthAdjust="spacingAndGlyphs" stroke="#1c1c1c" stroke-width="0.13">−0.50</text>
<line x1="57.50" y1="601.60" x2="57.50" y2="604.20" stroke="#262626" stroke-width="0.95" />
<line x1="80.50" y1="601.60" x2="80.50" y2="604.20" stroke="#262626" stroke-width="0.95" />
<line x1="57.10" y1="542.50" x2="79.30" y2="542.50" stroke="#4a4a4a" stroke-width="1.0" />
<text x="68.20" y="539.90" font-size="7.6" text-anchor="middle" font-weight="normal" fill="#3a3a3a" stroke="#3a3a3a" stroke-width="0.13">ns</text>
<text transform="translate(10.80,569.30) rotate(-90)" x="0" y="0" font-size="9.6" text-anchor="middle" font-weight="bold" fill="#2a2a2a" textLength="29.70" lengthAdjust="spacingAndGlyphs">EMD pRB</text>
<text transform="translate(61.25,611.60) rotate(-45)" x="0" y="0" font-size="7.7" text-anchor="end" fill="#1c1c1c" stroke="#1c1c1c" stroke-width="0.13">FMC63</text>
<text transform="translate(86.30,611.10) rotate(-45)" x="0" y="0" font-size="7.7" text-anchor="end" fill="#1c1c1c" stroke="#1c1c1c" stroke-width="0.13">CAT</text>
<rect x="154.60" y="570.54" width="15.60" height="0.61" fill="#8090bf" />
<rect x="176.60" y="568.71" width="16.50" height="2.44" fill="#e58276" />
<line x1="149.10" y1="571.50" x2="199.00" y2="571.50" stroke="#2f2f2f" stroke-width="1.1" stroke-dasharray="2.8,1.8"/>
<line x1="162.50" y1="576.63" x2="162.50" y2="562.93" stroke="#222" stroke-width="1.05" />
<line x1="161.10" y1="576.50" x2="163.70" y2="576.50" stroke="#222" stroke-width="1.0" />
<line x1="161.10" y1="562.50" x2="163.70" y2="562.50" stroke="#222" stroke-width="1.0" />
<circle cx="164.90" cy="557.14" r="1.8" fill="#22345e" stroke="#1b2a4d" stroke-width="1.15"/>
<circle cx="163.50" cy="572.37" r="1.8" fill="#22345e" stroke="#1b2a4d" stroke-width="1.15"/>
<circle cx="161.80" cy="579.68" r="1.8" fill="#22345e" stroke="#1b2a4d" stroke-width="1.15"/>
<line x1="184.50" y1="573.59" x2="184.50" y2="560.80" stroke="#222" stroke-width="1.05" />
<line x1="183.55" y1="573.50" x2="186.15" y2="573.50" stroke="#222" stroke-width="1.0" />
<line x1="183.55" y1="560.50" x2="186.15" y2="560.50" stroke="#222" stroke-width="1.0" />
<circle cx="182.10" cy="555.62" r="1.8" fill="#8c1f30" stroke="#5c0f1d" stroke-width="1.15"/>
<circle cx="184.60" cy="567.19" r="1.8" fill="#8c1f30" stroke="#5c0f1d" stroke-width="1.15"/>
<circle cx="185.00" cy="579.37" r="1.8" fill="#8c1f30" stroke="#5c0f1d" stroke-width="1.15"/>
<line x1="149.50" y1="539.10" x2="149.50" y2="602.10" stroke="#262626" stroke-width="1.15" />
<line x1="148.60" y1="601.50" x2="199.00" y2="601.50" stroke="#262626" stroke-width="1.15" />
<line x1="146.50" y1="540.50" x2="149.10" y2="540.50" stroke="#262626" stroke-width="0.95" />
<text x="143.50" y="543.15" font-size="7.2" text-anchor="end" font-weight="normal" fill="#1c1c1c" textLength="16.81" lengthAdjust="spacingAndGlyphs" stroke="#1c1c1c" stroke-width="0.13">1.00</text>
<line x1="146.50" y1="555.50" x2="149.10" y2="555.50" stroke="#262626" stroke-width="0.95" />
<text x="143.50" y="558.38" font-size="7.2" text-anchor="end" font-weight="normal" fill="#1c1c1c" textLength="16.81" lengthAdjust="spacingAndGlyphs" stroke="#1c1c1c" stroke-width="0.13">0.50</text>
<line x1="146.50" y1="571.50" x2="149.10" y2="571.50" stroke="#262626" stroke-width="0.95" />
<text x="143.50" y="573.60" font-size="7.2" text-anchor="end" font-weight="normal" fill="#1c1c1c" textLength="16.81" lengthAdjust="spacingAndGlyphs" stroke="#1c1c1c" stroke-width="0.13">0.00</text>
<line x1="146.50" y1="586.50" x2="149.10" y2="586.50" stroke="#262626" stroke-width="0.95" />
<text x="143.50" y="588.83" font-size="7.2" text-anchor="end" font-weight="normal" fill="#1c1c1c" textLength="21.86" lengthAdjust="spacingAndGlyphs" stroke="#1c1c1c" stroke-width="0.13">−0.50</text>
<line x1="146.50" y1="601.50" x2="149.10" y2="601.50" stroke="#262626" stroke-width="0.95" />
<text x="143.50" y="604.05" font-size="7.2" text-anchor="end" font-weight="normal" fill="#1c1c1c" textLength="21.86" lengthAdjust="spacingAndGlyphs" stroke="#1c1c1c" stroke-width="0.13">−1.00</text>
<line x1="162.50" y1="601.60" x2="162.50" y2="604.20" stroke="#262626" stroke-width="0.95" />
<line x1="184.50" y1="601.60" x2="184.50" y2="604.20" stroke="#262626" stroke-width="0.95" />
<line x1="162.40" y1="552.50" x2="185.00" y2="552.50" stroke="#4a4a4a" stroke-width="1.0" />
<text x="173.70" y="550.00" font-size="7.6" text-anchor="middle" font-weight="normal" fill="#3a3a3a" stroke="#3a3a3a" stroke-width="0.13">ns</text>
<text transform="translate(115.40,569.40) rotate(-90)" x="0" y="0" font-size="9.6" text-anchor="middle" font-weight="bold" fill="#2a2a2a" textLength="28.50" lengthAdjust="spacingAndGlyphs">EMD CD4</text>
<text transform="translate(166.40,611.60) rotate(-45)" x="0" y="0" font-size="7.7" text-anchor="end" fill="#1c1c1c" stroke="#1c1c1c" stroke-width="0.13">FMC63</text>
<text transform="translate(190.85,611.10) rotate(-45)" x="0" y="0" font-size="7.7" text-anchor="end" fill="#1c1c1c" stroke="#1c1c1c" stroke-width="0.13">CAT</text>
<text x="314.60" y="545.40" font-size="10.4" text-anchor="start" font-weight="bold" fill="#111">E</text>
<rect x="378.10" y="586.09" width="23.90" height="56.31" fill="#8090bf" />
<rect x="412.90" y="580.68" width="24.40" height="61.72" fill="#e58276" />
<rect x="378.10" y="597.35" width="23.90" height="0.00" fill="none" />
<rect x="412.90" y="597.35" width="24.40" height="0.00" fill="none" />
<line x1="368.10" y1="597.50" x2="445.80" y2="597.50" stroke="#2f2f2f" stroke-width="1.1" stroke-dasharray="2.8,1.8"/>
<line x1="389.50" y1="590.59" x2="389.50" y2="583.38" stroke="#222" stroke-width="1.05" />
<line x1="388.60" y1="590.50" x2="391.20" y2="590.50" stroke="#222" stroke-width="1.0" />
<line x1="388.60" y1="583.50" x2="391.20" y2="583.50" stroke="#222" stroke-width="1.0" />
<circle cx="385.40" cy="584.29" r="1.8" fill="#22345e" stroke="#1b2a4d" stroke-width="1.15"/>
<circle cx="389.90" cy="581.13" r="1.8" fill="#22345e" stroke="#1b2a4d" stroke-width="1.15"/>
<circle cx="389.90" cy="593.75" r="1.8" fill="#22345e" stroke="#1b2a4d" stroke-width="1.15"/>
<line x1="425.50" y1="582.48" x2="425.50" y2="578.88" stroke="#222" stroke-width="1.05" />
<line x1="423.80" y1="582.50" x2="426.40" y2="582.50" stroke="#222" stroke-width="1.0" />
<line x1="423.80" y1="578.50" x2="426.40" y2="578.50" stroke="#222" stroke-width="1.0" />
<circle cx="424.10" cy="577.98" r="1.8" fill="#8c1f30" stroke="#5c0f1d" stroke-width="1.15"/>
<circle cx="428.10" cy="581.58" r="1.8" fill="#8c1f30" stroke="#5c0f1d" stroke-width="1.15"/>
<circle cx="427.40" cy="583.38" r="1.8" fill="#8c1f30" stroke="#5c0f1d" stroke-width="1.15"/>
<line x1="368.50" y1="550.70" x2="368.50" y2="642.90" stroke="#262626" stroke-width="1.15" />
<line x1="367.60" y1="642.50" x2="445.80" y2="642.50" stroke="#262626" stroke-width="1.15" />
<line x1="365.50" y1="552.50" x2="368.10" y2="552.50" stroke="#262626" stroke-width="0.95" />
<text x="362.50" y="554.75" font-size="7.2" text-anchor="end" font-weight="normal" fill="#1c1c1c" textLength="16.81" lengthAdjust="spacingAndGlyphs" stroke="#1c1c1c" stroke-width="0.13">2.00</text>
<line x1="365.50" y1="574.50" x2="368.10" y2="574.50" stroke="#262626" stroke-width="0.95" />
<text x="362.50" y="577.27" font-size="7.2" text-anchor="end" font-weight="normal" fill="#1c1c1c" textLength="16.81" lengthAdjust="spacingAndGlyphs" stroke="#1c1c1c" stroke-width="0.13">1.50</text>
<line x1="365.50" y1="597.50" x2="368.10" y2="597.50" stroke="#262626" stroke-width="0.95" />
<text x="362.50" y="599.80" font-size="7.2" text-anchor="end" font-weight="normal" fill="#1c1c1c" textLength="16.81" lengthAdjust="spacingAndGlyphs" stroke="#1c1c1c" stroke-width="0.13">1.00</text>
<line x1="365.50" y1="619.50" x2="368.10" y2="619.50" stroke="#262626" stroke-width="0.95" />
<text x="362.50" y="622.33" font-size="7.2" text-anchor="end" font-weight="normal" fill="#1c1c1c" textLength="16.81" lengthAdjust="spacingAndGlyphs" stroke="#1c1c1c" stroke-width="0.13">0.50</text>
<line x1="365.50" y1="642.50" x2="368.10" y2="642.50" stroke="#262626" stroke-width="0.95" />
<text x="362.50" y="644.85" font-size="7.2" text-anchor="end" font-weight="normal" fill="#1c1c1c" textLength="16.81" lengthAdjust="spacingAndGlyphs" stroke="#1c1c1c" stroke-width="0.13">0.00</text>
<line x1="389.50" y1="642.40" x2="389.50" y2="645.00" stroke="#262626" stroke-width="0.95" />
<line x1="425.50" y1="642.40" x2="425.50" y2="645.00" stroke="#262626" stroke-width="0.95" />
<line x1="391.20" y1="575.50" x2="424.90" y2="575.50" stroke="#4a4a4a" stroke-width="1.0" />
<text x="408.05" y="572.90" font-size="7.6" text-anchor="middle" font-weight="normal" fill="#3a3a3a" stroke="#3a3a3a" stroke-width="0.13">ns</text>
<text transform="translate(330.30,596.60) rotate(-90)" x="0" y="0" font-size="9.7" text-anchor="middle" font-weight="normal" fill="#1a1a1a" textLength="67.20" lengthAdjust="spacingAndGlyphs" stroke="#1a1a1a" stroke-width="0.25">Mean polyfunctionality</text>
<text transform="translate(341.00,597.30) rotate(-90)" x="0" y="0" font-size="9.4" text-anchor="middle" font-weight="normal" fill="#1a1a1a" textLength="54.20" lengthAdjust="spacingAndGlyphs" stroke="#1a1a1a" stroke-width="0.25">(relative to UNTR)</text>
<text x="389.90" y="655.50" font-size="7.9" text-anchor="middle" font-weight="normal" fill="#1c1c1c" textLength="26.60" lengthAdjust="spacingAndGlyphs" stroke="#1c1c1c" stroke-width="0.13">FMC63</text>
<text x="425.00" y="655.50" font-size="7.9" text-anchor="middle" font-weight="normal" fill="#1c1c1c" textLength="14.80" lengthAdjust="spacingAndGlyphs" stroke="#1c1c1c" stroke-width="0.13">CAT</text>
</svg></body></html>
